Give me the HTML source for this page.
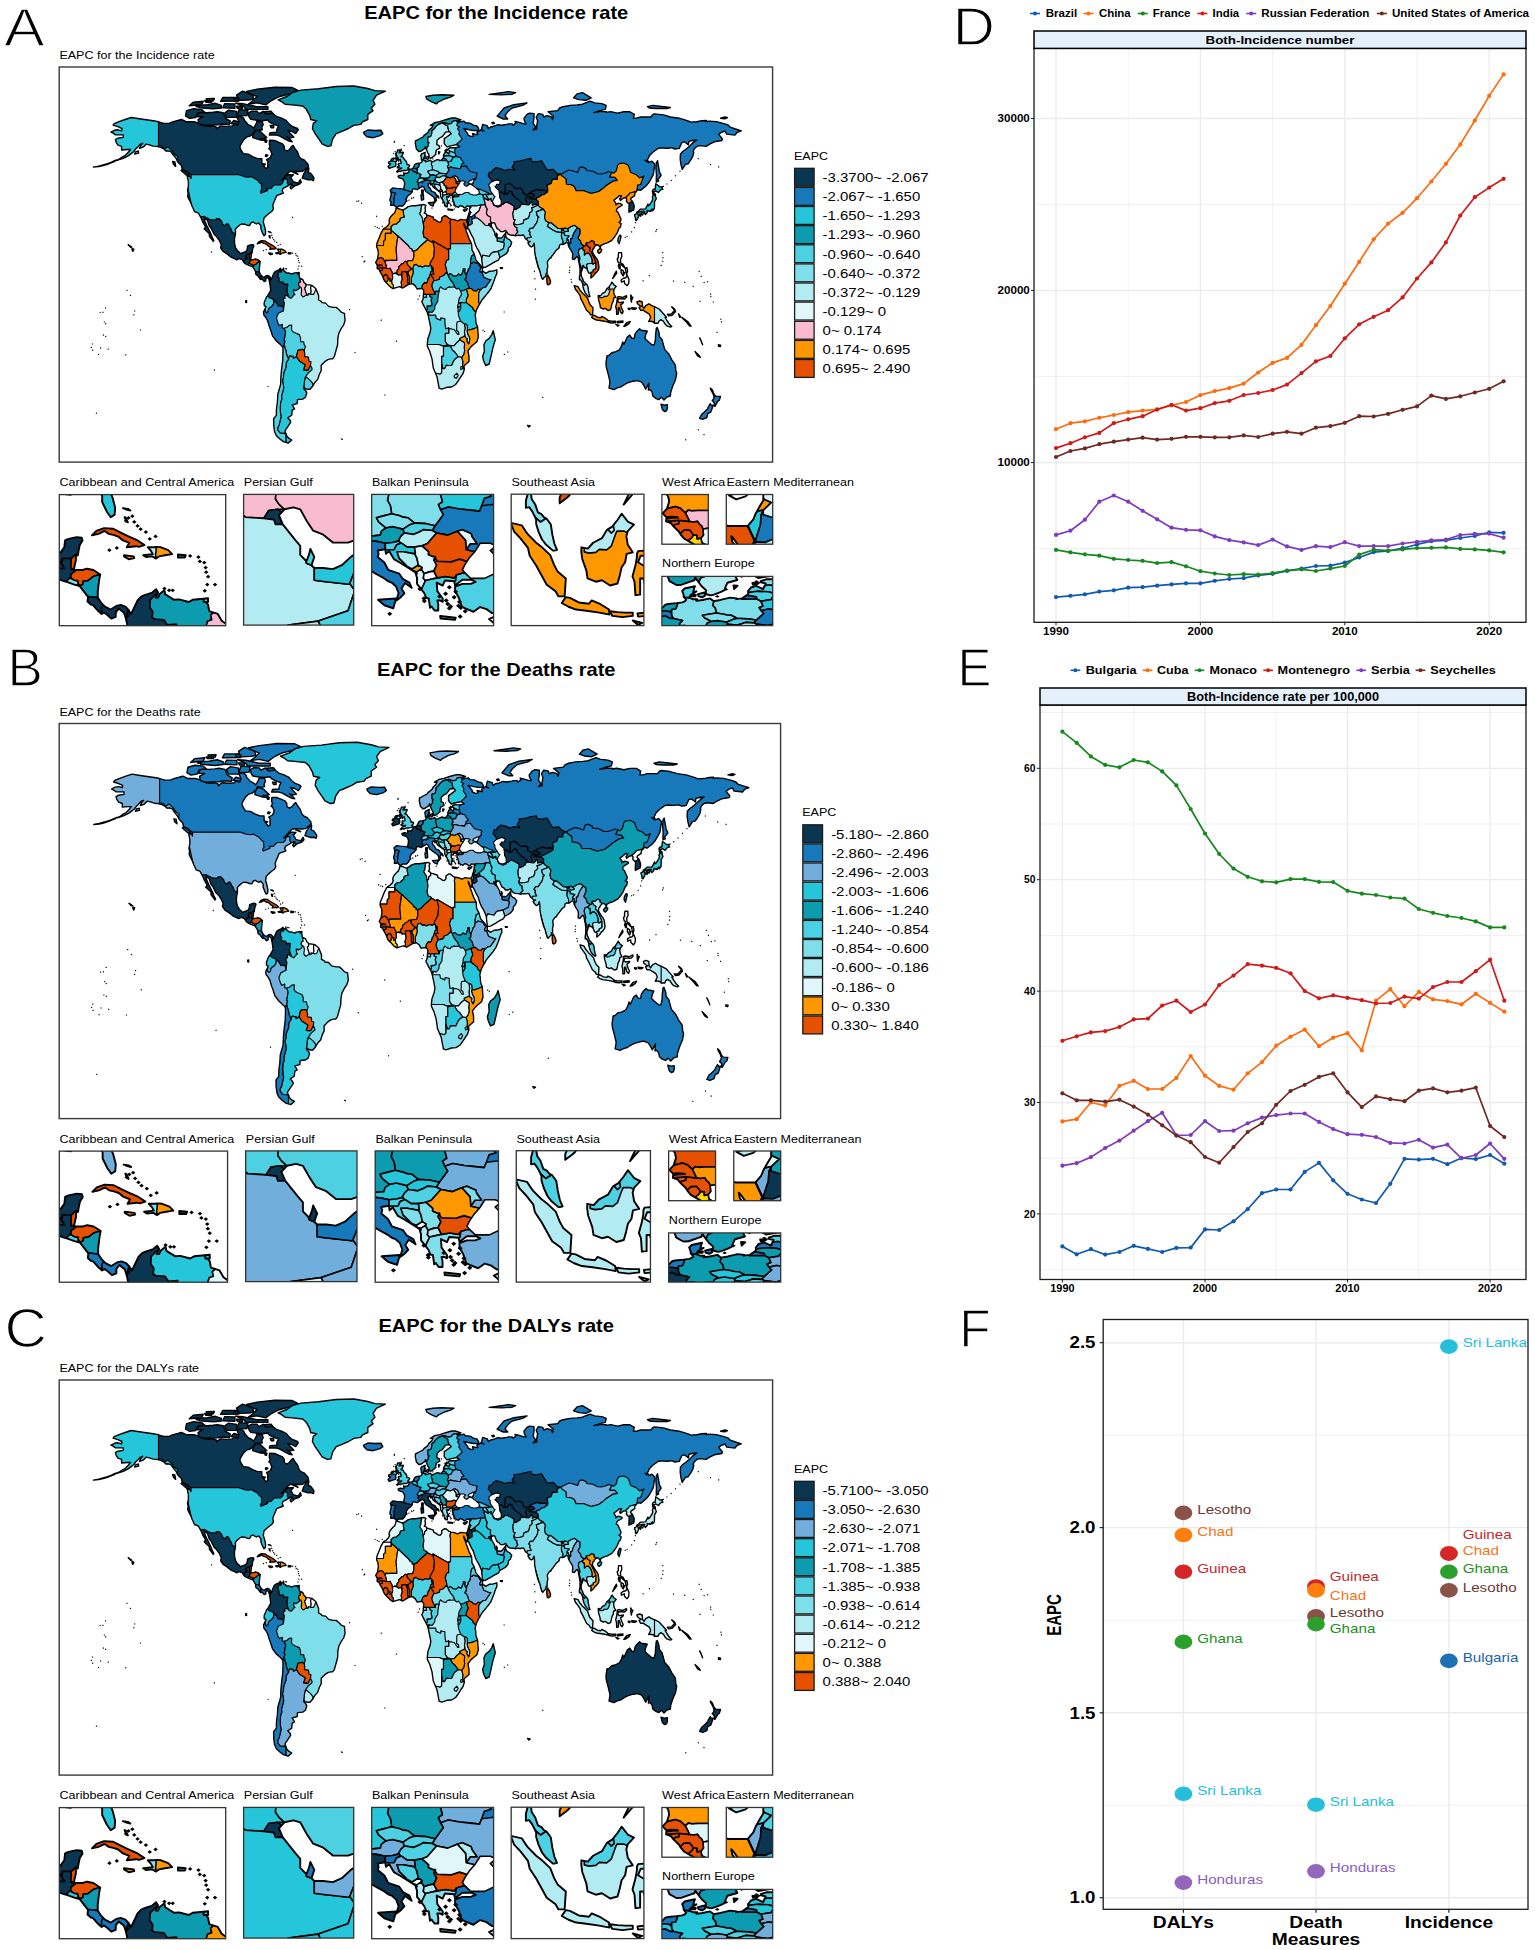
<!DOCTYPE html>
<html><head><meta charset="utf-8"><title>EAPC figure</title>
<style>html,body{margin:0;padding:0;background:#fff}svg{display:block}text{font-family:'Liberation Sans', Arial, Helvetica, sans-serif}#geo path{vector-effect:non-scaling-stroke}</style>
</head><body>
<svg width="1535" height="1950" viewBox="0 0 1535 1950">
<rect width="1535" height="1950" fill="#fff"/>
<text transform="translate(4,45.8) scale(1.13,1)" font-size="54" fill="#000" stroke="#fff" stroke-width="1.3">A</text>
<text transform="translate(7.6,685.6) scale(1.0,1)" font-size="53" fill="#000" stroke="#fff" stroke-width="1.3">B</text>
<text transform="translate(4.4,1346.8) scale(1.07,1)" font-size="55" fill="#000" stroke="#fff" stroke-width="1.3">C</text>
<text transform="translate(952.8,45.4) scale(1.1,1)" font-size="53" fill="#000" stroke="#fff" stroke-width="1.3">D</text>
<text transform="translate(957.6,685.6) scale(0.96,1)" font-size="53" fill="#000" stroke="#fff" stroke-width="1.3">E</text>
<text transform="translate(959.2,1347.4) scale(0.97,1)" font-size="53" fill="#000" stroke="#fff" stroke-width="1.3">F</text>
<rect x="1034" y="48.4" width="492" height="573.9" fill="#fff"/>
<line x1="1034" x2="1526" y1="548.5" y2="548.5" stroke="#ebebeb" stroke-width="0.7"/>
<line x1="1034" x2="1526" y1="376.5" y2="376.5" stroke="#ebebeb" stroke-width="0.7"/>
<line x1="1034" x2="1526" y1="204.4" y2="204.4" stroke="#ebebeb" stroke-width="0.7"/>
<line x1="1128.2" x2="1128.2" y1="48.4" y2="622.3" stroke="#ebebeb" stroke-width="0.7"/>
<line x1="1272.6" x2="1272.6" y1="48.4" y2="622.3" stroke="#ebebeb" stroke-width="0.7"/>
<line x1="1417.0" x2="1417.0" y1="48.4" y2="622.3" stroke="#ebebeb" stroke-width="0.7"/>
<line x1="1034" x2="1526" y1="462.6" y2="462.6" stroke="#ebebeb" stroke-width="1.3"/>
<line x1="1034" x2="1526" y1="290.4" y2="290.4" stroke="#ebebeb" stroke-width="1.3"/>
<line x1="1034" x2="1526" y1="118.5" y2="118.5" stroke="#ebebeb" stroke-width="1.3"/>
<line x1="1056.0" x2="1056.0" y1="48.4" y2="622.3" stroke="#ebebeb" stroke-width="1.3"/>
<line x1="1200.4" x2="1200.4" y1="48.4" y2="622.3" stroke="#ebebeb" stroke-width="1.3"/>
<line x1="1344.8" x2="1344.8" y1="48.4" y2="622.3" stroke="#ebebeb" stroke-width="1.3"/>
<line x1="1489.2" x2="1489.2" y1="48.4" y2="622.3" stroke="#ebebeb" stroke-width="1.3"/>
<polyline points="1056.0,597.1 1070.4,595.8 1084.9,594.3 1099.3,591.6 1113.8,590.3 1128.2,587.7 1142.6,587.2 1157.1,585.7 1171.5,584.4 1186.0,583.3 1200.4,583.3 1214.8,580.8 1229.3,579.0 1243.7,578.2 1258.2,575.4 1272.6,573.8 1287.0,570.9 1301.5,568.6 1315.9,566.0 1330.4,565.7 1344.8,562.6 1359.2,557.5 1373.7,552.1 1388.1,551.0 1402.6,548.2 1417.0,544.5 1431.4,541.2 1445.9,540.3 1460.3,538.0 1474.8,536.0 1489.2,532.3 1503.6,532.8" fill="none" stroke="#1259b0" stroke-width="1.7" stroke-linejoin="round"/>
<circle cx="1056.0" cy="597.1" r="2.1" fill="#1259b0"/>
<circle cx="1070.4" cy="595.8" r="2.1" fill="#1259b0"/>
<circle cx="1084.9" cy="594.3" r="2.1" fill="#1259b0"/>
<circle cx="1099.3" cy="591.6" r="2.1" fill="#1259b0"/>
<circle cx="1113.8" cy="590.3" r="2.1" fill="#1259b0"/>
<circle cx="1128.2" cy="587.7" r="2.1" fill="#1259b0"/>
<circle cx="1142.6" cy="587.2" r="2.1" fill="#1259b0"/>
<circle cx="1157.1" cy="585.7" r="2.1" fill="#1259b0"/>
<circle cx="1171.5" cy="584.4" r="2.1" fill="#1259b0"/>
<circle cx="1186.0" cy="583.3" r="2.1" fill="#1259b0"/>
<circle cx="1200.4" cy="583.3" r="2.1" fill="#1259b0"/>
<circle cx="1214.8" cy="580.8" r="2.1" fill="#1259b0"/>
<circle cx="1229.3" cy="579.0" r="2.1" fill="#1259b0"/>
<circle cx="1243.7" cy="578.2" r="2.1" fill="#1259b0"/>
<circle cx="1258.2" cy="575.4" r="2.1" fill="#1259b0"/>
<circle cx="1272.6" cy="573.8" r="2.1" fill="#1259b0"/>
<circle cx="1287.0" cy="570.9" r="2.1" fill="#1259b0"/>
<circle cx="1301.5" cy="568.6" r="2.1" fill="#1259b0"/>
<circle cx="1315.9" cy="566.0" r="2.1" fill="#1259b0"/>
<circle cx="1330.4" cy="565.7" r="2.1" fill="#1259b0"/>
<circle cx="1344.8" cy="562.6" r="2.1" fill="#1259b0"/>
<circle cx="1359.2" cy="557.5" r="2.1" fill="#1259b0"/>
<circle cx="1373.7" cy="552.1" r="2.1" fill="#1259b0"/>
<circle cx="1388.1" cy="551.0" r="2.1" fill="#1259b0"/>
<circle cx="1402.6" cy="548.2" r="2.1" fill="#1259b0"/>
<circle cx="1417.0" cy="544.5" r="2.1" fill="#1259b0"/>
<circle cx="1431.4" cy="541.2" r="2.1" fill="#1259b0"/>
<circle cx="1445.9" cy="540.3" r="2.1" fill="#1259b0"/>
<circle cx="1460.3" cy="538.0" r="2.1" fill="#1259b0"/>
<circle cx="1474.8" cy="536.0" r="2.1" fill="#1259b0"/>
<circle cx="1489.2" cy="532.3" r="2.1" fill="#1259b0"/>
<circle cx="1503.6" cy="532.8" r="2.1" fill="#1259b0"/>
<polyline points="1056.0,429.2 1070.4,423.2 1084.9,421.4 1099.3,417.8 1113.8,415.0 1128.2,412.2 1142.6,410.6 1157.1,409.3 1171.5,405.4 1186.0,402.0 1200.4,395.1 1214.8,391.1 1229.3,388.1 1243.7,383.6 1258.2,372.5 1272.6,362.9 1287.0,357.9 1301.5,344.8 1315.9,325.2 1330.4,306.0 1344.8,283.7 1359.2,261.8 1373.7,239.3 1388.1,223.6 1402.6,212.8 1417.0,198.2 1431.4,181.5 1445.9,163.8 1460.3,144.4 1474.8,120.5 1489.2,95.9 1503.6,74.4" fill="none" stroke="#ff6a0d" stroke-width="1.7" stroke-linejoin="round"/>
<circle cx="1056.0" cy="429.2" r="2.1" fill="#ff6a0d"/>
<circle cx="1070.4" cy="423.2" r="2.1" fill="#ff6a0d"/>
<circle cx="1084.9" cy="421.4" r="2.1" fill="#ff6a0d"/>
<circle cx="1099.3" cy="417.8" r="2.1" fill="#ff6a0d"/>
<circle cx="1113.8" cy="415.0" r="2.1" fill="#ff6a0d"/>
<circle cx="1128.2" cy="412.2" r="2.1" fill="#ff6a0d"/>
<circle cx="1142.6" cy="410.6" r="2.1" fill="#ff6a0d"/>
<circle cx="1157.1" cy="409.3" r="2.1" fill="#ff6a0d"/>
<circle cx="1171.5" cy="405.4" r="2.1" fill="#ff6a0d"/>
<circle cx="1186.0" cy="402.0" r="2.1" fill="#ff6a0d"/>
<circle cx="1200.4" cy="395.1" r="2.1" fill="#ff6a0d"/>
<circle cx="1214.8" cy="391.1" r="2.1" fill="#ff6a0d"/>
<circle cx="1229.3" cy="388.1" r="2.1" fill="#ff6a0d"/>
<circle cx="1243.7" cy="383.6" r="2.1" fill="#ff6a0d"/>
<circle cx="1258.2" cy="372.5" r="2.1" fill="#ff6a0d"/>
<circle cx="1272.6" cy="362.9" r="2.1" fill="#ff6a0d"/>
<circle cx="1287.0" cy="357.9" r="2.1" fill="#ff6a0d"/>
<circle cx="1301.5" cy="344.8" r="2.1" fill="#ff6a0d"/>
<circle cx="1315.9" cy="325.2" r="2.1" fill="#ff6a0d"/>
<circle cx="1330.4" cy="306.0" r="2.1" fill="#ff6a0d"/>
<circle cx="1344.8" cy="283.7" r="2.1" fill="#ff6a0d"/>
<circle cx="1359.2" cy="261.8" r="2.1" fill="#ff6a0d"/>
<circle cx="1373.7" cy="239.3" r="2.1" fill="#ff6a0d"/>
<circle cx="1388.1" cy="223.6" r="2.1" fill="#ff6a0d"/>
<circle cx="1402.6" cy="212.8" r="2.1" fill="#ff6a0d"/>
<circle cx="1417.0" cy="198.2" r="2.1" fill="#ff6a0d"/>
<circle cx="1431.4" cy="181.5" r="2.1" fill="#ff6a0d"/>
<circle cx="1445.9" cy="163.8" r="2.1" fill="#ff6a0d"/>
<circle cx="1460.3" cy="144.4" r="2.1" fill="#ff6a0d"/>
<circle cx="1474.8" cy="120.5" r="2.1" fill="#ff6a0d"/>
<circle cx="1489.2" cy="95.9" r="2.1" fill="#ff6a0d"/>
<circle cx="1503.6" cy="74.4" r="2.1" fill="#ff6a0d"/>
<polyline points="1056.0,549.9 1070.4,552.3 1084.9,554.3 1099.3,555.7 1113.8,558.8 1128.2,560.0 1142.6,560.8 1157.1,563.1 1171.5,562.1 1186.0,566.3 1200.4,571.2 1214.8,573.5 1229.3,575.0 1243.7,574.1 1258.2,574.6 1272.6,573.2 1287.0,570.6 1301.5,569.3 1315.9,571.0 1330.4,568.6 1344.8,566.0 1359.2,554.6 1373.7,549.7 1388.1,550.7 1402.6,549.4 1417.0,548.1 1431.4,547.8 1445.9,547.4 1460.3,548.9 1474.8,549.4 1489.2,550.4 1503.6,552.3" fill="none" stroke="#16881f" stroke-width="1.7" stroke-linejoin="round"/>
<circle cx="1056.0" cy="549.9" r="2.1" fill="#16881f"/>
<circle cx="1070.4" cy="552.3" r="2.1" fill="#16881f"/>
<circle cx="1084.9" cy="554.3" r="2.1" fill="#16881f"/>
<circle cx="1099.3" cy="555.7" r="2.1" fill="#16881f"/>
<circle cx="1113.8" cy="558.8" r="2.1" fill="#16881f"/>
<circle cx="1128.2" cy="560.0" r="2.1" fill="#16881f"/>
<circle cx="1142.6" cy="560.8" r="2.1" fill="#16881f"/>
<circle cx="1157.1" cy="563.1" r="2.1" fill="#16881f"/>
<circle cx="1171.5" cy="562.1" r="2.1" fill="#16881f"/>
<circle cx="1186.0" cy="566.3" r="2.1" fill="#16881f"/>
<circle cx="1200.4" cy="571.2" r="2.1" fill="#16881f"/>
<circle cx="1214.8" cy="573.5" r="2.1" fill="#16881f"/>
<circle cx="1229.3" cy="575.0" r="2.1" fill="#16881f"/>
<circle cx="1243.7" cy="574.1" r="2.1" fill="#16881f"/>
<circle cx="1258.2" cy="574.6" r="2.1" fill="#16881f"/>
<circle cx="1272.6" cy="573.2" r="2.1" fill="#16881f"/>
<circle cx="1287.0" cy="570.6" r="2.1" fill="#16881f"/>
<circle cx="1301.5" cy="569.3" r="2.1" fill="#16881f"/>
<circle cx="1315.9" cy="571.0" r="2.1" fill="#16881f"/>
<circle cx="1330.4" cy="568.6" r="2.1" fill="#16881f"/>
<circle cx="1344.8" cy="566.0" r="2.1" fill="#16881f"/>
<circle cx="1359.2" cy="554.6" r="2.1" fill="#16881f"/>
<circle cx="1373.7" cy="549.7" r="2.1" fill="#16881f"/>
<circle cx="1388.1" cy="550.7" r="2.1" fill="#16881f"/>
<circle cx="1402.6" cy="549.4" r="2.1" fill="#16881f"/>
<circle cx="1417.0" cy="548.1" r="2.1" fill="#16881f"/>
<circle cx="1431.4" cy="547.8" r="2.1" fill="#16881f"/>
<circle cx="1445.9" cy="547.4" r="2.1" fill="#16881f"/>
<circle cx="1460.3" cy="548.9" r="2.1" fill="#16881f"/>
<circle cx="1474.8" cy="549.4" r="2.1" fill="#16881f"/>
<circle cx="1489.2" cy="550.4" r="2.1" fill="#16881f"/>
<circle cx="1503.6" cy="552.3" r="2.1" fill="#16881f"/>
<polyline points="1056.0,448.1 1070.4,443.2 1084.9,437.3 1099.3,432.9 1113.8,423.2 1128.2,419.3 1142.6,416.2 1157.1,409.6 1171.5,404.8 1186.0,410.6 1200.4,408.2 1214.8,403.1 1229.3,400.8 1243.7,395.0 1258.2,393.0 1272.6,390.0 1287.0,384.6 1301.5,373.1 1315.9,361.4 1330.4,356.0 1344.8,338.3 1359.2,324.3 1373.7,316.8 1388.1,310.2 1402.6,297.4 1417.0,278.5 1431.4,262.4 1445.9,242.4 1460.3,215.5 1474.8,197.2 1489.2,187.6 1503.6,178.8" fill="none" stroke="#cf1a1a" stroke-width="1.7" stroke-linejoin="round"/>
<circle cx="1056.0" cy="448.1" r="2.1" fill="#cf1a1a"/>
<circle cx="1070.4" cy="443.2" r="2.1" fill="#cf1a1a"/>
<circle cx="1084.9" cy="437.3" r="2.1" fill="#cf1a1a"/>
<circle cx="1099.3" cy="432.9" r="2.1" fill="#cf1a1a"/>
<circle cx="1113.8" cy="423.2" r="2.1" fill="#cf1a1a"/>
<circle cx="1128.2" cy="419.3" r="2.1" fill="#cf1a1a"/>
<circle cx="1142.6" cy="416.2" r="2.1" fill="#cf1a1a"/>
<circle cx="1157.1" cy="409.6" r="2.1" fill="#cf1a1a"/>
<circle cx="1171.5" cy="404.8" r="2.1" fill="#cf1a1a"/>
<circle cx="1186.0" cy="410.6" r="2.1" fill="#cf1a1a"/>
<circle cx="1200.4" cy="408.2" r="2.1" fill="#cf1a1a"/>
<circle cx="1214.8" cy="403.1" r="2.1" fill="#cf1a1a"/>
<circle cx="1229.3" cy="400.8" r="2.1" fill="#cf1a1a"/>
<circle cx="1243.7" cy="395.0" r="2.1" fill="#cf1a1a"/>
<circle cx="1258.2" cy="393.0" r="2.1" fill="#cf1a1a"/>
<circle cx="1272.6" cy="390.0" r="2.1" fill="#cf1a1a"/>
<circle cx="1287.0" cy="384.6" r="2.1" fill="#cf1a1a"/>
<circle cx="1301.5" cy="373.1" r="2.1" fill="#cf1a1a"/>
<circle cx="1315.9" cy="361.4" r="2.1" fill="#cf1a1a"/>
<circle cx="1330.4" cy="356.0" r="2.1" fill="#cf1a1a"/>
<circle cx="1344.8" cy="338.3" r="2.1" fill="#cf1a1a"/>
<circle cx="1359.2" cy="324.3" r="2.1" fill="#cf1a1a"/>
<circle cx="1373.7" cy="316.8" r="2.1" fill="#cf1a1a"/>
<circle cx="1388.1" cy="310.2" r="2.1" fill="#cf1a1a"/>
<circle cx="1402.6" cy="297.4" r="2.1" fill="#cf1a1a"/>
<circle cx="1417.0" cy="278.5" r="2.1" fill="#cf1a1a"/>
<circle cx="1431.4" cy="262.4" r="2.1" fill="#cf1a1a"/>
<circle cx="1445.9" cy="242.4" r="2.1" fill="#cf1a1a"/>
<circle cx="1460.3" cy="215.5" r="2.1" fill="#cf1a1a"/>
<circle cx="1474.8" cy="197.2" r="2.1" fill="#cf1a1a"/>
<circle cx="1489.2" cy="187.6" r="2.1" fill="#cf1a1a"/>
<circle cx="1503.6" cy="178.8" r="2.1" fill="#cf1a1a"/>
<polyline points="1056.0,534.9 1070.4,530.7 1084.9,519.7 1099.3,501.7 1113.8,495.5 1128.2,501.7 1142.6,510.8 1157.1,519.3 1171.5,527.7 1186.0,529.8 1200.4,530.3 1214.8,536.4 1229.3,540.1 1243.7,542.4 1258.2,545.1 1272.6,539.6 1287.0,546.4 1301.5,549.9 1315.9,546.1 1330.4,547.1 1344.8,542.2 1359.2,546.1 1373.7,546.1 1388.1,546.1 1402.6,543.5 1417.0,541.9 1431.4,540.3 1445.9,539.6 1460.3,535.0 1474.8,533.9 1489.2,533.6 1503.6,537.7" fill="none" stroke="#7d3cbd" stroke-width="1.7" stroke-linejoin="round"/>
<circle cx="1056.0" cy="534.9" r="2.1" fill="#7d3cbd"/>
<circle cx="1070.4" cy="530.7" r="2.1" fill="#7d3cbd"/>
<circle cx="1084.9" cy="519.7" r="2.1" fill="#7d3cbd"/>
<circle cx="1099.3" cy="501.7" r="2.1" fill="#7d3cbd"/>
<circle cx="1113.8" cy="495.5" r="2.1" fill="#7d3cbd"/>
<circle cx="1128.2" cy="501.7" r="2.1" fill="#7d3cbd"/>
<circle cx="1142.6" cy="510.8" r="2.1" fill="#7d3cbd"/>
<circle cx="1157.1" cy="519.3" r="2.1" fill="#7d3cbd"/>
<circle cx="1171.5" cy="527.7" r="2.1" fill="#7d3cbd"/>
<circle cx="1186.0" cy="529.8" r="2.1" fill="#7d3cbd"/>
<circle cx="1200.4" cy="530.3" r="2.1" fill="#7d3cbd"/>
<circle cx="1214.8" cy="536.4" r="2.1" fill="#7d3cbd"/>
<circle cx="1229.3" cy="540.1" r="2.1" fill="#7d3cbd"/>
<circle cx="1243.7" cy="542.4" r="2.1" fill="#7d3cbd"/>
<circle cx="1258.2" cy="545.1" r="2.1" fill="#7d3cbd"/>
<circle cx="1272.6" cy="539.6" r="2.1" fill="#7d3cbd"/>
<circle cx="1287.0" cy="546.4" r="2.1" fill="#7d3cbd"/>
<circle cx="1301.5" cy="549.9" r="2.1" fill="#7d3cbd"/>
<circle cx="1315.9" cy="546.1" r="2.1" fill="#7d3cbd"/>
<circle cx="1330.4" cy="547.1" r="2.1" fill="#7d3cbd"/>
<circle cx="1344.8" cy="542.2" r="2.1" fill="#7d3cbd"/>
<circle cx="1359.2" cy="546.1" r="2.1" fill="#7d3cbd"/>
<circle cx="1373.7" cy="546.1" r="2.1" fill="#7d3cbd"/>
<circle cx="1388.1" cy="546.1" r="2.1" fill="#7d3cbd"/>
<circle cx="1402.6" cy="543.5" r="2.1" fill="#7d3cbd"/>
<circle cx="1417.0" cy="541.9" r="2.1" fill="#7d3cbd"/>
<circle cx="1431.4" cy="540.3" r="2.1" fill="#7d3cbd"/>
<circle cx="1445.9" cy="539.6" r="2.1" fill="#7d3cbd"/>
<circle cx="1460.3" cy="535.0" r="2.1" fill="#7d3cbd"/>
<circle cx="1474.8" cy="533.9" r="2.1" fill="#7d3cbd"/>
<circle cx="1489.2" cy="533.6" r="2.1" fill="#7d3cbd"/>
<circle cx="1503.6" cy="537.7" r="2.1" fill="#7d3cbd"/>
<polyline points="1056.0,457.0 1070.4,451.0 1084.9,448.4 1099.3,444.2 1113.8,441.7 1128.2,439.6 1142.6,437.7 1157.1,439.6 1171.5,438.8 1186.0,436.8 1200.4,436.8 1214.8,437.3 1229.3,437.3 1243.7,435.4 1258.2,437.0 1272.6,433.7 1287.0,431.8 1301.5,433.7 1315.9,427.7 1330.4,426.1 1344.8,422.8 1359.2,416.2 1373.7,416.5 1388.1,413.9 1402.6,409.8 1417.0,406.4 1431.4,395.6 1445.9,398.9 1460.3,396.3 1474.8,392.5 1489.2,388.8 1503.6,381.3" fill="none" stroke="#6e2a22" stroke-width="1.7" stroke-linejoin="round"/>
<circle cx="1056.0" cy="457.0" r="2.1" fill="#6e2a22"/>
<circle cx="1070.4" cy="451.0" r="2.1" fill="#6e2a22"/>
<circle cx="1084.9" cy="448.4" r="2.1" fill="#6e2a22"/>
<circle cx="1099.3" cy="444.2" r="2.1" fill="#6e2a22"/>
<circle cx="1113.8" cy="441.7" r="2.1" fill="#6e2a22"/>
<circle cx="1128.2" cy="439.6" r="2.1" fill="#6e2a22"/>
<circle cx="1142.6" cy="437.7" r="2.1" fill="#6e2a22"/>
<circle cx="1157.1" cy="439.6" r="2.1" fill="#6e2a22"/>
<circle cx="1171.5" cy="438.8" r="2.1" fill="#6e2a22"/>
<circle cx="1186.0" cy="436.8" r="2.1" fill="#6e2a22"/>
<circle cx="1200.4" cy="436.8" r="2.1" fill="#6e2a22"/>
<circle cx="1214.8" cy="437.3" r="2.1" fill="#6e2a22"/>
<circle cx="1229.3" cy="437.3" r="2.1" fill="#6e2a22"/>
<circle cx="1243.7" cy="435.4" r="2.1" fill="#6e2a22"/>
<circle cx="1258.2" cy="437.0" r="2.1" fill="#6e2a22"/>
<circle cx="1272.6" cy="433.7" r="2.1" fill="#6e2a22"/>
<circle cx="1287.0" cy="431.8" r="2.1" fill="#6e2a22"/>
<circle cx="1301.5" cy="433.7" r="2.1" fill="#6e2a22"/>
<circle cx="1315.9" cy="427.7" r="2.1" fill="#6e2a22"/>
<circle cx="1330.4" cy="426.1" r="2.1" fill="#6e2a22"/>
<circle cx="1344.8" cy="422.8" r="2.1" fill="#6e2a22"/>
<circle cx="1359.2" cy="416.2" r="2.1" fill="#6e2a22"/>
<circle cx="1373.7" cy="416.5" r="2.1" fill="#6e2a22"/>
<circle cx="1388.1" cy="413.9" r="2.1" fill="#6e2a22"/>
<circle cx="1402.6" cy="409.8" r="2.1" fill="#6e2a22"/>
<circle cx="1417.0" cy="406.4" r="2.1" fill="#6e2a22"/>
<circle cx="1431.4" cy="395.6" r="2.1" fill="#6e2a22"/>
<circle cx="1445.9" cy="398.9" r="2.1" fill="#6e2a22"/>
<circle cx="1460.3" cy="396.3" r="2.1" fill="#6e2a22"/>
<circle cx="1474.8" cy="392.5" r="2.1" fill="#6e2a22"/>
<circle cx="1489.2" cy="388.8" r="2.1" fill="#6e2a22"/>
<circle cx="1503.6" cy="381.3" r="2.1" fill="#6e2a22"/>
<rect x="1034" y="48.4" width="492" height="573.9" fill="none" stroke="#1a1a1a" stroke-width="1.3"/>
<rect x="1034" y="31" width="492" height="17.4" fill="#e4f0fb" stroke="#000" stroke-width="1.5"/>
<text transform="translate(1280.0,43.9) scale(1.160,1)" font-size="11.5" font-weight="bold" text-anchor="middle" fill="#000" >Both-Incidence number</text>
<line x1="1031" x2="1034" y1="462.6" y2="462.6" stroke="#222" stroke-width="1"/>
<text transform="translate(1029.8,466.3) scale(1.140,1)" font-size="10.2" font-weight="bold" text-anchor="end" fill="#000" >10000</text>
<line x1="1031" x2="1034" y1="290.4" y2="290.4" stroke="#222" stroke-width="1"/>
<text transform="translate(1029.8,294.1) scale(1.140,1)" font-size="10.2" font-weight="bold" text-anchor="end" fill="#000" >20000</text>
<line x1="1031" x2="1034" y1="118.5" y2="118.5" stroke="#222" stroke-width="1"/>
<text transform="translate(1029.8,122.2) scale(1.140,1)" font-size="10.2" font-weight="bold" text-anchor="end" fill="#000" >30000</text>
<line x1="1056.0" x2="1056.0" y1="622.3" y2="625.3" stroke="#222" stroke-width="1"/>
<text transform="translate(1056.0,634.8) scale(1.140,1)" font-size="10.2" font-weight="bold" text-anchor="middle" fill="#000" >1990</text>
<line x1="1200.4" x2="1200.4" y1="622.3" y2="625.3" stroke="#222" stroke-width="1"/>
<text transform="translate(1200.4,634.8) scale(1.140,1)" font-size="10.2" font-weight="bold" text-anchor="middle" fill="#000" >2000</text>
<line x1="1344.8" x2="1344.8" y1="622.3" y2="625.3" stroke="#222" stroke-width="1"/>
<text transform="translate(1344.8,634.8) scale(1.140,1)" font-size="10.2" font-weight="bold" text-anchor="middle" fill="#000" >2010</text>
<line x1="1489.2" x2="1489.2" y1="622.3" y2="625.3" stroke="#222" stroke-width="1"/>
<text transform="translate(1489.2,634.8) scale(1.140,1)" font-size="10.2" font-weight="bold" text-anchor="middle" fill="#000" >2020</text>
<line x1="1030.0" x2="1040.0" y1="13.5" y2="13.5" stroke="#1259b0" stroke-width="1.6"/>
<circle cx="1035.0" cy="13.5" r="2" fill="#1259b0"/>
<text x="1045.8" y="17.2" font-size="11" font-weight="bold" textLength="31.4" lengthAdjust="spacingAndGlyphs">Brazil</text>
<line x1="1083.4" x2="1093.5" y1="13.5" y2="13.5" stroke="#ff6a0d" stroke-width="1.6"/>
<circle cx="1088.5" cy="13.5" r="2" fill="#ff6a0d"/>
<text x="1098.9" y="17.2" font-size="11" font-weight="bold" textLength="31.8" lengthAdjust="spacingAndGlyphs">China</text>
<line x1="1137.7" x2="1147.8" y1="13.5" y2="13.5" stroke="#16881f" stroke-width="1.6"/>
<circle cx="1142.8" cy="13.5" r="2" fill="#16881f"/>
<text x="1152.8" y="17.2" font-size="11" font-weight="bold" textLength="37.6" lengthAdjust="spacingAndGlyphs">France</text>
<line x1="1197.4" x2="1207.4" y1="13.5" y2="13.5" stroke="#cf1a1a" stroke-width="1.6"/>
<circle cx="1202.4" cy="13.5" r="2" fill="#cf1a1a"/>
<text x="1212.5" y="17.2" font-size="11" font-weight="bold" textLength="26.7" lengthAdjust="spacingAndGlyphs">India</text>
<line x1="1246.2" x2="1256.3" y1="13.5" y2="13.5" stroke="#7d3cbd" stroke-width="1.6"/>
<circle cx="1251.2" cy="13.5" r="2" fill="#7d3cbd"/>
<text x="1261.3" y="17.2" font-size="11" font-weight="bold" textLength="108.2" lengthAdjust="spacingAndGlyphs">Russian Federation</text>
<line x1="1376.8" x2="1386.9" y1="13.5" y2="13.5" stroke="#6e2a22" stroke-width="1.6"/>
<circle cx="1381.8" cy="13.5" r="2" fill="#6e2a22"/>
<text x="1391.9" y="17.2" font-size="11" font-weight="bold" textLength="137.2" lengthAdjust="spacingAndGlyphs">United States of America</text>
<rect x="1040" y="705" width="486" height="574.5" fill="#fff"/>
<line x1="1040" x2="1526" y1="712.6" y2="712.6" stroke="#ebebeb" stroke-width="0.7"/>
<line x1="1040" x2="1526" y1="824.0" y2="824.0" stroke="#ebebeb" stroke-width="0.7"/>
<line x1="1040" x2="1526" y1="935.4" y2="935.4" stroke="#ebebeb" stroke-width="0.7"/>
<line x1="1040" x2="1526" y1="1046.8" y2="1046.8" stroke="#ebebeb" stroke-width="0.7"/>
<line x1="1040" x2="1526" y1="1158.2" y2="1158.2" stroke="#ebebeb" stroke-width="0.7"/>
<line x1="1040" x2="1526" y1="1269.7" y2="1269.7" stroke="#ebebeb" stroke-width="0.7"/>
<line x1="1133.7" x2="1133.7" y1="705" y2="1279.5" stroke="#ebebeb" stroke-width="0.7"/>
<line x1="1276.2" x2="1276.2" y1="705" y2="1279.5" stroke="#ebebeb" stroke-width="0.7"/>
<line x1="1418.8" x2="1418.8" y1="705" y2="1279.5" stroke="#ebebeb" stroke-width="0.7"/>
<line x1="1040" x2="1526" y1="768.3" y2="768.3" stroke="#ebebeb" stroke-width="1.3"/>
<line x1="1040" x2="1526" y1="879.7" y2="879.7" stroke="#ebebeb" stroke-width="1.3"/>
<line x1="1040" x2="1526" y1="991.1" y2="991.1" stroke="#ebebeb" stroke-width="1.3"/>
<line x1="1040" x2="1526" y1="1102.5" y2="1102.5" stroke="#ebebeb" stroke-width="1.3"/>
<line x1="1040" x2="1526" y1="1213.9" y2="1213.9" stroke="#ebebeb" stroke-width="1.3"/>
<line x1="1062.4" x2="1062.4" y1="705" y2="1279.5" stroke="#ebebeb" stroke-width="1.3"/>
<line x1="1205.0" x2="1205.0" y1="705" y2="1279.5" stroke="#ebebeb" stroke-width="1.3"/>
<line x1="1347.5" x2="1347.5" y1="705" y2="1279.5" stroke="#ebebeb" stroke-width="1.3"/>
<line x1="1490.1" x2="1490.1" y1="705" y2="1279.5" stroke="#ebebeb" stroke-width="1.3"/>
<polyline points="1062.4,1246.4 1076.7,1254.3 1090.9,1249.2 1105.2,1254.6 1119.4,1252.0 1133.7,1245.8 1147.9,1248.9 1162.2,1252.0 1176.4,1247.9 1190.7,1247.6 1205.0,1229.4 1219.2,1230.0 1233.5,1221.3 1247.7,1209.2 1262.0,1193.1 1276.2,1189.5 1290.5,1189.5 1304.7,1171.9 1319.0,1162.9 1333.2,1180.3 1347.5,1193.8 1361.8,1199.5 1376.0,1203.0 1390.3,1183.8 1404.5,1158.8 1418.8,1159.6 1433.0,1158.8 1447.3,1164.2 1461.5,1158.0 1475.8,1159.1 1490.1,1155.0 1504.3,1163.7" fill="none" stroke="#1259b0" stroke-width="1.7" stroke-linejoin="round"/>
<circle cx="1062.4" cy="1246.4" r="2.1" fill="#1259b0"/>
<circle cx="1076.7" cy="1254.3" r="2.1" fill="#1259b0"/>
<circle cx="1090.9" cy="1249.2" r="2.1" fill="#1259b0"/>
<circle cx="1105.2" cy="1254.6" r="2.1" fill="#1259b0"/>
<circle cx="1119.4" cy="1252.0" r="2.1" fill="#1259b0"/>
<circle cx="1133.7" cy="1245.8" r="2.1" fill="#1259b0"/>
<circle cx="1147.9" cy="1248.9" r="2.1" fill="#1259b0"/>
<circle cx="1162.2" cy="1252.0" r="2.1" fill="#1259b0"/>
<circle cx="1176.4" cy="1247.9" r="2.1" fill="#1259b0"/>
<circle cx="1190.7" cy="1247.6" r="2.1" fill="#1259b0"/>
<circle cx="1205.0" cy="1229.4" r="2.1" fill="#1259b0"/>
<circle cx="1219.2" cy="1230.0" r="2.1" fill="#1259b0"/>
<circle cx="1233.5" cy="1221.3" r="2.1" fill="#1259b0"/>
<circle cx="1247.7" cy="1209.2" r="2.1" fill="#1259b0"/>
<circle cx="1262.0" cy="1193.1" r="2.1" fill="#1259b0"/>
<circle cx="1276.2" cy="1189.5" r="2.1" fill="#1259b0"/>
<circle cx="1290.5" cy="1189.5" r="2.1" fill="#1259b0"/>
<circle cx="1304.7" cy="1171.9" r="2.1" fill="#1259b0"/>
<circle cx="1319.0" cy="1162.9" r="2.1" fill="#1259b0"/>
<circle cx="1333.2" cy="1180.3" r="2.1" fill="#1259b0"/>
<circle cx="1347.5" cy="1193.8" r="2.1" fill="#1259b0"/>
<circle cx="1361.8" cy="1199.5" r="2.1" fill="#1259b0"/>
<circle cx="1376.0" cy="1203.0" r="2.1" fill="#1259b0"/>
<circle cx="1390.3" cy="1183.8" r="2.1" fill="#1259b0"/>
<circle cx="1404.5" cy="1158.8" r="2.1" fill="#1259b0"/>
<circle cx="1418.8" cy="1159.6" r="2.1" fill="#1259b0"/>
<circle cx="1433.0" cy="1158.8" r="2.1" fill="#1259b0"/>
<circle cx="1447.3" cy="1164.2" r="2.1" fill="#1259b0"/>
<circle cx="1461.5" cy="1158.0" r="2.1" fill="#1259b0"/>
<circle cx="1475.8" cy="1159.1" r="2.1" fill="#1259b0"/>
<circle cx="1490.1" cy="1155.0" r="2.1" fill="#1259b0"/>
<circle cx="1504.3" cy="1163.7" r="2.1" fill="#1259b0"/>
<polyline points="1062.4,1121.4 1076.7,1119.2 1090.9,1102.5 1105.2,1105.6 1119.4,1085.9 1133.7,1080.8 1147.9,1089.0 1162.2,1089.0 1176.4,1077.9 1190.7,1056.0 1205.0,1075.7 1219.2,1085.9 1233.5,1089.7 1247.7,1073.3 1262.0,1062.1 1276.2,1045.7 1290.5,1036.8 1304.7,1029.6 1319.0,1046.2 1333.2,1037.7 1347.5,1033.1 1361.8,1050.3 1376.0,1000.7 1390.3,989.2 1404.5,1006.2 1418.8,991.9 1433.0,999.4 1447.3,1001.1 1461.5,1004.3 1475.8,993.8 1490.1,1002.9 1504.3,1011.7" fill="none" stroke="#ff6a0d" stroke-width="1.7" stroke-linejoin="round"/>
<circle cx="1062.4" cy="1121.4" r="2.1" fill="#ff6a0d"/>
<circle cx="1076.7" cy="1119.2" r="2.1" fill="#ff6a0d"/>
<circle cx="1090.9" cy="1102.5" r="2.1" fill="#ff6a0d"/>
<circle cx="1105.2" cy="1105.6" r="2.1" fill="#ff6a0d"/>
<circle cx="1119.4" cy="1085.9" r="2.1" fill="#ff6a0d"/>
<circle cx="1133.7" cy="1080.8" r="2.1" fill="#ff6a0d"/>
<circle cx="1147.9" cy="1089.0" r="2.1" fill="#ff6a0d"/>
<circle cx="1162.2" cy="1089.0" r="2.1" fill="#ff6a0d"/>
<circle cx="1176.4" cy="1077.9" r="2.1" fill="#ff6a0d"/>
<circle cx="1190.7" cy="1056.0" r="2.1" fill="#ff6a0d"/>
<circle cx="1205.0" cy="1075.7" r="2.1" fill="#ff6a0d"/>
<circle cx="1219.2" cy="1085.9" r="2.1" fill="#ff6a0d"/>
<circle cx="1233.5" cy="1089.7" r="2.1" fill="#ff6a0d"/>
<circle cx="1247.7" cy="1073.3" r="2.1" fill="#ff6a0d"/>
<circle cx="1262.0" cy="1062.1" r="2.1" fill="#ff6a0d"/>
<circle cx="1276.2" cy="1045.7" r="2.1" fill="#ff6a0d"/>
<circle cx="1290.5" cy="1036.8" r="2.1" fill="#ff6a0d"/>
<circle cx="1304.7" cy="1029.6" r="2.1" fill="#ff6a0d"/>
<circle cx="1319.0" cy="1046.2" r="2.1" fill="#ff6a0d"/>
<circle cx="1333.2" cy="1037.7" r="2.1" fill="#ff6a0d"/>
<circle cx="1347.5" cy="1033.1" r="2.1" fill="#ff6a0d"/>
<circle cx="1361.8" cy="1050.3" r="2.1" fill="#ff6a0d"/>
<circle cx="1376.0" cy="1000.7" r="2.1" fill="#ff6a0d"/>
<circle cx="1390.3" cy="989.2" r="2.1" fill="#ff6a0d"/>
<circle cx="1404.5" cy="1006.2" r="2.1" fill="#ff6a0d"/>
<circle cx="1418.8" cy="991.9" r="2.1" fill="#ff6a0d"/>
<circle cx="1433.0" cy="999.4" r="2.1" fill="#ff6a0d"/>
<circle cx="1447.3" cy="1001.1" r="2.1" fill="#ff6a0d"/>
<circle cx="1461.5" cy="1004.3" r="2.1" fill="#ff6a0d"/>
<circle cx="1475.8" cy="993.8" r="2.1" fill="#ff6a0d"/>
<circle cx="1490.1" cy="1002.9" r="2.1" fill="#ff6a0d"/>
<circle cx="1504.3" cy="1011.7" r="2.1" fill="#ff6a0d"/>
<polyline points="1062.4,731.7 1076.7,742.9 1090.9,756.4 1105.2,764.9 1119.4,767.3 1133.7,760.0 1147.9,762.3 1162.2,771.4 1176.4,785.4 1190.7,809.0 1205.0,833.5 1219.2,854.0 1233.5,868.6 1247.7,876.8 1262.0,881.3 1276.2,882.3 1290.5,879.1 1304.7,879.1 1319.0,881.8 1333.2,882.1 1347.5,890.8 1361.8,893.7 1376.0,895.0 1390.3,897.5 1404.5,898.6 1418.8,909.0 1433.0,912.8 1447.3,916.0 1461.5,918.0 1475.8,921.4 1490.1,927.4 1504.3,927.4" fill="none" stroke="#16881f" stroke-width="1.7" stroke-linejoin="round"/>
<circle cx="1062.4" cy="731.7" r="2.1" fill="#16881f"/>
<circle cx="1076.7" cy="742.9" r="2.1" fill="#16881f"/>
<circle cx="1090.9" cy="756.4" r="2.1" fill="#16881f"/>
<circle cx="1105.2" cy="764.9" r="2.1" fill="#16881f"/>
<circle cx="1119.4" cy="767.3" r="2.1" fill="#16881f"/>
<circle cx="1133.7" cy="760.0" r="2.1" fill="#16881f"/>
<circle cx="1147.9" cy="762.3" r="2.1" fill="#16881f"/>
<circle cx="1162.2" cy="771.4" r="2.1" fill="#16881f"/>
<circle cx="1176.4" cy="785.4" r="2.1" fill="#16881f"/>
<circle cx="1190.7" cy="809.0" r="2.1" fill="#16881f"/>
<circle cx="1205.0" cy="833.5" r="2.1" fill="#16881f"/>
<circle cx="1219.2" cy="854.0" r="2.1" fill="#16881f"/>
<circle cx="1233.5" cy="868.6" r="2.1" fill="#16881f"/>
<circle cx="1247.7" cy="876.8" r="2.1" fill="#16881f"/>
<circle cx="1262.0" cy="881.3" r="2.1" fill="#16881f"/>
<circle cx="1276.2" cy="882.3" r="2.1" fill="#16881f"/>
<circle cx="1290.5" cy="879.1" r="2.1" fill="#16881f"/>
<circle cx="1304.7" cy="879.1" r="2.1" fill="#16881f"/>
<circle cx="1319.0" cy="881.8" r="2.1" fill="#16881f"/>
<circle cx="1333.2" cy="882.1" r="2.1" fill="#16881f"/>
<circle cx="1347.5" cy="890.8" r="2.1" fill="#16881f"/>
<circle cx="1361.8" cy="893.7" r="2.1" fill="#16881f"/>
<circle cx="1376.0" cy="895.0" r="2.1" fill="#16881f"/>
<circle cx="1390.3" cy="897.5" r="2.1" fill="#16881f"/>
<circle cx="1404.5" cy="898.6" r="2.1" fill="#16881f"/>
<circle cx="1418.8" cy="909.0" r="2.1" fill="#16881f"/>
<circle cx="1433.0" cy="912.8" r="2.1" fill="#16881f"/>
<circle cx="1447.3" cy="916.0" r="2.1" fill="#16881f"/>
<circle cx="1461.5" cy="918.0" r="2.1" fill="#16881f"/>
<circle cx="1475.8" cy="921.4" r="2.1" fill="#16881f"/>
<circle cx="1490.1" cy="927.4" r="2.1" fill="#16881f"/>
<circle cx="1504.3" cy="927.4" r="2.1" fill="#16881f"/>
<polyline points="1062.4,1040.8 1076.7,1036.3 1090.9,1032.4 1105.2,1031.1 1119.4,1027.0 1133.7,1019.4 1147.9,1018.6 1162.2,1005.5 1176.4,1000.7 1190.7,1012.0 1205.0,1004.6 1219.2,985.1 1233.5,975.6 1247.7,964.1 1262.0,965.7 1276.2,967.9 1290.5,973.3 1304.7,991.1 1319.0,998.3 1333.2,995.3 1347.5,997.9 1361.8,1000.2 1376.0,1003.5 1390.3,1003.0 1404.5,996.6 1418.8,998.6 1433.0,987.1 1447.3,982.0 1461.5,982.0 1475.8,971.2 1490.1,959.7 1504.3,1000.7" fill="none" stroke="#cf1a1a" stroke-width="1.7" stroke-linejoin="round"/>
<circle cx="1062.4" cy="1040.8" r="2.1" fill="#cf1a1a"/>
<circle cx="1076.7" cy="1036.3" r="2.1" fill="#cf1a1a"/>
<circle cx="1090.9" cy="1032.4" r="2.1" fill="#cf1a1a"/>
<circle cx="1105.2" cy="1031.1" r="2.1" fill="#cf1a1a"/>
<circle cx="1119.4" cy="1027.0" r="2.1" fill="#cf1a1a"/>
<circle cx="1133.7" cy="1019.4" r="2.1" fill="#cf1a1a"/>
<circle cx="1147.9" cy="1018.6" r="2.1" fill="#cf1a1a"/>
<circle cx="1162.2" cy="1005.5" r="2.1" fill="#cf1a1a"/>
<circle cx="1176.4" cy="1000.7" r="2.1" fill="#cf1a1a"/>
<circle cx="1190.7" cy="1012.0" r="2.1" fill="#cf1a1a"/>
<circle cx="1205.0" cy="1004.6" r="2.1" fill="#cf1a1a"/>
<circle cx="1219.2" cy="985.1" r="2.1" fill="#cf1a1a"/>
<circle cx="1233.5" cy="975.6" r="2.1" fill="#cf1a1a"/>
<circle cx="1247.7" cy="964.1" r="2.1" fill="#cf1a1a"/>
<circle cx="1262.0" cy="965.7" r="2.1" fill="#cf1a1a"/>
<circle cx="1276.2" cy="967.9" r="2.1" fill="#cf1a1a"/>
<circle cx="1290.5" cy="973.3" r="2.1" fill="#cf1a1a"/>
<circle cx="1304.7" cy="991.1" r="2.1" fill="#cf1a1a"/>
<circle cx="1319.0" cy="998.3" r="2.1" fill="#cf1a1a"/>
<circle cx="1333.2" cy="995.3" r="2.1" fill="#cf1a1a"/>
<circle cx="1347.5" cy="997.9" r="2.1" fill="#cf1a1a"/>
<circle cx="1361.8" cy="1000.2" r="2.1" fill="#cf1a1a"/>
<circle cx="1376.0" cy="1003.5" r="2.1" fill="#cf1a1a"/>
<circle cx="1390.3" cy="1003.0" r="2.1" fill="#cf1a1a"/>
<circle cx="1404.5" cy="996.6" r="2.1" fill="#cf1a1a"/>
<circle cx="1418.8" cy="998.6" r="2.1" fill="#cf1a1a"/>
<circle cx="1433.0" cy="987.1" r="2.1" fill="#cf1a1a"/>
<circle cx="1447.3" cy="982.0" r="2.1" fill="#cf1a1a"/>
<circle cx="1461.5" cy="982.0" r="2.1" fill="#cf1a1a"/>
<circle cx="1475.8" cy="971.2" r="2.1" fill="#cf1a1a"/>
<circle cx="1490.1" cy="959.7" r="2.1" fill="#cf1a1a"/>
<circle cx="1504.3" cy="1000.7" r="2.1" fill="#cf1a1a"/>
<polyline points="1062.4,1165.7 1076.7,1163.2 1090.9,1157.1 1105.2,1148.0 1119.4,1140.6 1133.7,1130.7 1147.9,1121.2 1162.2,1112.8 1176.4,1135.3 1190.7,1135.0 1205.0,1121.2 1219.2,1131.0 1233.5,1130.7 1247.7,1123.3 1262.0,1117.6 1276.2,1115.1 1290.5,1113.5 1304.7,1113.5 1319.0,1121.9 1333.2,1129.1 1347.5,1134.2 1361.8,1134.8 1376.0,1137.0 1390.3,1142.9 1404.5,1143.5 1418.8,1139.8 1433.0,1147.6 1447.3,1144.7 1461.5,1158.3 1475.8,1155.0 1490.1,1143.5 1504.3,1158.8" fill="none" stroke="#7d3cbd" stroke-width="1.7" stroke-linejoin="round"/>
<circle cx="1062.4" cy="1165.7" r="2.1" fill="#7d3cbd"/>
<circle cx="1076.7" cy="1163.2" r="2.1" fill="#7d3cbd"/>
<circle cx="1090.9" cy="1157.1" r="2.1" fill="#7d3cbd"/>
<circle cx="1105.2" cy="1148.0" r="2.1" fill="#7d3cbd"/>
<circle cx="1119.4" cy="1140.6" r="2.1" fill="#7d3cbd"/>
<circle cx="1133.7" cy="1130.7" r="2.1" fill="#7d3cbd"/>
<circle cx="1147.9" cy="1121.2" r="2.1" fill="#7d3cbd"/>
<circle cx="1162.2" cy="1112.8" r="2.1" fill="#7d3cbd"/>
<circle cx="1176.4" cy="1135.3" r="2.1" fill="#7d3cbd"/>
<circle cx="1190.7" cy="1135.0" r="2.1" fill="#7d3cbd"/>
<circle cx="1205.0" cy="1121.2" r="2.1" fill="#7d3cbd"/>
<circle cx="1219.2" cy="1131.0" r="2.1" fill="#7d3cbd"/>
<circle cx="1233.5" cy="1130.7" r="2.1" fill="#7d3cbd"/>
<circle cx="1247.7" cy="1123.3" r="2.1" fill="#7d3cbd"/>
<circle cx="1262.0" cy="1117.6" r="2.1" fill="#7d3cbd"/>
<circle cx="1276.2" cy="1115.1" r="2.1" fill="#7d3cbd"/>
<circle cx="1290.5" cy="1113.5" r="2.1" fill="#7d3cbd"/>
<circle cx="1304.7" cy="1113.5" r="2.1" fill="#7d3cbd"/>
<circle cx="1319.0" cy="1121.9" r="2.1" fill="#7d3cbd"/>
<circle cx="1333.2" cy="1129.1" r="2.1" fill="#7d3cbd"/>
<circle cx="1347.5" cy="1134.2" r="2.1" fill="#7d3cbd"/>
<circle cx="1361.8" cy="1134.8" r="2.1" fill="#7d3cbd"/>
<circle cx="1376.0" cy="1137.0" r="2.1" fill="#7d3cbd"/>
<circle cx="1390.3" cy="1142.9" r="2.1" fill="#7d3cbd"/>
<circle cx="1404.5" cy="1143.5" r="2.1" fill="#7d3cbd"/>
<circle cx="1418.8" cy="1139.8" r="2.1" fill="#7d3cbd"/>
<circle cx="1433.0" cy="1147.6" r="2.1" fill="#7d3cbd"/>
<circle cx="1447.3" cy="1144.7" r="2.1" fill="#7d3cbd"/>
<circle cx="1461.5" cy="1158.3" r="2.1" fill="#7d3cbd"/>
<circle cx="1475.8" cy="1155.0" r="2.1" fill="#7d3cbd"/>
<circle cx="1490.1" cy="1143.5" r="2.1" fill="#7d3cbd"/>
<circle cx="1504.3" cy="1158.8" r="2.1" fill="#7d3cbd"/>
<polyline points="1062.4,1093.3 1076.7,1100.3 1090.9,1100.3 1105.2,1101.7 1119.4,1099.7 1133.7,1106.6 1147.9,1114.6 1162.2,1125.3 1176.4,1135.6 1190.7,1142.2 1205.0,1157.0 1219.2,1162.7 1233.5,1147.1 1247.7,1132.0 1262.0,1123.3 1276.2,1104.8 1290.5,1091.0 1304.7,1084.8 1319.0,1076.9 1333.2,1073.3 1347.5,1092.3 1361.8,1107.1 1376.0,1096.4 1390.3,1099.2 1404.5,1101.2 1418.8,1090.7 1433.0,1088.4 1447.3,1092.3 1461.5,1090.7 1475.8,1087.7 1490.1,1126.0 1504.3,1137.1" fill="none" stroke="#6e2a22" stroke-width="1.7" stroke-linejoin="round"/>
<circle cx="1062.4" cy="1093.3" r="2.1" fill="#6e2a22"/>
<circle cx="1076.7" cy="1100.3" r="2.1" fill="#6e2a22"/>
<circle cx="1090.9" cy="1100.3" r="2.1" fill="#6e2a22"/>
<circle cx="1105.2" cy="1101.7" r="2.1" fill="#6e2a22"/>
<circle cx="1119.4" cy="1099.7" r="2.1" fill="#6e2a22"/>
<circle cx="1133.7" cy="1106.6" r="2.1" fill="#6e2a22"/>
<circle cx="1147.9" cy="1114.6" r="2.1" fill="#6e2a22"/>
<circle cx="1162.2" cy="1125.3" r="2.1" fill="#6e2a22"/>
<circle cx="1176.4" cy="1135.6" r="2.1" fill="#6e2a22"/>
<circle cx="1190.7" cy="1142.2" r="2.1" fill="#6e2a22"/>
<circle cx="1205.0" cy="1157.0" r="2.1" fill="#6e2a22"/>
<circle cx="1219.2" cy="1162.7" r="2.1" fill="#6e2a22"/>
<circle cx="1233.5" cy="1147.1" r="2.1" fill="#6e2a22"/>
<circle cx="1247.7" cy="1132.0" r="2.1" fill="#6e2a22"/>
<circle cx="1262.0" cy="1123.3" r="2.1" fill="#6e2a22"/>
<circle cx="1276.2" cy="1104.8" r="2.1" fill="#6e2a22"/>
<circle cx="1290.5" cy="1091.0" r="2.1" fill="#6e2a22"/>
<circle cx="1304.7" cy="1084.8" r="2.1" fill="#6e2a22"/>
<circle cx="1319.0" cy="1076.9" r="2.1" fill="#6e2a22"/>
<circle cx="1333.2" cy="1073.3" r="2.1" fill="#6e2a22"/>
<circle cx="1347.5" cy="1092.3" r="2.1" fill="#6e2a22"/>
<circle cx="1361.8" cy="1107.1" r="2.1" fill="#6e2a22"/>
<circle cx="1376.0" cy="1096.4" r="2.1" fill="#6e2a22"/>
<circle cx="1390.3" cy="1099.2" r="2.1" fill="#6e2a22"/>
<circle cx="1404.5" cy="1101.2" r="2.1" fill="#6e2a22"/>
<circle cx="1418.8" cy="1090.7" r="2.1" fill="#6e2a22"/>
<circle cx="1433.0" cy="1088.4" r="2.1" fill="#6e2a22"/>
<circle cx="1447.3" cy="1092.3" r="2.1" fill="#6e2a22"/>
<circle cx="1461.5" cy="1090.7" r="2.1" fill="#6e2a22"/>
<circle cx="1475.8" cy="1087.7" r="2.1" fill="#6e2a22"/>
<circle cx="1490.1" cy="1126.0" r="2.1" fill="#6e2a22"/>
<circle cx="1504.3" cy="1137.1" r="2.1" fill="#6e2a22"/>
<rect x="1040" y="705" width="486" height="574.5" fill="none" stroke="#1a1a1a" stroke-width="1.3"/>
<rect x="1040" y="688" width="486" height="17" fill="#e4f0fb" stroke="#000" stroke-width="1.5"/>
<text transform="translate(1283.0,700.7) scale(1.064,1)" font-size="12" font-weight="bold" text-anchor="middle" fill="#000" >Both-Incidence rate per 100,000</text>
<line x1="1037" x2="1040" y1="768.3" y2="768.3" stroke="#222" stroke-width="1"/>
<text x="1035.4" y="772.0" font-size="10.3" font-weight="bold" text-anchor="end" fill="#000" >60</text>
<line x1="1037" x2="1040" y1="879.7" y2="879.7" stroke="#222" stroke-width="1"/>
<text x="1035.4" y="883.4" font-size="10.3" font-weight="bold" text-anchor="end" fill="#000" >50</text>
<line x1="1037" x2="1040" y1="991.1" y2="991.1" stroke="#222" stroke-width="1"/>
<text x="1035.4" y="994.8" font-size="10.3" font-weight="bold" text-anchor="end" fill="#000" >40</text>
<line x1="1037" x2="1040" y1="1102.5" y2="1102.5" stroke="#222" stroke-width="1"/>
<text x="1035.4" y="1106.2" font-size="10.3" font-weight="bold" text-anchor="end" fill="#000" >30</text>
<line x1="1037" x2="1040" y1="1213.9" y2="1213.9" stroke="#222" stroke-width="1"/>
<text x="1035.4" y="1217.6" font-size="10.3" font-weight="bold" text-anchor="end" fill="#000" >20</text>
<line x1="1062.4" x2="1062.4" y1="1279.5" y2="1282.5" stroke="#222" stroke-width="1"/>
<text transform="translate(1062.4,1292.3) scale(1.060,1)" font-size="10.3" font-weight="bold" text-anchor="middle" fill="#000" >1990</text>
<line x1="1205.0" x2="1205.0" y1="1279.5" y2="1282.5" stroke="#222" stroke-width="1"/>
<text transform="translate(1205.0,1292.3) scale(1.060,1)" font-size="10.3" font-weight="bold" text-anchor="middle" fill="#000" >2000</text>
<line x1="1347.5" x2="1347.5" y1="1279.5" y2="1282.5" stroke="#222" stroke-width="1"/>
<text transform="translate(1347.5,1292.3) scale(1.060,1)" font-size="10.3" font-weight="bold" text-anchor="middle" fill="#000" >2010</text>
<line x1="1490.1" x2="1490.1" y1="1279.5" y2="1282.5" stroke="#222" stroke-width="1"/>
<text transform="translate(1490.1,1292.3) scale(1.060,1)" font-size="10.3" font-weight="bold" text-anchor="middle" fill="#000" >2020</text>
<line x1="1070.6" x2="1080.3" y1="670.3" y2="670.3" stroke="#1259b0" stroke-width="1.6"/>
<circle cx="1075.4" cy="670.3" r="2" fill="#1259b0"/>
<text x="1085.7" y="674.3" font-size="11.8" font-weight="bold" textLength="50.8" lengthAdjust="spacingAndGlyphs">Bulgaria</text>
<line x1="1142.7" x2="1152.4" y1="670.3" y2="670.3" stroke="#ff6a0d" stroke-width="1.6"/>
<circle cx="1147.6" cy="670.3" r="2" fill="#ff6a0d"/>
<text x="1157.0" y="674.3" font-size="11.8" font-weight="bold" textLength="31.4" lengthAdjust="spacingAndGlyphs">Cuba</text>
<line x1="1194.7" x2="1204.3" y1="670.3" y2="670.3" stroke="#16881f" stroke-width="1.6"/>
<circle cx="1199.5" cy="670.3" r="2" fill="#16881f"/>
<text x="1209.4" y="674.3" font-size="11.8" font-weight="bold" textLength="47.6" lengthAdjust="spacingAndGlyphs">Monaco</text>
<line x1="1263.3" x2="1272.9" y1="670.3" y2="670.3" stroke="#cf1a1a" stroke-width="1.6"/>
<circle cx="1268.1" cy="670.3" r="2" fill="#cf1a1a"/>
<text x="1277.6" y="674.3" font-size="11.8" font-weight="bold" textLength="72.4" lengthAdjust="spacingAndGlyphs">Montenegro</text>
<line x1="1356.3" x2="1366.0" y1="670.3" y2="670.3" stroke="#7d3cbd" stroke-width="1.6"/>
<circle cx="1361.2" cy="670.3" r="2" fill="#7d3cbd"/>
<text x="1371.0" y="674.3" font-size="11.8" font-weight="bold" textLength="38.8" lengthAdjust="spacingAndGlyphs">Serbia</text>
<line x1="1415.6" x2="1425.3" y1="670.3" y2="670.3" stroke="#6e2a22" stroke-width="1.6"/>
<circle cx="1420.4" cy="670.3" r="2" fill="#6e2a22"/>
<text x="1430.3" y="674.3" font-size="11.8" font-weight="bold" textLength="65.5" lengthAdjust="spacingAndGlyphs">Seychelles</text>
<rect x="1103.2" y="1319.5" width="424.79999999999995" height="589.8" fill="#fff"/>
<line x1="1103.2" x2="1528" y1="1435.2" y2="1435.2" stroke="#ebebeb" stroke-width="0.8"/>
<line x1="1103.2" x2="1528" y1="1620.2" y2="1620.2" stroke="#ebebeb" stroke-width="0.8"/>
<line x1="1103.2" x2="1528" y1="1805.2" y2="1805.2" stroke="#ebebeb" stroke-width="0.8"/>
<line x1="1103.2" x2="1528" y1="1342.7" y2="1342.7" stroke="#ebebeb" stroke-width="1.4"/>
<line x1="1103.2" x2="1528" y1="1527.6" y2="1527.6" stroke="#ebebeb" stroke-width="1.4"/>
<line x1="1103.2" x2="1528" y1="1712.8" y2="1712.8" stroke="#ebebeb" stroke-width="1.4"/>
<line x1="1103.2" x2="1528" y1="1897.7" y2="1897.7" stroke="#ebebeb" stroke-width="1.4"/>
<line x1="1183.4" x2="1183.4" y1="1319.5" y2="1909.3" stroke="#ebebeb" stroke-width="1.4"/>
<line x1="1316" x2="1316" y1="1319.5" y2="1909.3" stroke="#ebebeb" stroke-width="1.4"/>
<line x1="1448.9" x2="1448.9" y1="1319.5" y2="1909.3" stroke="#ebebeb" stroke-width="1.4"/>
<ellipse cx="1183.4" cy="1512.9" rx="8.9" ry="7.3" fill="#8a5248"/>
<ellipse cx="1183.4" cy="1535" rx="8.9" ry="7.3" fill="#ff7f0e"/>
<ellipse cx="1183.4" cy="1571.8" rx="8.9" ry="7.3" fill="#d62728"/>
<ellipse cx="1183.4" cy="1641.9" rx="8.9" ry="7.3" fill="#2ca02c"/>
<ellipse cx="1183.4" cy="1793.8" rx="8.9" ry="7.3" fill="#25bfdc"/>
<ellipse cx="1183.4" cy="1882.6" rx="8.9" ry="7.3" fill="#9467bd"/>
<ellipse cx="1316" cy="1586.5" rx="8.9" ry="7.3" fill="#d62728"/>
<ellipse cx="1316" cy="1590.4" rx="8.9" ry="7.3" fill="#ff7f0e"/>
<ellipse cx="1316" cy="1616.4" rx="8.9" ry="7.3" fill="#8a5248"/>
<ellipse cx="1316" cy="1624.1" rx="8.9" ry="7.3" fill="#2ca02c"/>
<ellipse cx="1316" cy="1804.7" rx="8.9" ry="7.3" fill="#25bfdc"/>
<ellipse cx="1316" cy="1871.3" rx="8.9" ry="7.3" fill="#9467bd"/>
<ellipse cx="1448.9" cy="1346.6" rx="8.9" ry="7.3" fill="#25bfdc"/>
<ellipse cx="1448.9" cy="1553.2" rx="8.9" ry="7.3" fill="#ff7f0e"/>
<ellipse cx="1448.9" cy="1553.6" rx="8.9" ry="7.3" fill="#d62728"/>
<ellipse cx="1448.9" cy="1571.8" rx="8.9" ry="7.3" fill="#2ca02c"/>
<ellipse cx="1448.9" cy="1590.4" rx="8.9" ry="7.3" fill="#8a5248"/>
<ellipse cx="1448.9" cy="1660.9" rx="8.9" ry="7.3" fill="#1f6fb4"/>
<text transform="translate(1197.2,1514.3) scale(1.170,1)" font-size="13" font-weight="normal" text-anchor="start" fill="#6e3a32" >Lesotho</text>
<text transform="translate(1197.2,1536.4) scale(1.170,1)" font-size="13" font-weight="normal" text-anchor="start" fill="#f5741a" >Chad</text>
<text transform="translate(1197.2,1573.3) scale(1.170,1)" font-size="13" font-weight="normal" text-anchor="start" fill="#c4262e" >Guinea</text>
<text transform="translate(1197.2,1642.9) scale(1.170,1)" font-size="13" font-weight="normal" text-anchor="start" fill="#239023" >Ghana</text>
<text transform="translate(1197.2,1794.9) scale(1.170,1)" font-size="13" font-weight="normal" text-anchor="start" fill="#25bfdc" >Sri Lanka</text>
<text transform="translate(1197.2,1883.6) scale(1.170,1)" font-size="13" font-weight="normal" text-anchor="start" fill="#8a5cc0" >Honduras</text>
<text transform="translate(1329.8,1581.0) scale(1.170,1)" font-size="13" font-weight="normal" text-anchor="start" fill="#c4262e" >Guinea</text>
<text transform="translate(1329.8,1599.6) scale(1.170,1)" font-size="13" font-weight="normal" text-anchor="start" fill="#f5741a" >Chad</text>
<text transform="translate(1329.8,1617.0) scale(1.170,1)" font-size="13" font-weight="normal" text-anchor="start" fill="#6e3a32" >Lesotho</text>
<text transform="translate(1329.8,1633.3) scale(1.170,1)" font-size="13" font-weight="normal" text-anchor="start" fill="#239023" >Ghana</text>
<text transform="translate(1329.8,1805.7) scale(1.170,1)" font-size="13" font-weight="normal" text-anchor="start" fill="#25bfdc" >Sri Lanka</text>
<text transform="translate(1329.8,1872.4) scale(1.170,1)" font-size="13" font-weight="normal" text-anchor="start" fill="#8a5cc0" >Honduras</text>
<text transform="translate(1462.7,1347.3) scale(1.170,1)" font-size="13" font-weight="normal" text-anchor="start" fill="#25bfdc" >Sri Lanka</text>
<text transform="translate(1462.7,1554.6) scale(1.170,1)" font-size="13" font-weight="normal" text-anchor="start" fill="#f5741a" >Chad</text>
<text transform="translate(1462.7,1539.1) scale(1.170,1)" font-size="13" font-weight="normal" text-anchor="start" fill="#c4262e" >Guinea</text>
<text transform="translate(1462.7,1572.9) scale(1.170,1)" font-size="13" font-weight="normal" text-anchor="start" fill="#239023" >Ghana</text>
<text transform="translate(1462.7,1591.9) scale(1.170,1)" font-size="13" font-weight="normal" text-anchor="start" fill="#6e3a32" >Lesotho</text>
<text transform="translate(1462.7,1661.5) scale(1.170,1)" font-size="13" font-weight="normal" text-anchor="start" fill="#1c62a8" >Bulgaria</text>
<rect x="1103.2" y="1319.5" width="424.79999999999995" height="589.8" fill="none" stroke="#1a1a1a" stroke-width="1.3"/>
<line x1="1099.7" x2="1103.2" y1="1342.7" y2="1342.7" stroke="#222" stroke-width="1.2"/>
<text transform="translate(1095.5,1348.4) scale(1.170,1)" font-size="16" font-weight="bold" text-anchor="end" fill="#000" >2.5</text>
<line x1="1099.7" x2="1103.2" y1="1527.6" y2="1527.6" stroke="#222" stroke-width="1.2"/>
<text transform="translate(1095.5,1533.3) scale(1.170,1)" font-size="16" font-weight="bold" text-anchor="end" fill="#000" >2.0</text>
<line x1="1099.7" x2="1103.2" y1="1712.8" y2="1712.8" stroke="#222" stroke-width="1.2"/>
<text transform="translate(1095.5,1718.5) scale(1.170,1)" font-size="16" font-weight="bold" text-anchor="end" fill="#000" >1.5</text>
<line x1="1099.7" x2="1103.2" y1="1897.7" y2="1897.7" stroke="#222" stroke-width="1.2"/>
<text transform="translate(1095.5,1903.4) scale(1.170,1)" font-size="16" font-weight="bold" text-anchor="end" fill="#000" >1.0</text>
<line x1="1183.4" x2="1183.4" y1="1909.3" y2="1912.8" stroke="#222" stroke-width="1.2"/>
<text transform="translate(1183.4,1927.6) scale(1.200,1)" font-size="16" font-weight="bold" text-anchor="middle" fill="#000" >DALYs</text>
<line x1="1316" x2="1316" y1="1909.3" y2="1912.8" stroke="#222" stroke-width="1.2"/>
<text transform="translate(1316.0,1927.6) scale(1.200,1)" font-size="16" font-weight="bold" text-anchor="middle" fill="#000" >Death</text>
<line x1="1448.9" x2="1448.9" y1="1909.3" y2="1912.8" stroke="#222" stroke-width="1.2"/>
<text transform="translate(1448.9,1927.6) scale(1.200,1)" font-size="16" font-weight="bold" text-anchor="middle" fill="#000" >Incidence</text>
<text transform="translate(1316.0,1945.3) scale(1.200,1)" font-size="16" font-weight="bold" text-anchor="middle" fill="#000" >Measures</text>
<text transform="translate(1061,1614.9) rotate(-90) scale(0.94,1.318)" font-size="16" font-weight="bold" text-anchor="middle">EAPC</text>
<defs id="geo">
<path id="L-namerica" d="M113.1 125.2L114.2 123.6L119.8 121.3L125.1 119.5L131.2 117.5L139.2 118.8L146.2 119.8L153.2 120.8L158.5 121.8L163.8 123.4L169.1 123.4L172.6 121.8L177.8 120.5L181.4 119.5L186.6 121.8L193.7 121.6L200.7 123.6L204.2 125.9L209.5 126.4L213.0 125.9L216.5 127.2L216.5 129.0L220.1 125.9L227.1 126.4L232.4 125.9L234.1 124.1L237.7 125.4L238.5 120.8L237.1 117.5L240.3 115.7L243.8 118.2L244.7 120.8L246.5 122.6L248.2 124.6L251.7 126.4L253.5 128.0L256.1 123.9L257.0 121.3L262.3 121.6L263.2 124.6L261.8 127.2L262.3 129.8L258.8 130.5L255.2 129.8L254.4 132.3L252.6 134.1L250.0 136.2L246.5 137.2L243.8 139.7L241.2 143.8L239.8 146.9L240.8 149.5L243.3 153.6L248.2 154.1L252.6 156.6L257.0 158.4L261.8 158.7L261.9 163.0L263.7 165.6L265.8 168.7L267.9 167.4L267.6 164.3L267.9 161.8L266.5 159.7L270.2 157.7L271.8 154.1L270.5 150.2L268.8 149.0L270.2 146.4L269.3 144.4L269.5 140.3L274.6 140.5L279.0 142.3L282.5 143.8L284.3 146.4L284.3 149.5L286.9 151.0L289.5 149.5L291.3 146.9L293.1 145.4L295.2 149.0L297.5 152.0L299.2 156.6L301.0 158.7L304.5 160.2L305.7 161.8L308.0 164.3L308.5 166.9L306.3 168.4L302.7 171.2L299.2 171.5L293.9 171.2L289.7 171.5L286.9 174.3L284.3 177.1L282.5 179.2L281.3 180.2L283.4 179.4L286.0 176.4L288.7 174.6L293.4 174.8L291.3 177.1L290.4 177.1L292.2 179.7L293.1 181.7L295.7 182.5L298.3 183.0L300.3 179.7L301.3 182.2L299.2 184.3L294.8 185.8L291.1 188.9L290.1 187.4L292.5 184.0L290.4 184.3L288.7 185.3L285.1 187.4L283.0 188.4L282.2 190.9L283.4 193.0L280.8 194.0L277.2 195.3L276.4 196.3L274.8 200.2L273.7 202.7L272.8 205.3L273.4 208.9L272.0 211.2L269.3 213.2L266.0 216.0L264.0 218.1L263.3 222.2L264.7 227.0L265.6 231.4L265.4 234.5L264.0 235.7L262.6 233.2L260.9 228.8L260.9 225.8L258.6 222.9L256.5 224.0L253.1 222.2L251.4 222.4L249.6 225.5L247.3 225.2L244.7 224.2L241.5 224.0L239.8 225.0L237.1 227.3L235.4 229.3L235.5 233.7L234.5 238.6L234.5 243.2L235.5 247.5L237.5 250.8L239.4 252.4L240.5 253.7L243.6 252.4L245.9 251.6L247.2 249.3L247.5 246.2L248.7 245.5L251.7 244.7L253.5 245.0L253.8 246.2L252.8 248.3L252.4 250.6L252.1 252.9L251.4 253.2L251.4 255.2L250.7 259.0L250.1 259.3L251.7 259.6L253.8 259.6L255.4 259.0L257.7 259.6L260.2 261.6L259.8 264.2L259.5 267.2L259.3 269.3L259.3 272.1L260.5 274.4L261.9 276.2L264.0 277.5L266.0 275.9L267.6 275.4L269.3 276.2L270.4 277.7L269.5 281.6L268.8 279.0L266.9 277.0L265.8 278.8L265.8 280.8L264.2 281.6L262.8 280.0L261.6 278.8L260.7 279.5L259.5 278.2L257.5 275.4L256.8 275.2L255.6 273.9L255.8 271.8L254.4 269.5L253.0 267.2L252.4 266.7L250.8 266.2L248.6 265.2L246.5 264.4L244.3 262.9L242.1 259.6L239.1 258.5L236.8 259.8L234.1 258.5L230.8 257.0L227.1 253.9L223.1 251.4L220.6 247.8L221.3 245.0L219.4 240.6L216.5 236.5L214.1 234.2L211.4 228.6L209.2 225.8L207.4 220.1L204.6 218.6L204.6 220.6L206.9 225.8L208.6 229.1L210.7 233.4L212.2 237.3L213.9 240.6L213.2 241.4L211.6 239.1L209.5 236.5L209.2 233.4L206.9 231.4L204.2 228.8L205.6 226.8L202.8 222.2L201.4 218.6L200.5 216.8L198.3 213.0L194.6 211.7L192.1 206.3L191.0 203.2L188.8 198.9L187.7 196.6L188.1 193.0L187.5 190.4L188.4 186.1L188.4 181.7L187.2 176.1L190.2 176.6L191.0 178.4L190.9 175.1L189.8 174.0L186.6 171.2L182.2 169.4L181.4 165.6L178.7 163.0L177.3 161.0L176.1 158.4L173.5 155.4L170.8 151.5L168.2 150.8L165.9 151.0L163.8 149.0L160.8 147.4L156.7 146.4L153.2 146.1L150.2 145.1L146.2 144.1L143.5 146.9L139.5 148.4L140.9 145.1L142.7 143.3L140.0 144.4L138.3 146.4L135.6 149.0L133.9 151.5L131.2 153.6L127.7 156.1L123.3 158.4L119.1 159.7L116.6 160.5L119.8 158.7L122.4 156.9L125.1 155.6L128.6 152.0L130.4 149.5L127.7 149.5L124.2 149.7L121.6 150.0L121.6 146.4L118.0 145.1L116.3 142.6L115.4 139.5L118.0 138.2L123.3 137.4L123.3 134.9L119.8 134.9L115.6 134.9L113.1 133.1L111.0 132.1L114.5 130.3L118.0 129.8L121.6 130.8L121.9 128.5L118.0 126.7L113.1 125.2Z"/>
<clipPath id="K-namerica"><use href="#L-namerica"/></clipPath>
<path id="L-aleutians" d="M116.5 160.0L114.5 161.5L111.0 162.8L107.5 164.3L103.1 165.6L98.7 166.6L93.4 167.1L98.7 166.1L103.1 164.8L107.5 163.6L111.0 162.3L114.5 160.7Z"/>
<clipPath id="K-aleutians"><use href="#L-aleutians"/></clipPath>
<path id="L-kodiak" d="M134.6 154.1L138.6 153.1L138.4 151.0L135.6 151.8Z"/>
<clipPath id="K-kodiak"><use href="#L-kodiak"/></clipPath>
<path id="L-vancouver" d="M189.5 176.1L186.3 175.1L181.0 170.5L183.1 169.7L186.6 172.0L188.8 174.3Z"/>
<clipPath id="K-vancouver"><use href="#L-vancouver"/></clipPath>
<path id="L-haida" d="M172.6 161.5L174.9 162.0L175.7 166.4L173.5 164.3Z"/>
<clipPath id="K-haida"><use href="#L-haida"/></clipPath>
<path id="L-newfoundland" d="M302.2 178.1L308.0 179.9L311.2 179.7L313.3 180.7L314.0 178.1L312.2 175.1L310.7 173.3L308.4 172.3L308.9 167.9L306.3 169.4L303.6 174.0Z"/>
<clipPath id="K-newfoundland"><use href="#L-newfoundland"/></clipPath>
<path id="L-anticosti" d="M293.1 172.3L298.0 174.3L296.6 173.0Z"/>
<clipPath id="K-anticosti"><use href="#L-anticosti"/></clipPath>
<path id="L-baffin" d="M292.2 141.8L289.5 141.3L285.1 139.2L279.9 136.2L275.5 134.9L269.3 135.1L270.2 132.6L276.4 132.1L277.2 128.5L278.5 125.9L274.6 124.6L269.3 122.1L267.6 120.0L262.3 120.8L257.0 120.3L250.8 119.3L249.1 117.0L248.2 113.1L251.7 111.1L257.0 111.3L258.8 113.6L263.2 111.3L265.8 114.1L269.3 111.6L272.8 113.6L276.4 116.4L281.6 118.2L286.0 120.3L288.7 123.4L292.2 126.4L297.5 128.5L298.3 129.8L295.7 133.6L292.2 131.6L287.8 130.5L290.4 133.6L293.9 137.2L289.5 138.2L286.9 136.7L290.4 139.7Z"/>
<clipPath id="K-baffin"><use href="#L-baffin"/></clipPath>
<path id="L-victoria" d="M223.2 124.0L217.2 124.9L211.1 125.2L205.0 125.5L199.0 124.0L198.0 119.6L203.0 116.7L196.9 116.7L199.0 112.3L207.1 112.8L213.1 112.3L217.2 111.7L223.2 112.8L225.3 118.1L230.3 121.1L229.3 124.6Z"/>
<clipPath id="K-victoria"><use href="#L-victoria"/></clipPath>
<path id="L-banks" d="M185.5 116.0L189.5 118.4L195.6 117.5L197.6 113.1L204.7 112.2L201.7 109.6L193.6 108.7L186.5 110.7Z"/>
<clipPath id="K-banks"><use href="#L-banks"/></clipPath>
<path id="L-ellesmere" d="M248.2 104.2L257.0 102.9L265.8 104.9L271.1 100.8L274.6 99.0L279.9 96.5L290.4 93.9L297.5 90.1L292.2 87.5L274.6 87.3L257.0 89.3L246.5 91.4L250.0 93.9L257.0 96.5L253.5 100.3Z"/>
<clipPath id="K-ellesmere"><use href="#L-ellesmere"/></clipPath>
<path id="L-devon" d="M235.6 103.2L243.7 103.8L255.8 106.5L267.9 106.7L267.9 109.4L245.7 109.4L243.7 106.7Z"/>
<clipPath id="K-devon"><use href="#L-devon"/></clipPath>
<path id="L-axel" d="M238.5 100.3L248.6 100.0L253.7 99.1L252.7 95.0L242.6 91.1L236.5 95.0Z"/>
<clipPath id="K-axel"><use href="#L-axel"/></clipPath>
<path id="L-melville" d="M199.2 107.7L213.3 108.9L221.4 108.0L221.4 105.3L215.4 103.3L207.3 104.7L199.2 105.3Z"/>
<clipPath id="K-melville"><use href="#L-melville"/></clipPath>
<path id="L-pow" d="M226.6 117.4L236.7 117.4L236.7 111.5L228.6 110.1L224.6 113.0Z"/>
<clipPath id="K-pow"><use href="#L-pow"/></clipPath>
<path id="L-somerset" d="M236.9 116.1L247.0 115.5L248.0 110.2L238.9 109.6Z"/>
<clipPath id="K-somerset"><use href="#L-somerset"/></clipPath>
<path id="L-southampton" d="M252.8 137.7L259.9 139.8L266.9 137.7L260.9 131.9L255.8 130.4L252.8 134.8Z"/>
<clipPath id="K-southampton"><use href="#L-southampton"/></clipPath>
<path id="L-ppatrick" d="M189.2 105.7L201.3 104.8L203.3 101.3L193.2 102.2Z"/>
<clipPath id="K-ppatrick"><use href="#L-ppatrick"/></clipPath>
<path id="L-bathurst" d="M222.7 107.7L234.9 108.3L234.9 103.9L224.7 103.6Z"/>
<clipPath id="K-bathurst"><use href="#L-bathurst"/></clipPath>
<path id="L-ringnes" d="M220.6 101.3L238.8 101.1L236.8 97.5L222.7 97.5Z"/>
<clipPath id="K-ringnes"><use href="#L-ringnes"/></clipPath>
<path id="L-kingwilliam" d="M230.9 123.5L238.0 124.6L239.0 122.0L233.9 120.5Z"/>
<clipPath id="K-kingwilliam"><use href="#L-kingwilliam"/></clipPath>
<path id="L-coats" d="M260.1 139.8L266.2 140.7L265.2 138.6L261.1 138.3Z"/>
<clipPath id="K-coats"><use href="#L-coats"/></clipPath>
<path id="L-greenland" d="M278.1 99.8L286.9 96.5L292.2 92.6L301.0 90.1L318.6 88.8L336.2 86.5L353.8 86.0L367.8 88.5L374.9 90.6L385.4 91.1L376.6 95.2L373.1 100.3L374.9 104.2L371.3 108.0L373.1 110.6L367.8 114.4L367.8 119.5L362.5 121.8L360.8 124.4L353.8 125.4L348.5 128.5L341.4 131.6L336.2 133.6L332.6 139.2L330.9 145.9L327.4 146.4L322.1 143.8L318.6 138.7L315.1 133.6L312.4 128.5L313.3 123.4L316.8 120.8L310.7 119.5L309.8 115.7L306.3 109.3L302.7 106.0L292.2 104.9L285.1 104.2L281.6 101.6Z"/>
<clipPath id="K-greenland"><use href="#L-greenland"/></clipPath>
<path id="L-iceland" d="M363.4 132.3L367.8 130.0L374.9 130.5L381.0 130.3L382.8 133.6L380.1 135.6L373.1 137.7L366.9 136.7L364.3 134.1Z"/>
<clipPath id="K-iceland"><use href="#L-iceland"/></clipPath>
<path id="L-samerica" d="M270.4 277.7L271.4 279.5L273.7 273.4L274.9 271.8L276.0 271.1L279.0 269.8L280.4 268.3L281.1 269.8L280.2 272.1L281.1 272.1L281.6 270.6L283.4 268.8L283.7 270.6L286.9 273.1L288.7 272.9L292.2 274.1L293.6 273.1L297.5 272.6L299.2 275.4L299.6 278.2L302.7 279.5L304.1 282.6L306.3 284.6L309.4 284.9L311.9 285.4L314.5 287.5L315.9 288.7L318.6 295.4L318.6 300.0L321.2 301.3L322.1 302.6L325.6 303.1L328.6 306.4L333.0 307.4L336.2 307.4L338.8 309.5L341.4 312.3L344.4 313.3L345.1 320.5L343.7 324.8L341.4 328.2L338.8 333.3L337.9 337.9L337.6 344.8L335.6 352.0L334.4 356.3L332.6 358.9L330.5 358.9L327.9 359.6L325.1 361.4L321.2 365.3L321.2 370.7L319.4 374.2L317.7 379.4L314.9 382.4L312.6 386.3L310.0 389.3L307.7 389.3L304.8 388.3L303.8 387.0L303.8 388.8L305.9 390.9L306.8 392.9L305.4 397.3L302.7 399.1L297.5 399.6L297.1 403.7L292.2 405.0L294.6 408.8L292.2 410.1L291.7 415.2L287.8 417.8L290.4 420.8L290.6 422.4L287.8 426.7L285.1 430.6L285.1 432.1L286.2 433.9L286.6 435.7L288.7 438.2L291.8 440.0L288.1 443.1L283.4 441.6L279.9 439.0L276.4 435.7L274.6 431.8L273.7 425.4L273.7 420.3L273.5 419.0L276.4 415.2L276.4 410.1L276.7 407.0L277.4 401.9L277.8 394.2L280.6 384.5L280.9 376.8L281.6 369.1L282.7 360.4L283.0 351.7L282.9 347.4L280.9 345.1L276.4 341.0L272.5 335.8L270.9 330.7L269.0 325.6L268.3 323.0L267.6 320.7L266.0 317.7L263.9 315.1L263.5 312.0L264.9 309.0L266.0 306.7L264.2 305.6L264.2 302.6L265.8 298.7L266.3 297.4L267.9 295.4L270.7 290.3L270.2 285.9L269.5 281.6Z"/>
<clipPath id="K-samerica"><use href="#L-samerica"/></clipPath>
<path id="L-trinidad" d="M297.6 272.6L299.2 272.4L299.2 274.1L297.6 274.1Z"/>
<clipPath id="K-trinidad"><use href="#L-trinidad"/></clipPath>
<path id="L-africa" d="M396.1 208.4L397.2 208.1L401.2 209.6L402.7 210.1L405.5 208.6L408.3 206.6L411.8 205.8L415.3 205.8L418.8 205.3L423.8 204.5L425.9 205.3L425.0 207.8L425.5 211.2L424.3 213.2L425.9 213.7L426.7 215.0L429.7 215.8L433.3 217.1L433.8 219.4L435.7 220.1L438.2 221.9L439.9 222.4L441.7 220.6L441.7 217.8L444.3 215.8L446.3 216.0L448.7 218.1L450.8 219.1L454.4 219.6L457.5 220.9L459.1 220.1L461.0 219.4L463.3 219.9L466.7 219.9L467.9 224.5L466.9 228.8L465.6 227.6L464.0 223.7L463.7 223.2L463.9 225.0L465.4 228.3L466.0 230.4L468.1 236.0L469.0 238.6L471.6 243.7L472.0 249.8L474.2 253.9L476.0 260.1L478.6 262.9L481.6 266.7L482.7 268.0L482.3 270.3L483.0 271.3L485.7 273.4L489.2 271.3L492.7 271.1L496.8 269.8L496.9 273.4L495.3 277.0L493.6 282.1L491.0 288.5L488.3 292.3L486.2 294.9L483.0 298.7L481.3 301.0L479.5 304.4L478.5 305.9L476.4 310.2L475.1 315.4L475.6 317.4L476.0 323.0L477.6 326.9L477.9 332.0L478.3 337.1L476.9 341.7L474.2 344.0L471.6 346.1L467.9 350.7L469.0 356.3L469.0 361.4L464.6 365.3L463.9 366.6L464.4 369.1L463.0 373.7L461.0 376.5L458.4 380.6L455.6 384.5L451.6 387.0L447.0 387.3L441.7 389.1L439.1 388.1L438.9 386.8L438.2 383.2L437.0 376.8L435.5 373.2L433.3 368.1L432.0 358.9L429.7 351.2L427.3 346.1L427.3 344.3L427.8 338.9L430.1 332.3L430.8 328.2L429.7 322.5L428.2 315.4L427.3 312.3L424.1 306.4L421.8 301.8L423.1 299.0L423.4 294.9L423.8 291.0L423.2 289.8L422.2 288.5L421.1 288.5L418.8 288.7L417.1 289.0L415.3 285.9L412.5 283.6L410.7 283.9L408.6 284.4L406.2 285.9L402.8 288.0L399.5 286.7L396.0 287.7L393.0 288.7L390.7 287.2L387.5 283.9L384.5 280.8L383.3 278.2L382.4 275.7L380.1 271.8L379.1 269.5L377.1 268.3L377.3 265.4L375.7 262.4L377.5 259.0L378.4 253.7L378.0 250.1L376.6 246.8L376.8 243.7L377.8 241.1L378.6 239.3L381.0 233.2L383.3 229.1L383.8 228.6L386.3 227.0L388.6 224.7L389.6 222.2L389.1 221.7L389.3 219.4L390.3 217.3L393.2 214.0L394.6 213.0L395.6 210.4Z"/>
<clipPath id="K-africa"><use href="#L-africa"/></clipPath>
<path id="L-madagascar" d="M493.2 330.7L495.3 339.7L494.1 343.5L492.7 348.6L491.0 356.3L489.2 364.0L485.7 365.5L483.4 360.2L482.7 356.3L484.4 351.2L483.9 344.8L485.7 341.0L489.2 338.4L491.8 334.6Z"/>
<clipPath id="K-madagascar"><use href="#L-madagascar"/></clipPath>
<path id="L-eurasia" d="M457.5 195.0L454.9 195.0L452.6 197.1L452.3 195.6L449.4 195.3L448.7 197.3L446.8 196.1L447.0 199.4L448.7 202.2L448.7 203.5L448.0 203.0L447.0 203.0L447.3 204.5L447.3 206.8L446.1 206.8L445.2 205.3L444.7 205.8L444.3 202.2L443.5 202.0L442.9 200.2L442.1 198.9L440.6 196.6L440.6 194.3L440.1 192.2L438.4 190.9L435.4 188.6L433.3 187.1L431.8 184.0L430.8 185.1L430.6 183.3L428.2 183.8L428.5 185.1L428.2 186.3L430.3 188.4L431.5 191.2L435.0 192.7L436.2 194.8L438.2 196.1L438.9 198.1L436.8 196.3L435.7 198.4L436.6 200.2L435.5 201.7L434.1 203.0L434.3 202.0L434.8 200.2L434.0 197.6L432.6 196.1L431.5 195.6L430.3 194.5L428.0 193.0L425.9 191.5L425.0 190.2L424.6 188.6L423.8 187.1L422.2 186.3L420.9 187.4L419.4 188.1L417.1 189.7L416.0 189.2L414.4 188.9L413.0 188.9L411.8 191.2L412.3 191.7L410.4 194.0L407.9 195.8L406.0 198.9L406.9 200.9L405.6 202.0L404.8 203.7L402.7 206.0L398.8 206.0L397.0 207.6L396.7 207.8L395.4 206.6L394.2 204.8L392.6 205.3L390.7 205.3L391.0 201.7L390.0 200.9L390.0 199.1L391.2 194.8L390.9 192.0L390.2 190.2L391.7 188.9L393.0 187.9L396.5 188.4L399.8 188.6L401.2 188.9L403.4 188.9L403.7 188.6L404.4 185.6L404.6 183.3L404.4 181.7L402.7 178.9L401.1 178.4L398.8 177.6L398.1 176.1L400.4 175.1L403.0 175.6L403.9 175.6L403.7 172.8L404.4 173.5L406.7 173.3L408.5 172.3L409.3 170.2L409.9 169.4L411.6 168.9L412.9 168.4L413.7 166.9L415.0 164.3L416.0 163.8L418.8 163.3L420.9 162.8L421.8 162.0L422.2 161.0L421.3 159.2L421.3 157.9L420.8 155.4L421.6 153.8L425.2 152.3L425.0 153.1L424.6 156.1L425.7 155.6L423.8 157.9L423.2 159.7L424.5 160.7L426.0 160.7L425.7 161.8L427.8 161.2L430.4 160.2L431.7 162.0L434.0 161.2L437.3 159.7L439.6 160.2L439.4 160.7L441.5 160.2L443.6 157.4L443.5 155.4L444.5 153.1L446.3 152.0L448.7 154.1L449.6 150.5L447.9 149.7L447.9 149.0L450.0 147.7L455.8 147.7L459.6 146.7L457.0 144.6L454.0 145.1L450.5 145.9L447.0 146.9L445.6 145.4L444.2 143.6L444.3 138.5L447.0 136.7L451.2 133.6L449.6 131.6L445.6 132.1L444.0 134.4L442.2 136.7L439.6 138.0L437.1 140.3L436.8 144.6L439.1 145.6L439.8 148.2L436.4 150.0L435.9 152.0L435.4 154.8L434.0 156.1L431.7 157.7L430.8 158.2L429.4 157.7L428.9 156.6L429.0 154.8L427.5 152.3L426.2 149.0L425.3 146.7L425.0 148.4L424.1 149.0L420.6 151.3L418.8 151.5L416.4 149.0L415.7 145.4L415.3 143.8L415.5 140.8L417.4 140.0L420.1 138.5L423.2 136.9L424.1 135.4L426.2 133.9L428.0 132.3L428.9 130.3L431.8 127.7L432.9 125.2L430.3 125.4L432.9 123.9L434.7 122.6L439.8 121.6L443.5 120.3L448.2 119.0L451.9 118.0L455.2 118.0L461.0 119.8L457.5 120.8L459.3 121.6L461.9 121.6L463.7 121.1L465.4 122.8L469.8 123.1L473.4 125.2L476.9 125.9L478.6 128.5L478.6 130.3L473.4 130.5L468.1 129.5L463.7 128.5L467.7 133.6L467.7 134.9L470.7 136.4L473.4 136.2L472.5 133.6L476.9 134.6L477.8 134.6L476.9 132.3L480.4 130.0L483.9 131.0L481.3 129.8L482.7 124.4L487.4 125.9L488.3 128.5L491.0 126.7L492.7 126.7L498.0 124.6L501.5 125.2L506.8 124.4L508.5 123.9L512.1 123.9L512.9 125.2L515.6 123.4L515.1 121.3L520.0 122.6L524.0 123.9L526.1 123.9L524.4 120.8L524.0 118.2L527.0 114.4L529.6 113.1L534.0 113.6L534.0 118.2L533.2 123.4L535.8 127.2L533.2 129.8L536.7 129.0L536.7 125.9L537.6 120.8L536.2 117.0L538.4 113.6L542.8 114.4L543.7 117.0L547.2 115.7L551.6 117.0L552.5 119.5L553.4 116.2L548.1 111.8L557.8 110.6L559.6 108.0L563.1 106.7L570.1 105.4L577.1 104.9L582.4 104.2L590.0 101.1L594.7 102.9L601.8 103.6L606.2 105.4L605.3 109.3L600.0 110.6L593.9 112.6L600.0 111.6L606.2 111.6L606.2 112.4L610.6 111.6L617.6 113.1L623.8 111.8L629.9 111.8L634.3 114.4L633.4 118.2L636.9 118.2L640.5 117.0L645.7 117.0L651.0 117.0L652.8 114.4L654.5 113.9L663.3 114.9L670.4 117.0L679.2 118.2L688.0 120.8L690.6 122.1L696.8 121.8L702.0 120.8L706.4 120.5L706.1 121.6L709.1 121.1L716.1 121.6L723.1 123.4L728.4 125.2L730.2 127.2L735.5 129.0L741.3 130.8L737.2 132.3L734.9 135.1L726.7 134.1L724.9 131.0L721.4 132.3L718.7 134.4L722.3 138.7L721.9 140.5L714.3 141.8L709.1 144.4L706.1 146.4L700.3 145.6L696.8 146.4L694.1 149.0L693.2 151.5L693.8 152.0L692.9 156.1L690.6 160.2L688.0 163.8L685.5 164.3L682.2 169.4L680.9 164.3L680.2 159.2L680.4 154.1L682.7 151.5L686.2 149.0L689.7 145.9L693.2 142.6L696.8 140.0L692.4 140.5L688.8 141.3L688.5 144.9L684.4 141.8L681.8 142.6L679.2 148.4L674.8 149.0L671.8 147.7L666.9 148.2L661.6 147.9L658.4 148.2L652.8 152.3L649.6 155.4L647.5 159.7L648.4 161.8L644.9 160.2L648.4 162.5L651.9 161.2L654.5 163.8L654.9 165.6L654.2 168.2L653.3 174.6L651.0 178.9L648.7 182.8L645.7 186.3L640.5 190.4L638.5 189.7L636.6 190.9L636.4 191.7L634.8 193.0L634.7 195.6L631.0 198.1L630.6 199.6L632.4 201.2L634.1 205.3L634.1 207.8L633.6 210.1L631.7 210.9L629.0 212.2L628.9 210.9L629.0 207.8L629.2 204.0L627.6 202.7L626.4 201.2L626.7 198.9L625.3 197.6L622.9 198.4L620.4 200.4L619.7 198.9L621.5 195.8L619.4 195.6L616.9 197.9L613.7 200.2L615.8 203.2L615.8 204.8L618.5 203.2L620.1 203.7L622.0 204.3L622.0 205.5L618.1 207.6L616.7 209.4L616.4 211.2L618.1 212.4L619.4 215.5L620.9 218.8L620.8 220.6L619.0 222.4L621.1 223.5L620.4 227.0L619.0 228.3L616.9 233.4L614.3 237.3L611.8 240.4L607.4 242.9L606.3 243.2L603.5 244.2L600.7 245.7L600.4 248.0L599.5 246.5L598.4 245.0L596.5 245.0L594.4 246.8L593.9 248.3L592.8 249.3L592.4 252.1L593.9 254.7L595.8 257.8L596.8 258.8L598.1 261.3L598.6 264.7L599.0 267.2L598.6 269.5L596.7 272.1L594.9 273.6L594.2 274.9L593.3 275.9L590.9 278.0L590.9 275.7L591.4 274.4L590.3 273.4L588.6 272.9L587.7 270.6L586.8 268.8L585.9 268.0L584.7 267.5L584.0 267.7L583.5 265.4L582.4 266.0L582.4 268.0L582.1 269.8L581.0 273.1L581.4 276.4L582.6 278.5L583.5 281.6L584.7 282.3L585.6 283.6L586.5 284.1L587.9 286.4L588.4 290.3L589.1 293.9L590.0 296.4L589.1 296.7L588.6 296.7L586.3 294.4L584.9 292.3L583.7 289.2L582.9 286.2L582.9 284.4L582.4 283.1L581.5 281.1L580.5 279.5L579.4 279.8L579.4 277.0L580.0 274.4L580.0 269.8L580.0 268.3L579.3 263.9L578.6 260.8L578.2 257.8L577.1 256.5L575.9 257.5L574.2 259.6L572.4 259.0L572.7 254.9L572.4 252.6L571.0 250.3L569.9 248.5L568.9 246.8L568.3 245.2L568.0 242.9L566.2 242.4L564.0 244.2L562.2 244.7L561.3 244.2L559.6 245.0L559.0 248.0L557.4 249.3L556.0 250.6L553.0 254.7L551.3 256.7L551.1 257.8L549.4 258.5L548.8 259.6L547.4 261.6L547.4 263.1L547.8 266.5L547.1 269.3L547.1 273.6L546.0 273.6L545.8 276.2L544.1 277.5L542.8 279.3L541.8 278.2L540.6 274.4L539.9 271.1L538.1 267.0L536.3 260.3L535.5 256.5L534.6 251.4L534.6 247.8L534.4 245.7L534.0 243.2L533.5 244.2L533.2 245.7L531.4 247.0L530.4 246.5L528.9 244.7L527.9 242.9L530.2 241.4L528.4 241.6L527.5 240.4L526.5 239.3L525.3 238.6L524.4 236.5L523.5 235.0L520.2 235.5L518.2 235.2L516.1 235.7L515.1 235.7L513.1 235.2L510.3 235.0L508.2 234.2L506.8 232.2L505.6 230.4L503.3 231.6L500.6 231.6L498.9 229.6L497.1 228.6L495.9 226.0L494.8 223.2L493.6 222.7L492.0 223.2L491.0 224.7L491.7 227.0L493.9 230.9L494.8 232.4L494.8 234.7L495.9 236.3L496.4 234.5L496.6 233.2L497.3 235.2L496.8 237.3L497.3 238.0L498.9 238.0L500.6 238.3L502.2 237.3L503.8 235.2L505.0 234.0L505.7 232.7L505.7 235.7L506.3 237.5L507.7 238.8L509.6 239.6L511.7 242.4L510.3 246.2L508.5 247.8L508.0 251.4L505.6 254.2L501.7 256.5L499.9 257.5L498.3 260.1L495.3 261.6L492.9 262.9L491.0 264.2L488.3 265.7L485.7 267.2L483.0 267.5L482.5 266.0L482.0 262.1L481.6 258.0L481.3 256.7L479.5 252.6L478.8 251.1L476.9 248.0L475.5 245.0L474.2 241.1L473.4 238.3L471.6 235.2L470.5 232.9L469.0 229.6L467.6 228.3L468.1 224.5L467.9 224.5L466.7 219.9L467.7 217.8L468.1 216.0L469.0 213.2L469.5 211.7L469.5 209.1L470.2 206.3L469.0 206.3L467.4 205.8L465.8 207.3L464.2 207.8L462.5 206.3L460.5 205.5L458.4 207.3L455.8 206.0L454.7 205.3L453.7 201.7L452.6 199.4L452.6 197.6L454.9 196.6L457.5 196.6L459.1 195.8L457.7 195.0Z"/>
<clipPath id="K-eurasia"><use href="#L-eurasia"/></clipPath>
<path id="L-gb" d="M396.5 171.7L397.4 172.0L399.3 171.2L400.2 171.5L402.3 170.7L404.2 170.5L407.0 170.2L408.3 169.7L409.0 169.2L409.0 168.4L407.8 168.2L408.3 167.4L408.8 167.1L409.7 165.6L408.8 164.6L407.0 164.6L407.0 164.1L406.7 162.8L406.3 161.5L405.5 160.5L404.1 159.2L403.0 157.2L400.9 156.6L401.9 155.9L402.8 153.8L403.4 152.8L403.0 152.3L399.1 152.8L399.5 151.8L401.1 150.5L401.2 150.0L397.7 150.0L397.2 151.5L396.3 153.3L396.3 154.1L395.6 154.8L396.8 155.6L396.3 158.4L397.7 157.4L398.3 158.2L397.5 159.5L397.9 160.2L400.4 159.5L400.2 160.5L400.9 161.5L401.2 162.3L401.1 163.3L398.4 163.6L398.3 164.8L399.3 165.9L397.2 167.1L397.5 167.9L399.5 167.9L400.9 168.4L401.8 167.9L401.2 168.7L398.6 169.4L397.7 170.7Z"/>
<clipPath id="K-gb"><use href="#L-gb"/></clipPath>
<path id="L-ireland" d="M393.5 158.2L395.8 158.7L396.5 160.0L396.8 160.7L395.6 161.8L395.8 163.6L396.0 164.6L395.3 166.4L391.9 167.4L389.3 168.4L388.1 166.6L389.5 165.3L390.7 163.8L388.6 163.3L388.8 161.8L391.4 161.0L391.0 160.0L391.9 158.7Z"/>
<clipPath id="K-ireland"><use href="#L-ireland"/></clipPath>
<path id="L-hokkaido" d="M652.4 190.9L653.3 189.2L655.1 189.4L655.8 183.8L657.2 184.8L660.3 187.1L662.5 186.6L661.9 189.2L663.0 189.2L660.5 189.9L658.4 192.5L655.6 190.9L654.5 191.7L653.3 191.7L654.0 193.0L652.8 193.8Z"/>
<clipPath id="K-hokkaido"><use href="#L-hokkaido"/></clipPath>
<path id="L-honshu" d="M654.5 193.8L655.4 194.0L655.4 196.3L656.3 198.6L654.5 202.0L654.5 205.3L654.4 208.6L652.6 210.7L652.4 208.9L651.4 209.9L650.8 211.4L650.0 210.4L649.6 211.4L647.3 210.4L647.3 212.2L645.4 214.5L644.2 212.4L644.7 211.4L642.2 211.4L639.4 212.2L636.8 213.0L636.9 211.9L637.7 211.9L640.5 209.1L642.6 209.1L645.2 208.9L645.7 208.6L646.8 206.3L648.0 204.0L647.9 205.8L649.6 204.8L651.0 202.7L652.4 200.4L652.8 198.4L652.3 197.6L652.8 196.1L653.3 194.5L654.2 195.3Z"/>
<clipPath id="K-honshu"><use href="#L-honshu"/></clipPath>
<path id="L-kyushu" d="M636.8 213.2L638.2 214.0L638.2 215.0L638.7 216.0L637.8 218.3L636.4 220.6L635.5 219.9L635.5 217.6L634.8 216.3L634.5 214.8L635.9 214.0Z"/>
<clipPath id="K-kyushu"><use href="#L-kyushu"/></clipPath>
<path id="L-shikoku" d="M639.6 214.0L642.2 212.2L643.5 213.0L642.6 215.0L641.3 214.2L640.5 216.3L639.4 215.0Z"/>
<clipPath id="K-shikoku"><use href="#L-shikoku"/></clipPath>
<path id="L-sakhalin" d="M657.5 160.7L658.6 166.9L659.5 172.0L661.0 174.6L661.0 175.6L657.7 179.7L658.8 181.0L656.3 182.2L656.3 178.4L656.5 174.6L655.9 168.2L656.3 163.0Z"/>
<clipPath id="K-sakhalin"><use href="#L-sakhalin"/></clipPath>
<path id="L-taiwan" d="M620.2 235.2L621.1 236.0L620.2 239.8L619.2 243.7L617.8 241.1L618.1 238.6L619.4 235.7Z"/>
<clipPath id="K-taiwan"><use href="#L-taiwan"/></clipPath>
<path id="L-hainan" d="M597.7 250.6L600.0 248.5L601.8 249.6L600.9 251.9L599.1 253.4L597.7 252.1Z"/>
<clipPath id="K-hainan"><use href="#L-hainan"/></clipPath>
<path id="L-srilanka" d="M547.1 275.2L547.6 274.9L549.4 278.2L550.6 281.3L550.1 283.6L548.1 284.9L547.2 284.1L546.7 279.5Z"/>
<clipPath id="K-srilanka"><use href="#L-srilanka"/></clipPath>
<path id="L-luzon" d="M618.7 252.6L621.5 252.6L621.8 256.5L620.4 259.6L620.8 263.4L622.9 264.2L624.8 267.7L623.4 266.7L622.0 265.2L620.6 264.7L618.7 264.7L619.2 262.6L618.0 262.1L617.2 259.0L618.3 257.5L618.3 255.2Z"/>
<clipPath id="K-luzon"><use href="#L-luzon"/></clipPath>
<path id="L-mindanao" d="M627.1 274.9L629.0 279.5L628.7 283.4L627.1 285.7L624.6 283.4L624.3 280.8L621.5 282.1L621.1 280.0L623.4 278.2L625.9 277.7Z"/>
<clipPath id="K-mindanao"><use href="#L-mindanao"/></clipPath>
<path id="L-samar" d="M625.2 268.0L626.9 267.7L627.6 271.3L626.4 274.4L625.9 271.8Z"/>
<clipPath id="K-samar"><use href="#L-samar"/></clipPath>
<path id="L-panay" d="M621.1 269.5L623.2 270.6L623.8 274.4L624.6 272.4L623.4 275.9L622.2 274.7L621.8 272.9L621.1 273.1Z"/>
<clipPath id="K-panay"><use href="#L-panay"/></clipPath>
<path id="L-palawan" d="M612.7 278.5L616.7 273.1L616.4 271.1L614.1 275.2Z"/>
<clipPath id="K-palawan"><use href="#L-palawan"/></clipPath>
<path id="L-mindoro" d="M618.3 265.7L620.1 265.7L620.2 268.5L619.4 268.8Z"/>
<clipPath id="K-mindoro"><use href="#L-mindoro"/></clipPath>
<path id="L-sumatra" d="M574.2 285.7L578.0 286.7L579.4 289.2L580.1 290.3L582.9 293.6L585.1 295.6L587.7 298.5L589.1 302.6L590.3 305.1L593.0 307.7L592.6 314.8L590.5 314.8L589.5 312.8L586.5 310.2L582.9 302.6L580.7 298.7L580.1 295.6L577.5 291.8L575.4 289.2Z"/>
<clipPath id="K-sumatra"><use href="#L-sumatra"/></clipPath>
<path id="L-java" d="M591.6 317.4L593.0 315.1L594.4 315.4L597.4 317.2L600.9 317.7L601.8 316.4L604.8 317.9L607.7 320.0L607.9 322.0L604.4 321.2L600.0 320.5L596.5 320.0L593.9 318.9Z"/>
<clipPath id="K-java"><use href="#L-java"/></clipPath>
<path id="L-borneo" d="M598.3 295.4L600.5 295.9L602.3 293.6L605.3 291.8L607.0 288.5L608.8 287.2L610.6 284.6L612.0 282.1L614.1 285.2L616.2 286.4L614.1 289.0L613.6 291.0L614.1 294.4L615.8 297.4L613.7 298.0L613.2 301.3L612.0 303.3L611.4 306.4L610.6 309.7L608.1 310.5L605.3 308.4L603.2 309.0L600.4 307.7L600.0 304.6L598.6 300.0L598.3 297.4Z"/>
<clipPath id="K-borneo"><use href="#L-borneo"/></clipPath>
<path id="L-sulawesi" d="M617.2 298.0L617.6 296.9L619.4 296.7L622.9 297.4L626.4 295.6L626.7 296.9L624.6 299.0L621.1 298.7L618.5 298.7L617.6 301.3L619.4 302.6L623.4 302.0L622.9 303.1L620.6 304.9L622.0 309.0L623.2 311.5L622.2 313.8L620.4 312.0L619.4 307.7L618.3 307.7L618.3 314.1L616.7 314.3L616.4 309.0L615.7 306.9L616.7 302.6L617.2 299.5Z"/>
<clipPath id="K-sulawesi"><use href="#L-sulawesi"/></clipPath>
<path id="L-newguinea" d="M636.9 302.0L639.6 301.0L642.2 302.0L642.6 306.4L644.0 308.4L645.7 305.6L648.9 303.8L651.0 305.1L654.0 306.7L654.5 306.7L659.1 309.0L663.0 313.3L666.5 317.2L665.1 317.4L666.9 320.5L669.5 324.3L671.8 326.4L670.4 327.1L666.9 325.9L665.3 324.3L663.3 321.2L660.7 319.7L658.9 321.2L658.1 323.3L654.5 323.3L653.3 321.8L650.1 321.2L648.7 321.5L650.7 317.4L649.3 314.1L645.7 311.8L643.1 310.2L640.5 310.2L639.1 307.4L641.3 306.1L639.6 305.6L637.5 303.8Z"/>
<clipPath id="K-newguinea"><use href="#L-newguinea"/></clipPath>
<path id="L-nusa1" d="M608.1 320.7L610.6 321.0L613.2 321.2L615.8 321.2L615.8 322.5L612.3 323.0L608.8 322.5Z"/>
<clipPath id="K-nusa1"><use href="#L-nusa1"/></clipPath>
<path id="L-flores" d="M617.4 321.5L622.9 321.0L622.9 322.3L617.6 322.8Z"/>
<clipPath id="K-flores"><use href="#L-flores"/></clipPath>
<path id="L-sumba" d="M615.8 324.3L619.0 325.3L617.6 326.1Z"/>
<clipPath id="K-sumba"><use href="#L-sumba"/></clipPath>
<path id="L-timor" d="M623.8 326.4L626.4 323.0L630.3 321.5L629.0 323.6L625.5 326.1Z"/>
<clipPath id="K-timor"><use href="#L-timor"/></clipPath>
<path id="L-halmahera" d="M630.8 294.9L631.7 296.9L632.9 297.4L631.7 300.0L631.3 302.0L630.8 298.7Z"/>
<clipPath id="K-halmahera"><use href="#L-halmahera"/></clipPath>
<path id="L-seram" d="M631.7 307.7L636.6 308.2L635.2 309.2L632.0 309.0Z"/>
<clipPath id="K-seram"><use href="#L-seram"/></clipPath>
<path id="L-buru" d="M628.2 308.2L630.3 308.4L629.6 309.7L628.3 309.2Z"/>
<clipPath id="K-buru"><use href="#L-buru"/></clipPath>
<path id="L-newbritain" d="M667.4 314.3L671.2 314.1L674.2 310.8L674.4 312.8L672.1 315.4L668.6 315.9Z"/>
<clipPath id="K-newbritain"><use href="#L-newbritain"/></clipPath>
<path id="L-newireland" d="M671.8 306.7L674.8 309.2L675.6 312.0L674.4 310.0L672.0 307.4Z"/>
<clipPath id="K-newireland"><use href="#L-newireland"/></clipPath>
<path id="L-bougainville" d="M678.5 313.8L680.7 316.9L679.7 317.4Z"/>
<clipPath id="K-bougainville"><use href="#L-bougainville"/></clipPath>
<path id="L-solomons" d="M681.8 317.4L688.0 321.8L691.1 326.1L689.7 326.1L686.2 321.8Z"/>
<clipPath id="K-solomons"><use href="#L-solomons"/></clipPath>
<path id="L-newcaledonia" d="M695.0 351.5L699.4 355.8L700.3 357.3L697.6 355.8Z"/>
<clipPath id="K-newcaledonia"><use href="#L-newcaledonia"/></clipPath>
<path id="L-vanuatu" d="M699.6 337.9L700.8 339.9L702.6 344.8L701.7 342.2Z"/>
<clipPath id="K-vanuatu"><use href="#L-vanuatu"/></clipPath>
<path id="L-fiji" d="M718.4 344.8L720.7 345.1L720.3 346.6L718.6 346.3Z"/>
<clipPath id="K-fiji"><use href="#L-fiji"/></clipPath>
<path id="L-australia" d="M657.2 327.4L658.9 332.0L659.5 336.6L662.1 339.7L663.0 343.3L664.7 349.4L669.0 354.3L671.8 359.9L675.3 364.8L675.8 370.4L676.7 373.2L675.6 379.4L673.5 384.2L672.5 386.8L670.7 392.2L670.4 396.0L666.9 397.0L664.0 400.1L661.4 397.3L658.9 399.6L655.6 398.3L652.8 396.0L652.1 392.2L650.1 389.6L648.4 390.1L648.9 383.2L645.7 389.1L644.0 385.8L641.7 382.2L637.3 380.6L633.3 381.2L628.2 382.7L624.6 384.5L620.9 386.8L616.7 388.1L613.9 389.6L609.0 388.1L610.0 381.9L608.1 373.7L606.2 366.6L606.0 362.7L607.0 355.8L609.0 355.3L611.8 352.7L615.1 352.0L619.4 349.9L621.5 346.1L622.7 342.0L623.9 344.3L625.5 341.0L627.3 337.1L629.7 335.1L632.0 338.4L634.3 338.4L634.8 334.6L636.6 331.7L639.6 328.7L641.3 330.2L644.9 330.7L647.3 331.2L645.7 334.6L644.9 338.4L647.2 340.7L649.3 342.5L651.9 344.8L654.2 344.8L655.4 339.7L655.6 334.6L655.9 332.3L656.3 328.2Z"/>
<clipPath id="K-australia"><use href="#L-australia"/></clipPath>
<path id="L-tasmania" d="M661.0 404.2L664.2 405.2L667.4 404.7L667.4 408.0L666.7 410.6L664.7 411.6L662.5 409.8L661.9 407.5Z"/>
<clipPath id="K-tasmania"><use href="#L-tasmania"/></clipPath>
<path id="L-nz_n" d="M710.3 388.1L712.4 390.1L714.0 394.2L715.9 396.3L720.5 396.5L719.4 400.1L717.9 401.1L714.9 406.5L714.0 405.7L714.5 402.9L712.2 400.6L713.6 398.8L714.0 396.8L712.9 393.4L710.8 389.6Z"/>
<clipPath id="K-nz_n"><use href="#L-nz_n"/></clipPath>
<path id="L-nz_s" d="M710.3 403.7L711.4 405.5L713.1 405.2L712.1 408.5L710.8 412.1L707.8 413.7L706.8 417.5L702.7 419.3L699.6 418.3L701.7 414.2L703.8 412.4L707.7 408.8L708.4 406.8Z"/>
<clipPath id="K-nz_s"><use href="#L-nz_s"/></clipPath>
<path id="L-svalbard" d="M425.9 96.5L432.9 95.2L441.7 94.7L454.0 95.2L450.5 97.2L444.3 99.0L438.2 102.1L436.4 103.9L431.1 101.6L426.7 99.0Z"/>
<clipPath id="K-svalbard"><use href="#L-svalbard"/></clipPath>
<path id="L-novaya" d="M497.1 116.2L499.7 113.1L504.1 108.0L513.8 104.7L527.0 102.9L522.6 105.4L512.1 108.0L507.7 111.8L505.0 115.7L507.7 119.0L503.3 119.0Z"/>
<clipPath id="K-novaya"><use href="#L-novaya"/></clipPath>
<path id="L-sevzem" d="M573.6 97.8L577.1 93.9L582.4 92.6L591.2 97.8L585.9 100.3L578.9 99.6Z"/>
<clipPath id="K-sevzem"><use href="#L-sevzem"/></clipPath>
<path id="L-fjl" d="M489.2 94.4L498.0 93.2L508.5 91.6L515.6 92.6L512.1 94.2L501.5 94.9Z"/>
<clipPath id="K-fjl"><use href="#L-fjl"/></clipPath>
<path id="L-newsib" d="M647.5 106.7L652.8 105.4L661.6 106.5L670.4 107.5L666.9 108.5L656.3 108.5L649.3 108.0Z"/>
<clipPath id="K-newsib"><use href="#L-newsib"/></clipPath>
<path id="L-wrangel" d="M720.5 118.2L724.9 117.0L727.5 117.7L724.9 118.8Z"/>
<clipPath id="K-wrangel"><use href="#L-wrangel"/></clipPath>
<path id="L-kolguyev" d="M491.8 122.6L493.6 122.1L494.5 123.4L492.7 123.9Z"/>
<clipPath id="K-kolguyev"><use href="#L-kolguyev"/></clipPath>
<path id="L-cuba" d="M257.2 243.9L258.8 241.9L261.6 240.6L264.9 240.9L267.6 242.7L270.2 244.2L273.7 246.2L276.2 248.3L274.2 249.1L273.2 248.8L269.8 249.3L270.7 247.3L268.4 246.2L266.7 244.4L264.9 243.7L263.2 243.2L261.8 241.9L259.6 243.2Z"/>
<clipPath id="K-cuba"><use href="#L-cuba"/></clipPath>
<path id="L-hispaniola" d="M275.7 252.9L279.2 252.4L278.5 250.8L277.4 249.3L279.5 249.3L280.6 249.1L282.2 249.3L284.8 250.6L286.2 252.4L283.6 252.9L281.5 253.4L280.4 254.4L279.0 253.4L276.7 253.7Z"/>
<clipPath id="K-hispaniola"><use href="#L-hispaniola"/></clipPath>
<path id="L-jamaica" d="M268.8 252.9L272.3 253.4L272.5 254.2L270.5 254.7L268.8 253.4Z"/>
<clipPath id="K-jamaica"><use href="#L-jamaica"/></clipPath>
<path id="L-puertorico" d="M288.3 252.6L291.1 252.9L290.8 253.9L288.3 253.9Z"/>
<clipPath id="K-puertorico"><use href="#L-puertorico"/></clipPath>
<path id="L-bahamas1" d="M268.4 231.6L270.2 231.9L271.1 232.7L269.7 232.2Z"/>
<clipPath id="K-bahamas1"><use href="#L-bahamas1"/></clipPath>
<path id="L-bahamas2" d="M269.0 235.7L269.8 237.8L270.2 238.0L269.3 235.7Z"/>
<clipPath id="K-bahamas2"><use href="#L-bahamas2"/></clipPath>
<path id="L-sicily" d="M428.3 202.7L434.0 202.2L433.1 206.0L430.3 204.8Z"/>
<clipPath id="K-sicily"><use href="#L-sicily"/></clipPath>
<path id="L-sardinia" d="M420.9 195.0L423.4 194.8L423.6 199.6L421.5 200.2Z"/>
<clipPath id="K-sardinia"><use href="#L-sardinia"/></clipPath>
<path id="L-corsica" d="M421.6 190.2L423.2 189.9L423.1 193.8L421.8 193.5Z"/>
<clipPath id="K-corsica"><use href="#L-corsica"/></clipPath>
<path id="L-crete" d="M447.9 208.9L452.8 209.6L452.6 210.4L448.0 209.9Z"/>
<clipPath id="K-crete"><use href="#L-crete"/></clipPath>
<path id="L-cyprus" d="M463.3 210.1L464.6 209.4L467.4 208.6L466.3 210.4L464.6 211.4Z"/>
<clipPath id="K-cyprus"><use href="#L-cyprus"/></clipPath>
<path id="L-zealand" d="M426.2 157.4L428.5 156.4L428.7 158.4L427.6 159.5L426.4 158.7Z"/>
<clipPath id="K-zealand"><use href="#L-zealand"/></clipPath>
<path id="L-funen" d="M423.8 157.9L425.5 157.9L425.3 158.9L424.1 158.9Z"/>
<clipPath id="K-funen"><use href="#L-funen"/></clipPath>
<path id="L-gotland" d="M438.5 151.8L439.9 152.0L438.7 154.1Z"/>
<clipPath id="K-gotland"><use href="#L-gotland"/></clipPath>
<path id="L-saaremaa" d="M445.0 150.2L447.3 150.0L446.6 151.0L445.2 151.3Z"/>
<clipPath id="K-saaremaa"><use href="#L-saaremaa"/></clipPath>
<path id="L-socotra" d="M500.3 267.7L502.4 267.7L502.2 268.5L500.5 268.3Z"/>
<clipPath id="K-socotra"><use href="#L-socotra"/></clipPath>
<path id="L-hawaii" d="M132.1 248.3L133.9 249.3L132.8 251.4L132.1 249.8Z"/>
<clipPath id="K-hawaii"><use href="#L-hawaii"/></clipPath>
<path id="L-hawaii2" d="M128.2 244.7L129.1 245.2L130.9 246.5L131.8 247.0L130.7 247.3Z"/>
<clipPath id="K-hawaii2"><use href="#L-hawaii2"/></clipPath>
<path id="L-galapagos" d="M245.6 300.8L246.5 300.5L246.6 302.6L245.7 302.3Z"/>
<clipPath id="K-galapagos"><use href="#L-galapagos"/></clipPath>
<path id="L-kerguelen" d="M527.5 425.4L530.2 426.0L528.8 427.0Z"/>
<clipPath id="K-kerguelen"><use href="#L-kerguelen"/></clipPath>
<path id="L-cornwallis" d="M236.3 106.3L242.4 106.3L242.4 108.4L237.4 108.4Z"/>
<clipPath id="K-cornwallis"><use href="#L-cornwallis"/></clipPath>
<path id="L-borden" d="M206.3 98.6L214.4 98.4L213.4 100.7L207.4 101.0Z"/>
<clipPath id="K-borden"><use href="#L-borden"/></clipPath>
<path id="L-amund" d="M233.8 98.1L238.9 98.4L237.9 100.7L233.8 100.5Z"/>
<clipPath id="K-amund"><use href="#L-amund"/></clipPath>
<path id="L-bylot" d="M264.0 111.6L271.1 111.1L272.8 113.4L266.7 114.1Z"/>
<clipPath id="K-bylot"><use href="#L-bylot"/></clipPath>
<path id="L-princecharles" d="M270.2 125.4L273.7 125.4L273.7 127.7L271.1 127.7Z"/>
<clipPath id="K-princecharles"><use href="#L-princecharles"/></clipPath>
<path id="L-mansel" d="M264.9 140.3L266.9 140.3L266.5 142.3L265.1 142.0Z"/>
<clipPath id="K-mansel"><use href="#L-mansel"/></clipPath>
<path id="L-akimiski" d="M262.3 163.8L265.4 164.3L264.4 165.1Z"/>
<clipPath id="K-akimiski"><use href="#L-akimiski"/></clipPath>
<path id="L-eglinton" d="M196.1 105.0L199.7 105.6L199.1 107.1L196.1 106.5Z"/>
<clipPath id="K-eglinton"><use href="#L-eglinton"/></clipPath>
<path id="L-mackenzieking" d="M204.6 100.5L212.1 100.5L211.7 102.2L205.6 102.2Z"/>
<clipPath id="K-mackenzieking"><use href="#L-mackenzieking"/></clipPath>
<path id="L-belcher" d="M265.8 154.6L267.9 155.1L266.7 156.6L265.4 156.1Z"/>
<clipPath id="K-belcher"><use href="#L-belcher"/></clipPath>
<path id="W-caspian" d="M491.0 182.2L494.5 180.7L497.1 179.9L500.1 181.0L499.7 184.3L496.6 184.3L496.2 185.8L495.0 186.6L496.6 188.4L498.9 190.4L499.4 193.8L499.7 197.6L501.2 200.2L501.3 204.5L498.0 206.0L494.8 205.3L493.6 204.0L492.5 201.7L493.2 199.4L495.0 196.6L493.6 195.8L492.7 193.8L491.5 192.5L490.1 189.9L490.1 187.4L488.7 186.1L489.2 184.0Z"/>
<path id="W-blacksea" d="M457.5 194.5L461.9 194.5L465.4 192.5L468.4 192.5L470.4 194.3L473.4 195.0L476.4 195.0L479.7 193.5L478.6 189.9L476.4 188.4L473.0 185.6L470.9 184.3L472.3 183.8L473.4 182.2L473.9 180.4L475.6 179.2L472.5 179.4L468.6 181.5L468.1 183.0L470.7 183.8L468.8 184.8L466.7 186.3L465.3 185.8L463.7 183.8L465.6 182.0L463.7 181.0L460.5 181.0L458.8 184.3L457.0 186.8L455.6 189.4L454.9 191.2L455.8 192.5Z"/>
<path id="C-USA" d="M184.9 174.6L189.6 174.6L239.1 174.6L240.1 175.3L245.6 176.9L249.1 177.1L251.0 176.4L257.2 179.9L258.1 181.0L259.5 182.8L261.4 184.0L261.6 189.9L260.3 191.7L261.1 193.2L264.0 192.0L267.6 190.4L267.6 189.2L267.2 188.6L271.4 188.4L272.1 187.1L274.1 185.3L275.1 184.8L280.8 184.8L280.9 184.3L282.0 183.8L282.9 182.5L283.4 180.4L284.8 178.5L285.3 179.2L286.4 178.8L287.3 179.4L287.3 183.0L288.0 184.3L288.7 185.1L301.0 187.4L283.4 248.8L235.9 248.8L195.4 223.2Z"/>
<path id="C-ALASKA" d="M158.5 115.7L158.5 145.6L161.7 146.1L164.7 149.2L166.4 147.7L168.2 146.9L169.2 148.2L171.9 150.5L174.5 154.6L177.8 156.6L177.3 160.5L169.1 166.9L91.7 172.0L91.7 115.7Z"/>
<path id="C-MEX" d="M200.5 216.8L204.8 216.3L204.6 216.8L211.1 219.9L216.2 219.9L216.2 218.6L219.2 218.6L221.8 221.4L222.7 224.2L225.0 225.8L226.4 223.7L228.2 223.7L230.1 227.6L231.5 229.6L232.2 232.4L235.5 233.7L257.0 233.4L257.0 252.6L251.2 252.6L249.7 254.4L246.5 254.4L246.5 255.8L245.7 255.8L247.4 258.9L245.1 258.9L244.3 260.8L244.3 262.8L239.4 266.7L193.7 266.7L193.7 216.8Z"/>
<path id="C-GTM" d="M244.3 262.8L244.3 260.8L245.1 258.9L247.4 258.9L245.7 255.8L246.5 255.8L246.5 254.4L249.7 254.4L249.6 259.3L250.1 259.3L251.4 259.8L249.6 261.6L249.6 263.1L249.3 263.1L248.0 264.8L246.5 266.7Z"/>
<path id="C-BLZ" d="M249.7 254.4L251.2 252.6L253.5 252.6L253.5 259.3L250.1 259.3L249.6 259.3Z"/>
<path id="C-SLV" d="M248.0 264.8L249.3 263.1L250.8 264.2L252.1 264.4L252.3 266.0L250.8 268.0L247.3 266.7Z"/>
<path id="C-HND" d="M251.4 259.8L253.5 256.5L260.5 257.8L260.2 261.6L257.9 262.4L255.8 264.4L254.0 264.7L254.0 266.0L253.0 266.7L252.3 266.0L252.1 264.4L250.8 264.2L249.3 263.1L249.6 263.1L249.6 261.6Z"/>
<path id="C-NIC" d="M260.2 261.6L257.9 262.4L255.8 264.4L254.0 264.7L254.0 266.0L253.0 266.7L251.7 269.3L255.2 273.1L255.8 271.6L257.5 271.8L259.3 272.1L262.3 271.8L262.3 260.3Z"/>
<path id="C-CRI" d="M255.8 271.6L257.5 271.8L259.3 272.1L261.4 273.1L261.2 275.4L260.7 276.7L260.7 279.5L260.5 282.1L253.5 277.0L254.4 271.8Z"/>
<path id="C-PAN" d="M261.2 275.4L260.7 276.7L260.7 279.5L262.3 283.4L271.1 283.4L271.1 274.4L262.3 274.4Z"/>
<path id="C-COLtip" d="M270.4 277.7L270.7 279.8L269.5 281.6L272.0 282.1L272.0 277.0Z"/>
<path id="C-COL" d="M266.7 277.0L270.4 277.7L270.7 279.8L269.5 281.6L265.8 284.6L265.8 296.2L267.9 296.4L269.8 298.0L272.3 299.0L274.1 300.3L276.4 302.6L278.3 306.1L280.2 305.6L283.2 306.9L283.4 310.8L284.4 302.8L283.7 301.5L283.4 298.5L285.0 298.5L284.8 295.6L286.9 295.6L288.7 296.9L288.0 294.4L287.1 291.6L287.3 288.5L287.8 284.1L284.4 284.4L283.2 282.1L279.9 281.8L279.0 281.1L279.2 278.5L278.1 276.4L278.3 273.1L279.5 271.6L281.1 269.8L281.6 266.7L269.3 266.7Z"/>
<path id="C-VEN" d="M281.1 269.8L279.5 271.6L278.3 273.1L278.1 276.4L279.2 278.5L279.0 281.1L279.9 281.8L283.2 282.1L284.4 284.4L287.8 284.1L287.3 288.5L287.1 291.6L288.0 294.4L288.7 296.9L289.9 298.0L291.3 298.2L293.9 295.1L295.0 294.4L293.9 293.6L293.6 289.5L295.9 290.8L299.2 288.5L299.7 286.7L298.5 284.9L299.0 282.8L300.5 282.1L300.1 280.0L301.3 278.8L301.0 278.0L302.7 274.4L301.0 269.3L283.4 265.4Z"/>
<path id="C-GUY" d="M301.3 278.8L300.1 280.0L300.5 282.1L299.0 282.8L298.5 284.9L299.7 286.7L301.0 287.2L301.7 290.0L301.2 293.9L301.5 295.4L303.1 296.9L304.5 296.2L305.7 295.1L307.1 295.1L305.7 291.6L304.7 288.2L305.9 286.7L306.1 284.9L306.3 280.8L302.7 277.0Z"/>
<path id="C-SUR" d="M306.1 284.9L305.9 286.7L304.7 288.2L305.7 291.6L307.1 295.1L308.2 295.1L308.2 293.6L310.5 294.1L311.2 291.6L310.7 287.5L311.5 285.4L311.5 282.1L306.3 280.8Z"/>
<path id="C-GUF" d="M311.5 285.4L310.7 287.5L311.2 291.6L310.5 294.1L311.9 294.4L313.5 294.4L314.0 293.6L315.6 289.8L317.7 287.2L313.3 282.1Z"/>
<path id="C-ECU" d="M267.9 296.4L269.8 298.0L272.3 299.0L274.1 300.3L273.5 304.1L271.6 306.7L269.7 307.7L268.6 309.0L268.1 311.8L266.7 312.8L265.1 311.3L265.3 308.7L262.3 308.7L262.3 296.2Z"/>
<path id="C-PER" d="M265.3 308.7L265.1 311.3L266.7 312.8L268.1 311.8L268.6 309.0L269.7 307.7L271.6 306.7L273.5 304.1L274.1 300.3L276.4 302.6L278.3 306.1L280.2 305.6L283.2 306.9L283.4 310.8L278.3 313.3L276.5 317.9L278.1 323.6L279.5 325.6L282.3 324.3L282.3 328.2L284.1 328.2L285.7 332.0L285.1 335.1L284.6 338.4L284.1 339.9L285.1 341.5L284.1 344.3L284.3 344.8L282.9 346.8L279.9 348.6L260.5 317.9L260.5 308.7Z"/>
<path id="C-BOL" d="M284.1 328.2L286.9 327.4L289.4 325.3L291.7 325.1L291.5 330.0L293.2 332.0L296.1 333.3L299.2 334.6L300.5 337.4L300.6 341.7L303.8 341.7L304.0 344.3L305.4 346.6L304.8 348.6L304.1 350.7L302.6 349.4L298.0 350.2L296.4 356.8L293.4 358.4L293.4 356.3L291.8 356.6L289.9 355.8L288.3 358.4L286.6 354.5L286.0 351.2L285.7 349.7L285.1 348.4L284.3 344.8L284.1 344.3L285.1 341.5L284.1 339.9L284.6 338.4L285.1 335.1L285.7 332.0Z"/>
<path id="C-PRY" d="M304.1 350.7L304.8 353.5L304.7 356.6L308.4 357.1L309.1 361.2L311.0 361.7L310.5 365.5L308.2 370.1L307.1 370.4L303.4 369.9L305.2 364.8L303.1 363.5L299.2 360.9L296.4 356.8L298.0 350.2L302.6 349.4Z"/>
<path id="C-URY" d="M312.6 386.3L312.9 383.7L310.5 380.6L308.7 379.1L306.6 377.3L305.2 377.3L304.5 380.6L304.1 384.5L303.8 387.0L306.3 392.2L313.3 390.9Z"/>
<path id="C-ARG" d="M296.4 356.8L299.2 360.9L303.1 363.5L305.2 364.8L303.4 369.9L307.1 370.4L308.2 370.1L310.5 365.5L311.9 368.1L312.1 369.6L308.4 372.7L305.2 377.3L304.5 380.6L304.1 384.5L303.8 387.0L308.0 392.2L308.0 444.6L285.9 444.6L285.9 434.9L286.2 434.1L284.3 433.4L280.0 433.1L279.3 431.8L277.6 429.8L277.8 427.5L279.2 424.7L280.2 420.3L281.1 416.5L280.4 412.6L280.2 407.5L280.6 402.4L281.8 399.1L281.5 396.0L282.5 392.7L283.7 387.8L283.4 385.2L282.5 380.6L283.4 377.6L283.7 373.0L286.0 367.3L286.2 362.7L288.7 358.9L288.3 358.4L289.9 355.8L291.8 356.6L293.4 356.3L293.4 358.4Z"/>
<path id="C-CHL" d="M284.3 344.8L285.1 348.4L285.7 349.7L286.0 351.2L286.6 354.5L288.3 358.4L288.7 358.9L286.2 362.7L286.0 367.3L283.7 373.0L283.4 377.6L282.5 380.6L283.4 385.2L283.7 387.8L282.5 392.7L281.5 396.0L281.8 399.1L280.6 402.4L280.2 407.5L280.4 412.6L281.1 416.5L280.2 420.3L279.2 424.7L277.8 427.5L277.6 429.8L279.3 431.8L280.0 433.1L284.3 433.4L286.2 434.1L285.9 434.9L285.9 444.6L269.3 444.6L269.3 344.8L282.9 346.8Z"/>
<path id="C-MAR" d="M402.7 210.1L403.4 211.2L403.5 213.7L404.4 217.1L401.4 217.8L400.2 218.8L400.0 220.9L397.7 222.7L396.5 224.2L394.0 224.2L391.2 226.5L391.2 229.2L383.3 229.2L378.4 228.3L385.4 206.6L399.5 205.3Z"/>
<path id="C-ESH" d="M391.2 229.2L391.2 233.4L385.4 233.4L385.4 239.8L383.7 241.1L383.5 245.5L376.6 245.5L373.1 246.2L373.1 229.2Z"/>
<path id="C-MRT" d="M391.2 230.1L397.9 236.0L396.1 248.8L396.8 257.8L397.0 260.3L390.2 260.3L387.7 260.6L386.3 260.1L385.1 262.1L383.1 258.8L381.0 257.5L377.5 259.0L373.1 259.0L373.1 245.5L383.5 245.5L383.7 241.1L385.4 239.8L385.4 233.4L391.2 233.4Z"/>
<path id="C-DZA" d="M402.7 210.1L403.4 211.2L403.5 213.7L404.4 217.1L401.4 217.8L400.2 218.8L400.0 220.9L397.7 222.7L396.5 224.2L394.0 224.2L391.2 226.5L391.2 230.1L397.9 236.0L408.6 246.0L409.7 248.0L412.1 249.3L412.1 251.1L413.9 251.1L416.7 250.1L419.7 246.8L427.6 239.8L426.9 238.6L424.1 237.3L423.1 232.9L423.9 227.6L423.2 222.4L422.4 217.8L419.7 213.5L420.9 211.4L421.1 209.1L421.6 205.5L421.6 201.4L403.0 202.7Z"/>
<path id="C-TUN" d="M421.6 205.5L421.1 209.1L420.9 211.4L419.7 213.5L422.4 217.8L423.2 222.4L424.6 220.9L424.6 218.8L426.7 217.1L426.7 215.0L429.4 213.0L427.6 201.4L421.6 201.4Z"/>
<path id="C-LBY" d="M426.7 215.0L426.7 217.1L424.6 218.8L424.6 220.9L423.2 222.4L423.9 227.6L423.1 232.9L424.1 237.3L426.9 238.6L427.6 239.8L431.5 242.1L432.9 241.1L448.7 250.1L448.7 248.8L450.5 248.8L450.5 243.7L450.5 225.2L450.0 222.7L450.8 219.1L450.5 213.0L427.6 213.0Z"/>
<path id="C-EGY" d="M450.8 219.1L450.0 222.7L450.5 225.2L450.5 243.7L471.4 243.7L473.4 243.7L473.4 233.4L469.0 228.3L468.4 224.5L467.9 224.5L466.7 219.9L464.6 215.5L450.5 215.5Z"/>
<path id="C-MLI" d="M397.9 236.0L396.1 248.8L396.8 257.8L397.0 260.3L390.2 260.3L387.7 260.6L386.3 260.1L385.1 262.1L386.5 267.0L386.5 268.3L388.4 268.8L390.2 268.3L390.9 270.3L391.9 271.8L392.4 273.9L395.6 273.1L396.0 273.9L396.8 273.4L397.2 270.3L398.8 268.8L398.8 266.5L400.7 265.2L401.6 263.9L403.0 263.6L405.3 261.3L406.9 261.6L408.8 260.8L412.7 260.6L413.9 256.7L413.9 251.1L412.1 251.1L412.1 249.3L409.7 248.0L408.6 246.0Z"/>
<path id="C-NER" d="M406.9 261.6L408.8 260.8L412.7 260.6L413.9 256.7L413.9 251.1L416.7 250.1L419.7 246.8L427.6 239.8L431.5 242.1L432.9 241.1L433.8 246.2L434.5 247.8L433.8 256.7L430.3 262.9L430.4 264.9L428.5 266.5L425.3 265.7L422.4 267.2L420.2 266.0L418.7 266.7L416.2 264.4L413.7 265.4L412.9 270.0L411.4 268.3L410.7 269.5L410.2 267.5L408.3 265.7L407.2 264.2Z"/>
<path id="C-TCD" d="M432.9 241.1L448.7 250.1L448.7 259.8L446.8 260.1L445.2 264.7L446.1 267.7L446.8 270.8L446.8 272.1L443.5 275.7L439.9 277.0L439.2 279.5L436.4 280.3L433.8 280.8L433.3 278.5L431.0 275.2L431.5 274.4L433.8 274.4L433.1 272.4L432.9 269.0L432.7 267.5L431.3 266.5L430.4 264.9L430.3 262.9L433.8 256.7L434.5 247.8L433.8 246.2Z"/>
<path id="C-SDN" d="M450.5 243.7L450.5 248.8L448.7 248.8L448.7 250.1L448.7 259.8L446.8 260.1L445.2 264.7L446.1 267.7L446.8 270.8L446.8 272.1L447.9 274.9L450.5 273.6L453.1 275.7L455.8 276.2L457.5 275.2L458.4 274.1L460.7 275.2L461.6 274.9L463.5 270.0L463.3 268.8L464.9 268.8L464.7 272.6L466.2 275.2L466.5 275.7L466.9 272.9L468.1 271.3L468.3 269.3L470.0 267.5L470.7 263.4L470.5 261.3L471.6 256.2L474.4 253.9L476.9 251.4L473.4 242.4L471.4 243.7Z"/>
<path id="C-SSD" d="M447.9 274.9L450.5 273.6L453.1 275.7L455.8 276.2L457.5 275.2L458.4 274.1L460.7 275.2L461.6 274.9L463.5 270.0L463.3 268.8L464.9 268.8L464.7 272.6L466.2 275.2L466.5 275.7L466.2 278.5L464.6 279.5L466.3 280.8L467.6 282.8L468.6 286.2L469.7 288.2L466.3 289.2L466.2 289.2L464.0 290.3L462.6 290.8L460.7 291.0L458.4 288.2L456.5 289.0L454.7 286.9L453.0 283.1L450.7 280.3L449.1 277.7Z"/>
<path id="C-ETH" d="M470.7 263.4L470.0 267.5L468.3 269.3L468.1 271.3L466.9 272.9L466.5 275.7L466.2 278.5L464.6 279.5L466.3 280.8L467.6 282.8L468.6 286.2L469.7 288.2L471.4 288.7L473.5 290.8L476.0 291.3L478.3 289.2L480.2 290.0L483.0 287.7L485.7 287.2L491.0 279.5L489.2 279.5L483.9 277.2L482.0 272.1L482.0 271.8L480.0 271.8L480.0 270.0L481.1 268.0L478.3 263.6L476.7 262.9L475.1 262.6L473.2 262.1L472.1 263.4Z"/>
<path id="C-ERI" d="M470.7 263.4L470.5 261.3L471.6 256.2L474.4 253.9L476.9 251.4L483.9 266.7L482.3 267.5L481.1 268.0L478.3 263.6L476.7 262.9L475.1 262.6L473.2 262.1L472.1 263.4Z"/>
<path id="C-DJI" d="M482.0 271.8L480.0 271.8L480.0 270.0L481.1 268.0L482.3 267.5L483.9 269.3L483.0 271.8Z"/>
<path id="C-SOM" d="M482.0 272.1L483.9 277.2L489.2 279.5L491.0 279.5L485.7 287.2L483.0 287.7L480.2 290.0L478.6 292.8L478.6 302.3L479.7 304.4L482.2 307.7L499.7 279.5L498.0 266.7L483.0 269.3L483.0 271.8L482.0 271.8Z"/>
<path id="C-KEN" d="M466.3 289.2L469.7 288.2L471.4 288.7L473.5 290.8L476.0 291.3L478.3 289.2L480.2 290.0L478.6 292.8L478.6 302.3L479.7 304.4L480.4 310.2L475.5 312.0L472.8 309.0L472.7 307.7L466.2 302.6L466.3 299.5L467.2 297.2L468.1 295.6L467.2 292.3Z"/>
<path id="C-UGA" d="M460.7 291.0L462.6 290.8L464.0 290.3L466.2 289.2L466.3 289.2L467.2 292.3L468.1 295.6L467.2 297.2L466.3 299.5L466.2 302.6L460.7 302.6L460.2 302.8L458.6 303.6L458.6 301.3L459.1 298.5L460.2 296.9L461.6 294.4Z"/>
<path id="C-RWA" d="M458.6 303.6L460.2 302.8L460.7 306.1L460.2 306.1L459.1 307.2L457.5 306.9L458.1 304.1Z"/>
<path id="C-BDI" d="M457.5 306.9L459.1 307.2L460.2 306.1L460.7 308.4L459.3 311.3L458.2 311.3L457.9 307.7Z"/>
<path id="C-TZA" d="M460.7 302.6L466.2 302.6L472.7 307.7L472.8 309.0L475.5 312.0L478.6 312.8L479.5 326.9L477.6 326.9L473.4 328.9L469.8 330.0L467.4 329.7L467.2 325.6L466.3 324.3L464.4 324.1L460.7 321.2L458.6 315.9L458.2 311.3L459.3 311.3L460.7 308.4L460.7 306.1Z"/>
<path id="C-MOZ" d="M477.6 326.9L473.4 328.9L469.8 330.0L467.4 329.7L467.0 331.2L467.9 334.6L469.7 338.1L469.5 341.0L468.6 343.8L467.0 341.0L467.4 338.4L465.6 337.4L464.9 335.8L459.6 338.4L460.0 339.9L461.6 341.0L464.4 342.8L464.6 344.3L464.2 347.4L464.6 350.7L463.7 354.5L461.6 357.3L462.8 361.4L462.6 366.3L463.0 368.6L464.4 368.9L466.3 369.1L471.6 361.4L471.6 351.2L480.4 341.0L480.4 326.9Z"/>
<path id="C-MWI" d="M464.4 324.1L466.3 324.3L467.2 325.6L467.4 329.7L467.0 331.2L467.9 334.6L469.7 338.1L469.5 341.0L468.6 343.8L467.0 341.0L467.4 338.4L465.6 337.4L464.9 335.8L464.4 332.0L465.1 328.2Z"/>
<path id="C-ZMB" d="M460.7 321.2L464.4 324.1L465.1 328.2L464.4 332.0L464.9 335.8L459.6 338.4L460.0 339.9L457.2 342.2L454.0 345.8L450.8 345.6L447.7 345.1L445.2 341.5L445.2 333.3L448.7 333.3L448.7 327.9L449.3 328.9L451.0 328.7L454.4 329.7L457.5 334.3L458.9 334.3L458.4 331.7L456.5 330.2L456.8 327.4L456.7 323.8L457.4 321.8Z"/>
<path id="C-ZWE" d="M450.8 345.6L454.0 345.8L457.2 342.2L460.0 339.9L461.6 341.0L464.4 342.8L464.6 344.3L464.2 347.4L464.6 350.7L463.7 354.5L461.6 357.3L458.2 356.8L455.2 352.5L452.6 350.2L451.0 347.6Z"/>
<path id="C-AGO" d="M428.2 315.4L429.4 315.1L435.7 315.1L436.2 318.4L440.6 320.2L440.8 317.9L444.9 318.7L444.9 322.5L445.2 325.1L445.7 328.7L448.7 327.9L448.7 333.3L445.2 333.3L445.2 341.5L447.7 345.1L443.5 346.1L443.1 346.1L438.9 344.5L431.1 344.5L427.3 344.3L424.1 343.5L424.1 315.4Z"/>
<path id="C-CABINDA" d="M427.6 312.8L428.5 311.8L429.6 311.8L428.2 314.8L425.9 315.4Z"/>
<path id="C-NAM" d="M427.3 344.3L431.1 344.5L438.9 344.5L443.1 346.1L447.7 345.1L450.8 345.6L448.7 346.1L447.5 346.1L443.5 346.8L443.5 356.3L441.7 356.3L441.7 363.5L441.7 372.7L439.9 374.2L437.3 373.5L435.5 373.2L429.4 374.2L424.1 343.5Z"/>
<path id="C-BWA" d="M450.8 345.6L448.7 346.1L447.5 346.1L443.5 346.8L443.5 356.3L441.7 356.3L441.7 363.5L442.9 368.6L444.7 368.6L446.4 365.3L448.7 365.5L451.6 365.5L453.8 360.7L455.8 358.4L458.2 356.8L455.2 352.5L452.6 350.2L451.0 347.6Z"/>
<path id="C-ZAF" d="M435.5 373.2L437.3 373.5L439.9 374.2L441.7 372.7L441.7 363.5L442.9 368.6L444.7 368.6L446.4 365.3L448.7 365.5L451.6 365.5L453.8 360.7L455.8 358.4L458.2 356.8L461.6 357.3L462.8 361.4L462.6 366.3L463.0 368.6L464.4 368.9L466.3 371.7L459.3 392.2L438.2 392.2L432.9 376.8Z"/>
<path id="C-LSO" d="M454.0 375.8L456.8 373.2L458.2 375.3L456.5 378.3L454.5 377.6Z"/>
<path id="C-SWZ" d="M461.0 366.6L462.8 366.6L463.0 368.6L461.0 369.6L460.7 367.8Z"/>
<path id="C-COG" d="M426.0 310.0L427.3 309.2L426.9 306.1L428.5 305.9L429.4 306.1L431.8 305.1L431.8 303.3L431.0 300.0L432.0 297.7L429.9 296.7L429.7 294.4L435.0 294.4L435.7 291.0L439.2 291.0L438.4 294.4L437.8 299.2L437.7 301.5L435.0 305.6L434.7 309.0L433.3 311.0L431.8 312.5L429.6 311.8L428.5 311.8L427.6 312.8L425.0 312.8Z"/>
<path id="C-GAB" d="M423.8 297.4L426.4 297.4L426.4 294.4L429.7 294.4L429.9 296.7L432.0 297.7L431.0 300.0L431.8 303.3L431.8 305.1L429.4 306.1L428.5 305.9L426.9 306.1L427.3 309.2L426.0 310.0L422.4 310.2L420.6 300.0L422.4 296.2Z"/>
<path id="C-GNQ" d="M423.8 297.4L426.4 297.4L426.4 294.4L423.8 294.1L422.4 294.9Z"/>
<path id="C-CMR" d="M423.8 294.1L426.4 294.4L429.7 294.4L435.0 294.4L434.7 292.8L432.9 289.0L432.0 286.4L432.2 284.1L433.8 280.8L433.3 278.5L431.0 275.2L431.5 274.4L433.8 274.4L433.1 272.4L432.9 269.0L432.7 267.5L431.3 266.5L431.5 268.3L432.2 270.6L430.8 271.8L429.7 275.4L429.0 277.5L428.0 278.5L427.3 281.8L426.0 283.1L424.5 282.3L422.4 284.9L421.6 287.7L420.6 289.8L422.4 294.9Z"/>
<path id="C-CAF" d="M433.8 280.8L436.4 280.3L439.2 279.5L439.9 277.0L443.5 275.7L446.8 272.1L447.9 274.9L449.1 277.7L450.7 280.3L453.0 283.1L454.7 286.9L451.0 287.2L449.4 286.9L446.8 288.0L445.9 289.5L442.8 288.7L440.6 286.9L439.2 289.0L439.2 291.0L435.7 291.0L435.0 294.4L434.7 292.8L432.9 289.0L432.0 286.4L432.2 284.1Z"/>
<path id="C-NGA" d="M411.3 283.6L411.3 279.8L411.4 277.0L412.0 276.7L413.2 272.9L412.9 270.0L413.7 265.4L416.2 264.4L418.7 266.7L420.2 266.0L422.4 267.2L425.3 265.7L428.5 266.5L430.4 264.9L431.3 266.5L431.5 268.3L432.2 270.6L430.8 271.8L429.7 275.4L429.0 277.5L428.0 278.5L427.3 281.8L426.0 283.1L424.5 282.3L422.4 284.9L421.6 287.7L420.6 291.0L411.8 287.2Z"/>
<path id="C-BEN" d="M409.3 284.1L409.3 282.1L409.3 277.0L409.0 275.7L407.9 273.4L408.1 271.8L409.0 270.8L410.7 269.5L411.4 268.3L412.9 270.0L413.2 272.9L412.0 276.7L411.4 277.0L411.3 279.8L411.3 283.6L410.9 285.9L409.3 285.9Z"/>
<path id="C-TGO" d="M408.6 284.4L407.4 282.1L407.6 278.8L407.2 275.7L406.5 272.9L406.3 271.6L408.1 271.8L407.9 273.4L409.0 275.7L409.3 277.0L409.3 282.1L409.3 284.1L409.2 285.9Z"/>
<path id="C-GHA" d="M401.1 286.9L401.6 284.6L400.9 282.6L402.1 279.0L401.6 275.9L401.8 275.7L401.6 271.8L406.3 271.6L406.5 272.9L407.2 275.7L407.6 278.8L407.4 282.1L408.6 284.4L408.6 287.2L404.8 289.8L401.1 289.0Z"/>
<path id="C-BFA" d="M396.8 273.4L397.2 270.3L398.8 268.8L398.8 266.5L400.7 265.2L401.6 263.9L403.0 263.6L405.3 261.3L406.9 261.6L407.2 264.2L408.3 265.7L410.2 267.5L410.7 269.5L409.0 270.8L408.1 271.8L406.3 271.6L401.6 271.8L401.8 275.7L400.9 274.7L398.3 275.2Z"/>
<path id="C-CIV" d="M393.3 288.7L393.3 285.2L391.9 283.9L391.6 280.5L392.6 278.2L392.4 273.9L395.6 273.1L396.0 273.9L396.8 273.4L398.3 275.2L400.9 274.7L401.8 275.7L401.6 275.9L402.1 279.0L400.9 282.6L401.6 284.6L401.1 286.9L401.1 289.8L393.3 290.3Z"/>
<path id="C-LBR" d="M393.3 288.7L393.3 285.2L391.9 283.9L391.6 280.5L390.0 281.1L390.0 278.5L388.4 278.2L387.9 280.0L386.3 282.3L385.4 284.6L392.4 291.0Z"/>
<path id="C-SLE" d="M388.4 278.2L387.7 276.2L386.8 274.4L384.5 274.7L383.1 277.0L381.9 278.2L385.4 283.4L386.3 282.3L387.9 280.0Z"/>
<path id="C-GIN" d="M380.1 272.1L380.7 270.6L382.4 270.0L382.4 267.5L386.5 268.3L388.4 268.8L390.2 268.3L390.9 270.3L391.9 271.8L392.4 273.9L392.6 278.2L391.6 280.5L390.0 281.1L390.0 278.5L388.4 278.2L387.7 276.2L386.8 274.4L384.5 274.7L383.1 277.0L381.0 277.0L378.4 273.1Z"/>
<path id="C-GNB" d="M380.1 272.1L380.7 270.6L382.4 270.0L382.4 267.5L377.1 268.3L375.7 269.3L377.5 273.1Z"/>
<path id="C-SEN" d="M377.1 268.3L382.4 267.5L386.5 268.3L386.5 267.0L385.1 262.1L383.1 258.8L381.0 257.5L377.5 259.0L374.0 259.0L374.0 268.3Z"/>
<path id="C-GMB" d="M376.8 265.2L379.3 264.8L381.9 265.1L382.2 265.7L379.6 265.8L376.8 266.5Z"/>
<path id="C-NOR" d="M426.7 149.0L427.3 146.7L428.5 146.1L428.2 143.8L429.2 142.8L428.0 142.0L427.8 137.4L431.0 136.2L432.0 132.8L432.0 130.8L434.7 128.5L435.4 127.2L438.2 124.6L441.7 123.1L442.6 123.1L444.5 122.6L448.2 124.1L451.7 123.4L452.3 121.6L455.8 120.5L457.5 122.1L457.4 123.1L459.3 122.3L460.7 121.3L462.8 115.7L411.8 115.7L411.8 152.8L424.1 152.0L425.5 149.5Z"/>
<path id="C-SWE" d="M426.7 149.0L427.3 146.7L428.5 146.1L428.2 143.8L429.2 142.8L428.0 142.0L427.8 137.4L431.0 136.2L432.0 132.8L432.0 130.8L434.7 128.5L435.4 127.2L438.2 124.6L441.7 123.1L442.6 123.1L447.9 126.2L448.0 128.0L448.7 130.5L449.1 131.6L447.0 133.6L442.2 143.8L441.7 151.5L434.7 159.2L427.6 158.7L425.9 152.8L425.5 149.5Z"/>
<path id="C-FIN" d="M442.6 123.1L444.5 122.6L448.2 124.1L451.7 123.4L452.3 121.6L455.8 120.5L457.5 122.1L457.4 123.1L456.7 125.4L459.3 126.7L457.5 128.7L459.5 131.8L458.8 134.1L460.3 136.2L462.1 139.0L459.3 141.8L455.4 145.1L450.5 147.2L443.5 147.2L442.2 143.8L447.0 133.6L449.1 131.6L448.7 130.5L448.0 128.0L447.9 126.2Z"/>
<path id="C-EST" d="M455.8 147.7L454.7 149.5L454.9 150.8L454.7 152.8L452.3 152.0L451.0 151.5L449.3 151.8L447.0 152.0L446.1 147.7L452.3 146.4Z"/>
<path id="C-LVA" d="M454.7 152.8L455.4 154.3L456.1 156.4L453.3 157.4L450.5 155.9L446.8 155.6L443.6 156.4L441.7 155.4L444.3 151.0L449.3 151.8L451.0 151.5L452.3 152.0Z"/>
<path id="C-LTU" d="M453.3 157.4L451.9 159.5L451.4 161.0L447.9 162.0L446.6 160.7L446.4 159.2L444.0 158.4L441.7 157.9L441.7 155.4L443.6 156.4L446.8 155.6L450.5 155.9Z"/>
<path id="C-BLR" d="M456.1 156.4L460.9 157.7L461.0 159.2L464.0 163.0L461.8 163.8L461.0 166.6L460.3 168.7L456.7 168.2L454.0 167.9L450.5 167.1L448.0 168.2L447.3 166.1L448.6 165.1L447.9 162.0L451.4 161.0L451.9 159.5L453.3 157.4Z"/>
<path id="C-UKR" d="M448.0 168.2L450.5 167.1L454.0 167.9L456.7 168.2L460.3 168.7L461.0 166.6L466.0 165.9L468.1 168.9L469.8 171.2L473.4 172.3L477.1 173.0L476.5 174.8L476.5 177.6L473.7 179.4L471.6 187.4L462.8 187.4L458.8 184.3L456.1 183.5L457.4 181.2L459.5 181.2L457.9 178.4L457.7 177.4L454.9 175.8L453.3 176.4L450.3 177.9L446.8 177.1L445.4 176.1L446.3 174.3L448.9 170.0Z"/>
<path id="C-MDA" d="M453.3 176.4L454.9 175.8L457.7 177.4L457.9 178.4L459.5 181.2L457.4 181.2L456.1 183.5L455.9 179.9Z"/>
<path id="C-POL" d="M431.7 162.0L431.3 164.6L432.2 166.6L432.6 169.7L435.2 170.5L436.2 171.0L437.7 171.2L439.8 173.3L440.8 173.3L443.5 173.5L446.3 174.3L448.9 170.0L448.0 168.2L447.3 166.1L448.6 165.1L447.9 162.0L446.6 160.7L441.3 160.7L439.9 157.9L431.1 159.2Z"/>
<path id="C-DEU" d="M431.7 162.0L431.3 164.6L432.2 166.6L432.6 169.7L429.4 170.7L427.8 171.2L428.5 172.8L430.8 175.1L429.4 176.4L429.0 177.9L425.0 178.4L423.4 178.4L421.6 177.9L419.9 178.1L419.9 176.4L420.9 174.6L417.8 173.3L417.2 171.7L417.1 170.0L417.1 167.4L418.5 167.1L418.8 165.9L419.2 163.6L418.8 161.2L421.6 159.5L423.2 159.7L425.9 159.2L431.1 159.2Z"/>
<path id="C-DNK" d="M421.6 159.5L423.2 159.7L426.7 159.2L426.7 151.5L419.7 151.5L419.7 159.2Z"/>
<path id="C-NLD" d="M412.5 168.4L413.9 168.4L415.3 168.4L416.7 168.9L417.1 170.0L417.1 167.4L418.5 167.1L418.8 165.9L419.2 163.6L418.8 161.8L413.6 161.8L411.8 166.9Z"/>
<path id="C-BEL" d="M410.9 169.2L412.1 170.2L413.9 172.0L415.0 171.7L416.7 173.3L417.8 173.3L417.2 171.7L417.1 170.0L416.7 168.9L415.3 168.4L413.9 168.4L412.5 168.4L410.9 167.6Z"/>
<path id="C-FRA" d="M410.9 169.2L412.1 170.2L413.9 172.0L415.0 171.7L416.7 173.3L417.8 173.3L420.9 174.6L419.9 176.4L419.9 178.1L418.8 178.7L417.2 181.7L418.8 182.5L418.1 184.5L418.8 186.8L419.7 187.9L419.7 192.5L412.1 191.5L409.5 191.2L407.8 190.7L404.1 189.9L403.4 188.9L401.2 186.1L396.0 175.8L403.0 169.4L410.0 167.6Z"/>
<path id="C-CHE" d="M417.2 181.7L418.8 182.5L420.4 182.2L421.5 181.7L422.4 182.8L422.9 181.2L424.8 181.0L425.0 179.9L423.4 179.4L423.4 178.4L421.6 177.9L419.9 178.1L418.8 178.7Z"/>
<path id="C-AUT" d="M423.4 178.4L423.4 179.4L425.0 179.9L428.3 180.4L430.6 181.0L432.9 180.7L434.7 180.2L434.8 179.9L435.5 178.4L436.6 177.1L436.2 175.6L432.9 174.6L430.8 175.1L429.4 176.4L429.0 177.9L425.0 178.4Z"/>
<path id="C-CZE" d="M432.6 169.7L429.4 170.7L427.8 171.2L428.5 172.8L430.8 175.1L432.9 174.6L436.2 175.6L438.5 173.8L439.8 173.3L437.7 171.2L436.2 171.0L435.2 170.5Z"/>
<path id="C-SVK" d="M436.2 175.6L436.6 177.1L439.6 177.6L441.5 176.6L442.6 175.8L445.4 176.1L446.3 174.3L443.5 173.5L440.8 173.3L439.8 173.3L438.5 173.8Z"/>
<path id="C-HUN" d="M434.8 179.9L435.5 178.4L436.6 177.1L439.6 177.6L441.5 176.6L442.6 175.8L445.4 176.1L446.8 177.1L443.8 181.2L442.2 182.0L439.8 182.5L437.5 182.5L435.7 181.0L435.4 181.0Z"/>
<path id="C-ESP" d="M403.4 188.9L404.1 189.9L407.8 190.7L409.5 191.2L412.1 191.5L414.4 192.5L408.3 205.3L397.7 209.1L393.3 206.6L393.3 204.8L393.7 202.2L394.2 200.4L393.3 198.6L394.2 198.4L394.4 195.0L395.6 193.5L394.9 192.7L392.1 192.2L390.9 192.7L388.1 192.5L388.9 186.1L403.0 186.1Z"/>
<path id="C-PRT" d="M390.9 192.7L392.1 192.2L394.9 192.7L395.6 193.5L394.4 195.0L394.2 198.4L393.3 198.6L394.2 200.4L393.7 202.2L393.3 204.8L393.3 206.6L388.1 206.6L388.1 192.5Z"/>
<path id="C-ITA" d="M418.8 182.5L420.4 182.2L421.5 181.7L422.4 182.8L422.9 181.2L424.8 181.0L425.0 179.9L428.3 180.4L430.6 181.0L430.6 183.3L429.4 184.8L431.1 187.4L440.8 196.3L439.1 201.4L432.9 205.3L418.8 189.9L419.7 187.9L418.8 186.8L418.1 184.5Z"/>
<path id="C-SVN" d="M430.6 181.0L432.9 180.7L434.7 180.2L434.8 179.9L435.4 181.0L434.1 181.7L433.4 183.5L430.4 183.5L430.6 183.3Z"/>
<path id="C-HRV" d="M430.4 183.5L433.4 183.5L434.1 181.7L435.4 181.0L435.7 181.0L437.5 182.5L439.8 182.5L440.1 184.8L439.9 185.1L436.2 184.3L434.3 184.3L435.0 186.8L437.5 189.9L439.1 190.9L439.1 191.5L436.4 192.0L429.4 186.1Z"/>
<path id="C-BIH" d="M434.3 184.3L436.2 184.3L439.9 185.1L440.6 186.8L441.0 189.4L439.1 190.9L437.5 189.9L435.0 186.8Z"/>
<path id="C-SRB" d="M442.2 182.0L439.8 182.5L440.1 184.8L439.9 185.1L440.6 186.8L441.0 189.4L442.2 190.4L441.9 190.9L442.8 192.7L444.5 192.0L445.9 191.7L446.8 189.4L445.9 187.4L446.4 186.1L445.6 186.1L444.2 185.3L444.3 184.3L443.1 183.0Z"/>
<path id="C-MNE" d="M439.1 191.5L440.5 192.0L440.6 192.7L441.9 190.9L442.2 190.4L441.0 189.4L439.1 190.9Z"/>
<path id="C-ALB" d="M440.6 192.7L440.5 192.0L441.9 190.9L442.8 192.7L442.6 194.5L443.3 195.3L442.1 198.4L441.7 198.4L439.9 197.6L439.9 192.5Z"/>
<path id="C-MKD" d="M442.8 192.7L444.5 192.0L445.9 191.7L447.0 194.3L443.3 195.3L442.6 194.5Z"/>
<path id="C-GRC" d="M441.7 198.4L442.1 198.4L443.3 195.3L447.0 194.3L449.6 193.8L452.3 194.3L453.0 193.2L452.8 195.3L452.3 195.8L450.5 200.2L449.6 207.8L443.5 207.8L440.8 200.2Z"/>
<path id="C-BGR" d="M446.4 186.8L447.0 187.9L451.4 188.1L454.0 187.1L456.8 188.1L457.5 189.9L455.8 192.5L454.9 192.5L453.0 193.2L452.3 194.3L449.6 193.8L447.0 194.3L445.9 191.7L446.8 189.4L445.9 187.4L446.4 186.1Z"/>
<path id="C-ROU" d="M446.8 177.1L450.3 177.9L453.3 176.4L455.9 179.9L456.1 183.5L458.8 184.3L459.3 186.1L456.8 188.1L454.0 187.1L451.4 188.1L447.0 187.9L446.4 186.8L446.4 186.1L445.6 186.1L444.2 185.3L444.3 184.3L443.1 183.0L442.2 182.0L443.8 181.2Z"/>
<path id="C-TUR" d="M453.0 193.2L454.9 192.5L455.8 192.5L458.4 193.5L466.3 191.2L473.4 193.8L479.5 193.8L483.0 194.8L483.4 197.3L485.3 198.4L483.9 199.1L484.8 201.7L485.3 204.8L481.1 205.0L476.9 205.8L473.4 205.8L470.9 205.8L471.1 207.3L469.8 208.1L469.0 207.8L464.6 209.1L455.8 208.4L451.4 201.4L452.3 195.8L452.8 195.3Z"/>
<path id="C-GEO" d="M476.9 188.9L480.4 189.4L483.7 190.9L488.1 192.7L488.5 194.8L485.7 194.3L483.0 194.8L479.5 193.8L477.8 192.5Z"/>
<path id="C-ARM" d="M483.0 194.8L485.7 194.3L488.3 198.6L488.3 200.4L487.3 199.4L485.3 198.4L483.4 197.3Z"/>
<path id="C-AZE" d="M488.1 192.7L489.7 194.3L490.6 194.5L492.0 193.0L494.5 192.5L496.2 198.9L492.5 201.7L491.0 200.7L491.0 198.4L488.3 200.4L488.3 198.6L485.7 194.3L488.5 194.8Z"/>
<path id="C-SYR" d="M469.8 208.1L471.1 207.3L470.9 205.8L473.4 205.8L476.9 205.8L481.1 205.0L479.0 210.9L474.8 214.5L471.3 217.3L469.5 216.3L469.5 214.8L470.9 212.4L469.7 211.4L469.0 209.6Z"/>
<path id="C-LBN" d="M468.3 215.3L469.5 214.8L470.9 212.4L469.7 211.4L468.1 212.2Z"/>
<path id="C-ISR" d="M466.7 219.9L467.9 224.5L468.1 224.5L469.0 219.4L469.1 216.3L469.5 214.8L468.3 215.3L466.3 216.8Z"/>
<path id="C-JOR" d="M468.1 224.5L467.9 225.0L469.8 225.2L472.5 223.2L471.6 219.4L475.5 217.8L474.8 214.5L471.3 217.3L469.5 216.3L469.1 216.3L469.0 219.4Z"/>
<path id="C-IRQ" d="M474.8 214.5L475.5 217.8L477.6 218.3L480.4 220.4L485.1 225.2L488.3 225.5L489.2 223.5L490.8 223.2L492.0 223.2L491.0 221.9L490.4 220.6L490.6 217.1L487.6 215.5L486.4 213.0L487.3 209.1L486.4 207.8L485.3 204.8L481.1 205.0L479.0 210.9Z"/>
<path id="C-KWT" d="M488.3 225.5L489.2 223.5L490.8 223.2L492.0 224.5L491.7 227.0L490.4 227.0L490.1 225.8Z"/>
<path id="C-SAU" d="M467.9 225.0L469.8 225.2L472.5 223.2L471.6 219.4L475.5 217.8L477.6 218.3L480.4 220.4L485.1 225.2L488.3 225.5L490.1 225.8L490.4 227.0L491.7 227.0L493.6 227.0L496.2 233.4L495.9 236.8L496.8 237.3L497.3 238.0L497.3 241.1L499.0 241.4L503.4 242.1L503.6 241.9L504.5 243.7L503.3 248.8L498.0 251.4L492.7 252.4L491.3 253.4L489.2 256.5L484.6 255.5L482.9 255.2L481.8 258.0L478.6 259.0L464.6 228.3Z"/>
<path id="C-QAT" d="M495.9 236.8L496.8 237.3L498.0 236.0L497.1 232.2L495.3 233.4Z"/>
<path id="C-ARE" d="M497.3 238.0L497.3 241.1L499.0 241.4L503.4 242.1L503.6 241.9L504.7 238.0L505.0 236.3L505.7 236.3L506.1 231.9L501.5 233.4L497.1 236.5Z"/>
<path id="C-OMN" d="M503.6 241.9L504.5 243.7L503.3 248.8L498.0 251.4L499.9 257.5L501.5 260.3L513.8 243.7L507.7 236.0L505.7 236.3L505.0 236.3L504.7 238.0Z"/>
<path id="C-YEM" d="M481.8 258.0L482.9 255.2L484.6 255.5L489.2 256.5L491.3 253.4L492.7 252.4L498.0 251.4L499.9 257.5L499.7 261.6L485.7 270.6L480.4 266.7Z"/>
<path id="C-IRN" d="M485.3 198.4L485.7 199.1L488.3 200.4L491.0 198.4L491.0 200.7L492.5 201.7L493.6 205.3L498.0 207.1L501.5 205.8L501.3 204.5L502.9 204.3L505.0 202.5L507.1 202.2L510.8 204.0L514.2 206.3L514.2 208.9L513.1 212.2L512.9 213.7L513.6 219.4L515.2 219.6L513.6 223.7L515.2 226.8L517.0 227.8L517.0 230.4L517.9 231.9L514.9 235.5L514.7 237.3L505.0 234.7L499.7 234.0L492.7 224.5L492.0 223.2L491.0 221.9L490.4 220.6L490.6 217.1L487.6 215.5L486.4 213.0L487.3 209.1L486.4 207.8L485.3 204.8L484.8 201.7L483.9 199.1Z"/>
<path id="C-TKM" d="M498.7 193.0L501.5 191.7L504.0 194.3L505.0 194.3L506.8 194.3L509.6 190.7L512.1 192.0L512.2 194.0L515.6 197.6L519.4 200.4L523.5 204.3L520.5 205.0L520.0 207.1L517.5 208.4L516.1 209.6L514.2 208.9L514.2 206.3L510.8 204.0L507.1 202.2L505.0 202.5L502.9 204.3L501.3 204.5L498.9 202.7L498.0 195.0Z"/>
<path id="C-UZB" d="M505.0 194.3L505.0 184.8L509.6 183.3L513.8 186.6L515.6 188.6L520.9 188.1L522.8 189.9L522.6 192.5L523.5 192.7L526.1 195.0L527.9 194.0L530.5 192.2L531.4 191.7L530.5 193.8L532.8 193.8L534.9 195.6L532.6 197.3L530.5 196.8L528.4 195.8L525.6 198.6L526.8 202.2L525.8 204.8L523.5 204.3L519.4 200.4L515.6 197.6L512.2 194.0L512.1 192.0L509.6 190.7L506.8 194.3Z"/>
<path id="C-KAZ" d="M491.8 180.7L489.2 177.1L488.3 176.1L489.2 172.3L491.8 172.3L492.4 170.5L495.9 167.6L498.9 168.2L502.4 169.4L504.5 170.5L509.4 169.2L514.7 170.0L512.1 167.1L514.7 163.0L513.8 161.8L520.9 160.7L526.5 159.2L531.1 158.4L531.8 161.2L535.8 161.8L541.6 160.7L547.2 170.0L553.2 169.4L556.6 173.0L560.1 174.3L557.4 176.1L557.3 179.4L552.5 179.2L551.3 183.5L547.1 185.1L547.9 189.9L547.6 192.0L545.5 190.4L539.7 190.4L537.2 189.4L535.8 189.9L531.4 191.7L530.5 192.2L527.9 194.0L526.1 195.0L523.5 192.7L522.6 192.5L522.8 189.9L520.9 188.1L515.6 188.6L513.8 186.6L509.6 183.3L505.0 184.8L505.0 194.3L504.0 194.3L501.5 191.7L498.7 193.0L494.5 189.9L494.5 184.8Z"/>
<path id="C-KGZ" d="M531.4 191.7L535.8 189.9L537.2 189.4L539.7 190.4L545.5 190.4L547.6 192.0L543.7 194.8L541.8 195.0L539.9 196.6L536.3 198.1L536.0 199.1L532.8 199.1L528.8 198.6L529.6 197.1L532.6 197.3L534.9 195.6L532.8 193.8L530.5 193.8Z"/>
<path id="C-TJK" d="M525.8 204.8L526.8 202.2L525.6 198.6L528.4 195.8L530.5 196.8L529.6 197.1L528.8 198.6L532.8 199.1L536.0 199.1L538.3 201.4L538.3 204.8L535.8 204.3L532.5 205.3L531.9 202.0L530.5 202.2L530.0 203.7L528.4 205.0Z"/>
<path id="C-AFG" d="M513.6 223.7L515.2 219.6L513.6 219.4L512.9 213.7L513.1 212.2L514.2 208.9L516.1 209.6L517.5 208.4L520.0 207.1L520.5 205.0L523.5 204.3L525.8 204.8L528.4 205.0L530.0 203.7L530.5 202.2L531.9 202.0L532.5 205.3L535.8 204.3L538.3 204.8L536.7 205.8L534.0 207.1L531.8 207.6L532.5 210.4L531.4 211.7L529.6 213.0L529.5 215.3L528.4 218.1L523.8 220.1L523.1 223.5L519.1 224.5L516.5 224.7Z"/>
<path id="C-PAK" d="M514.9 235.5L517.9 231.9L517.0 230.4L517.0 227.8L515.2 226.8L513.6 223.7L516.5 224.7L519.1 224.5L523.1 223.5L523.8 220.1L528.4 218.1L529.5 215.3L529.6 213.0L531.4 211.7L532.5 210.4L531.8 207.6L534.0 207.1L536.7 205.8L538.3 204.8L538.4 205.3L540.2 207.3L543.4 209.1L540.2 210.4L536.3 211.9L537.2 215.5L539.1 217.3L537.7 218.1L537.6 220.4L536.5 223.2L534.9 225.2L533.0 228.3L530.4 228.3L528.8 230.9L530.2 232.2L529.8 234.2L531.4 237.5L527.5 237.8L526.5 239.3L522.6 239.8L514.7 237.3Z"/>
<path id="C-IND" d="M526.5 239.3L527.5 237.8L531.4 237.5L529.8 234.2L530.2 232.2L528.8 230.9L530.4 228.3L533.0 228.3L534.9 225.2L536.5 223.2L537.6 220.4L537.7 218.1L539.1 217.3L537.2 215.5L536.3 211.9L540.2 210.4L543.4 209.1L545.5 212.2L544.6 216.8L545.5 220.4L549.0 222.7L547.4 226.3L553.0 229.9L556.0 231.6L561.5 232.4L561.5 228.6L562.7 228.3L562.9 230.1L564.7 231.6L568.5 231.1L567.6 228.8L571.0 226.5L574.5 225.2L577.7 227.6L575.7 230.1L574.0 232.9L572.9 235.5L571.9 238.8L570.6 238.6L570.8 243.2L569.4 243.9L568.2 239.8L566.9 240.9L566.9 238.6L569.1 236.0L564.5 235.2L564.5 233.4L562.2 232.4L561.5 234.0L561.5 237.3L562.9 240.6L563.1 244.2L561.3 248.8L548.1 269.3L546.4 275.7L542.8 282.1L533.2 248.8L522.6 242.4Z"/>
<path id="C-NPL" d="M549.0 222.7L547.4 226.3L553.0 229.9L556.0 231.6L561.5 232.4L561.5 228.6L557.8 228.3L554.3 225.2L550.8 222.4Z"/>
<path id="C-BTN" d="M562.9 230.1L564.5 227.8L567.6 228.8L568.5 231.1L564.7 231.6Z"/>
<path id="C-BGD" d="M563.1 244.2L562.9 240.6L561.5 237.3L561.5 234.0L562.2 232.4L564.5 233.4L564.5 235.2L569.1 236.0L566.9 238.6L566.9 240.9L568.2 239.8L569.4 243.9L568.9 246.8L566.6 247.5L563.1 246.2Z"/>
<path id="C-MMR" d="M568.9 246.8L569.4 243.9L570.8 243.2L570.6 238.6L571.9 238.8L572.9 235.5L574.0 232.9L575.7 230.1L577.7 227.6L580.1 229.3L580.1 233.7L578.2 237.5L578.6 238.8L580.5 240.6L581.0 243.2L582.6 245.0L584.5 245.7L582.6 247.8L578.9 249.6L578.4 252.6L580.0 258.5L579.3 261.3L581.0 267.2L581.7 269.8L580.1 273.9L580.0 274.4L577.1 275.7L570.1 261.6L567.5 248.8Z"/>
<path id="C-THA" d="M582.6 247.8L583.3 250.1L584.5 250.1L584.4 255.2L586.1 253.4L588.2 252.9L590.7 255.5L592.3 260.1L592.1 263.1L591.6 263.4L587.7 263.6L586.6 265.2L587.5 270.0L586.8 271.8L584.2 269.3L585.1 279.5L586.8 282.6L586.1 284.1L584.4 285.4L582.6 283.6L581.5 284.6L578.0 279.5L580.0 274.4L580.1 273.9L581.7 269.8L581.0 267.2L579.3 261.3L580.0 258.5L578.4 252.6L578.9 249.6Z"/>
<path id="C-LAO" d="M582.6 247.8L584.5 245.7L585.6 245.7L586.1 242.7L587.7 246.2L590.3 247.8L589.5 250.3L591.6 252.4L594.0 257.5L595.6 261.1L595.8 262.4L593.0 264.4L592.1 263.1L592.3 260.1L590.7 255.5L588.2 252.9L586.1 253.4L584.4 255.2L584.5 250.1L583.3 250.1Z"/>
<path id="C-VNM" d="M586.1 242.7L589.3 242.4L591.7 240.4L594.2 241.6L594.2 243.7L596.5 245.0L598.3 248.8L600.9 264.2L598.3 277.0L589.5 279.5L590.2 273.4L591.2 272.1L593.0 271.8L593.0 270.0L595.8 268.5L595.8 262.4L595.6 261.1L594.0 257.5L591.6 252.4L589.5 250.3L590.3 247.8L587.7 246.2Z"/>
<path id="C-KHM" d="M587.5 270.0L586.6 265.2L587.7 263.6L591.6 263.4L592.1 263.1L593.0 264.4L595.8 262.4L595.8 268.5L593.0 270.0L593.0 271.8L591.2 272.1L590.2 273.4L588.6 274.4L586.8 271.8Z"/>
<path id="C-MYS" d="M582.6 283.6L584.4 285.4L586.1 284.1L587.7 283.4L591.2 294.9L590.0 296.9L587.7 297.4L582.4 292.3L581.5 284.6Z"/>
<path id="C-PRK" d="M625.3 197.6L628.2 195.0L629.7 193.0L631.7 192.5L634.7 191.5L636.2 191.5L636.4 191.7L636.9 193.8L632.6 200.9L632.4 201.2L629.4 203.2L626.4 204.0L624.6 198.9Z"/>
<path id="C-KOR" d="M629.4 203.2L632.4 201.2L635.2 202.7L635.2 211.7L628.2 213.5L627.3 205.3Z"/>
<path id="C-MNG" d="M561.0 174.0L564.3 172.3L568.9 170.0L572.4 170.7L577.7 172.5L579.4 167.6L582.2 166.9L586.3 168.7L586.5 170.5L593.0 171.2L597.4 173.8L601.2 174.0L605.3 173.0L608.8 171.5L611.8 172.5L609.7 176.9L615.0 177.4L617.4 180.4L613.0 181.2L606.3 185.6L603.4 188.1L601.8 189.2L598.8 191.5L591.2 193.5L583.8 190.7L576.1 190.7L574.3 186.6L571.0 184.8L566.4 184.3L565.9 178.9L561.3 175.6Z"/>
<path id="C-CHN" d="M560.1 174.3L561.0 174.0L561.3 175.6L565.9 178.9L566.4 184.3L571.0 184.8L574.3 186.6L576.1 190.7L583.8 190.7L591.2 193.5L598.8 191.5L601.8 189.2L603.4 188.1L606.3 185.6L613.0 181.2L617.4 180.4L615.0 177.4L609.7 176.9L611.8 172.5L613.7 173.3L616.2 171.0L617.6 165.3L619.2 163.6L623.8 163.0L628.2 165.3L630.8 172.5L636.4 174.8L639.6 177.9L644.0 176.1L643.5 176.4L640.6 184.5L637.5 185.1L637.3 188.6L636.2 191.5L634.7 191.5L631.7 192.5L629.7 193.0L628.2 195.0L625.3 197.6L622.9 202.7L626.4 223.2L617.6 243.7L600.0 256.5L596.5 245.0L594.2 243.7L594.2 241.6L591.7 240.4L589.3 242.4L586.1 242.7L585.6 245.7L584.5 245.7L582.6 245.0L581.0 243.2L580.5 240.6L578.6 238.8L578.2 237.5L580.1 233.7L580.1 229.3L577.7 227.6L574.5 225.2L571.0 226.5L567.6 228.8L564.5 227.8L562.9 230.1L562.7 228.3L561.5 228.6L557.8 228.3L554.3 225.2L550.8 222.4L549.0 222.7L545.5 220.4L544.6 216.8L545.5 212.2L543.4 209.1L540.2 207.3L538.4 205.3L538.3 204.8L538.3 201.4L536.0 199.1L536.3 198.1L539.9 196.6L541.8 195.0L543.7 194.8L547.6 192.0L547.9 189.9L547.1 185.1L551.3 183.5L552.5 179.2L557.3 179.4L557.4 176.1Z"/>
<path id="C-MYS2" d="M599.3 293.6L599.3 297.2L600.9 297.7L603.2 297.4L604.4 296.2L606.9 296.4L608.5 294.9L609.2 292.6L609.9 290.3L610.4 289.0L612.9 289.0L613.6 289.5L617.6 289.8L617.6 279.5L600.0 279.5L598.3 292.3Z"/>
<path id="C-BRN" d="M607.2 288.2L608.5 289.8L609.5 288.7L609.2 286.7L607.9 286.7Z"/>
<path id="C-PNG" d="M654.5 305.1L654.5 325.6L673.9 330.7L673.9 305.1Z"/>
<path id="C-HTI" d="M274.6 255.2L280.4 254.7L280.2 252.4L280.4 251.1L280.4 247.5L274.6 247.5Z"/>
<path id="C-TLS" d="M626.4 325.6L626.4 320.5L631.7 320.5L631.7 325.6Z"/>
<path id="C-NIR" d="M392.1 160.5L393.5 161.5L395.4 161.5L397.7 161.8L397.7 157.9L393.7 157.9L393.3 159.7Z"/>
<path id="DOTS" d="M126.2 290.3l0.8 -0.85l0.8 0.85l-0.8 0.85zM129.7 295.4l0.8 -0.85l0.8 0.85l-0.8 0.85zM104.8 307.9l0.8 -0.85l0.8 0.85l-0.8 0.85zM99.3 312.5l0.8 -0.85l0.8 0.85l-0.8 0.85zM102.1 312.3l0.8 -0.85l0.8 0.85l-0.8 0.85zM134.0 311.0l0.8 -0.85l0.8 0.85l-0.8 0.85zM133.1 314.8l0.8 -0.85l0.8 0.85l-0.8 0.85zM103.5 322.0l0.8 -0.85l0.8 0.85l-0.8 0.85zM104.9 323.8l0.8 -0.85l0.8 0.85l-0.8 0.85zM139.6 330.0l0.8 -0.85l0.8 0.85l-0.8 0.85zM102.6 335.1l0.8 -0.85l0.8 0.85l-0.8 0.85zM104.9 336.4l0.8 -0.85l0.8 0.85l-0.8 0.85zM91.7 344.0l0.8 -0.85l0.8 0.85l-0.8 0.85zM90.5 347.4l0.8 -0.85l0.8 0.85l-0.8 0.85zM91.9 350.2l0.8 -0.85l0.8 0.85l-0.8 0.85zM99.8 347.9l0.8 -0.85l0.8 0.85l-0.8 0.85zM107.4 349.2l0.8 -0.85l0.8 0.85l-0.8 0.85zM97.9 354.5l0.8 -0.85l0.8 0.85l-0.8 0.85zM125.0 354.8l0.8 -0.85l0.8 0.85l-0.8 0.85zM213.5 369.9l0.8 -0.85l0.8 0.85l-0.8 0.85zM95.6 413.2l0.8 -0.85l0.8 0.85l-0.8 0.85zM210.8 251.9l0.8 -0.85l0.8 0.85l-0.8 0.85zM267.3 386.5l0.8 -0.85l0.8 0.85l-0.8 0.85zM395.7 341.2l0.8 -0.85l0.8 0.85l-0.8 0.85zM417.3 299.2l0.8 -0.85l0.8 0.85l-0.8 0.85zM418.7 295.9l0.8 -0.85l0.8 0.85l-0.8 0.85zM482.2 330.2l0.8 -0.85l0.8 0.85l-0.8 0.85zM483.8 331.5l0.8 -0.85l0.8 0.85l-0.8 0.85zM503.3 312.0l0.8 -0.85l0.8 0.85l-0.8 0.85zM507.0 352.0l0.8 -0.85l0.8 0.85l-0.8 0.85zM503.5 354.3l0.8 -0.85l0.8 0.85l-0.8 0.85zM533.6 271.3l0.8 -0.85l0.8 0.85l-0.8 0.85zM534.1 278.8l0.8 -0.85l0.8 0.85l-0.8 0.85zM534.8 289.2l0.8 -0.85l0.8 0.85l-0.8 0.85zM534.5 299.2l0.8 -0.85l0.8 0.85l-0.8 0.85zM569.0 267.2l0.8 -0.85l0.8 0.85l-0.8 0.85zM568.8 270.3l0.8 -0.85l0.8 0.85l-0.8 0.85zM568.6 272.6l0.8 -0.85l0.8 0.85l-0.8 0.85zM570.4 279.5l0.8 -0.85l0.8 0.85l-0.8 0.85zM570.9 282.1l0.8 -0.85l0.8 0.85l-0.8 0.85zM697.4 158.7l0.8 -0.85l0.8 0.85l-0.8 0.85zM709.7 164.6l0.8 -0.85l0.8 0.85l-0.8 0.85zM717.9 166.9l0.8 -0.85l0.8 0.85l-0.8 0.85zM679.2 171.2l0.8 -0.85l0.8 0.85l-0.8 0.85zM674.8 175.8l0.8 -0.85l0.8 0.85l-0.8 0.85zM670.4 180.4l0.8 -0.85l0.8 0.85l-0.8 0.85zM666.1 184.0l0.8 -0.85l0.8 0.85l-0.8 0.85zM662.5 186.3l0.8 -0.85l0.8 0.85l-0.8 0.85zM634.6 222.7l0.8 -0.85l0.8 0.85l-0.8 0.85zM633.5 227.6l0.8 -0.85l0.8 0.85l-0.8 0.85zM630.9 231.9l0.8 -0.85l0.8 0.85l-0.8 0.85zM624.4 237.3l0.8 -0.85l0.8 0.85l-0.8 0.85zM626.3 236.5l0.8 -0.85l0.8 0.85l-0.8 0.85zM655.1 231.4l0.8 -0.85l0.8 0.85l-0.8 0.85zM655.8 229.6l0.8 -0.85l0.8 0.85l-0.8 0.85zM662.0 252.6l0.8 -0.85l0.8 0.85l-0.8 0.85zM662.2 257.8l0.8 -0.85l0.8 0.85l-0.8 0.85zM662.0 261.3l0.8 -0.85l0.8 0.85l-0.8 0.85zM660.4 265.4l0.8 -0.85l0.8 0.85l-0.8 0.85zM642.3 280.8l0.8 -0.85l0.8 0.85l-0.8 0.85zM648.6 275.7l0.8 -0.85l0.8 0.85l-0.8 0.85zM672.7 281.1l0.8 -0.85l0.8 0.85l-0.8 0.85zM684.0 282.3l0.8 -0.85l0.8 0.85l-0.8 0.85zM692.4 286.4l0.8 -0.85l0.8 0.85l-0.8 0.85zM698.4 271.3l0.8 -0.85l0.8 0.85l-0.8 0.85zM700.4 276.4l0.8 -0.85l0.8 0.85l-0.8 0.85zM703.3 282.6l0.8 -0.85l0.8 0.85l-0.8 0.85zM706.9 281.8l0.8 -0.85l0.8 0.85l-0.8 0.85zM709.9 294.1l0.8 -0.85l0.8 0.85l-0.8 0.85zM710.0 296.4l0.8 -0.85l0.8 0.85l-0.8 0.85zM699.3 301.3l0.8 -0.85l0.8 0.85l-0.8 0.85zM712.5 302.0l0.8 -0.85l0.8 0.85l-0.8 0.85zM716.2 332.3l0.8 -0.85l0.8 0.85l-0.8 0.85zM720.6 321.8l0.8 -0.85l0.8 0.85l-0.8 0.85zM720.1 319.2l0.8 -0.85l0.8 0.85l-0.8 0.85zM697.5 429.8l0.8 -0.85l0.8 0.85l-0.8 0.85zM703.2 434.7l0.8 -0.85l0.8 0.85l-0.8 0.85zM685.0 439.8l0.8 -0.85l0.8 0.85l-0.8 0.85zM361.4 256.7l0.8 -0.85l0.8 0.85l-0.8 0.85zM364.0 261.1l0.8 -0.85l0.8 0.85l-0.8 0.85zM363.2 261.9l0.8 -0.85l0.8 0.85l-0.8 0.85zM378.3 228.3l0.8 -0.85l0.8 0.85l-0.8 0.85zM376.5 227.6l0.8 -0.85l0.8 0.85l-0.8 0.85zM381.4 226.3l0.8 -0.85l0.8 0.85l-0.8 0.85zM374.2 226.5l0.8 -0.85l0.8 0.85l-0.8 0.85zM375.8 216.3l0.8 -0.85l0.8 0.85l-0.8 0.85zM360.9 203.2l0.8 -0.85l0.8 0.85l-0.8 0.85zM356.1 201.4l0.8 -0.85l0.8 0.85l-0.8 0.85zM357.9 200.9l0.8 -0.85l0.8 0.85l-0.8 0.85zM291.7 217.3l0.8 -0.85l0.8 0.85l-0.8 0.85zM297.7 260.6l0.8 -0.85l0.8 0.85l-0.8 0.85zM298.4 262.6l0.8 -0.85l0.8 0.85l-0.8 0.85zM298.1 266.2l0.8 -0.85l0.8 0.85l-0.8 0.85zM300.9 266.2l0.8 -0.85l0.8 0.85l-0.8 0.85zM297.2 269.0l0.8 -0.85l0.8 0.85l-0.8 0.85zM297.5 258.5l0.8 -0.85l0.8 0.85l-0.8 0.85zM295.4 255.7l0.8 -0.85l0.8 0.85l-0.8 0.85zM297.0 256.2l0.8 -0.85l0.8 0.85l-0.8 0.85zM294.9 253.7l0.8 -0.85l0.8 0.85l-0.8 0.85zM291.9 253.2l0.8 -0.85l0.8 0.85l-0.8 0.85zM284.3 268.8l0.8 -0.85l0.8 0.85l-0.8 0.85zM285.6 268.8l0.8 -0.85l0.8 0.85l-0.8 0.85zM282.6 268.0l0.8 -0.85l0.8 0.85l-0.8 0.85zM269.6 236.0l0.8 -0.85l0.8 0.85l-0.8 0.85zM271.7 237.8l0.8 -0.85l0.8 0.85l-0.8 0.85zM272.9 239.6l0.8 -0.85l0.8 0.85l-0.8 0.85zM274.0 241.1l0.8 -0.85l0.8 0.85l-0.8 0.85zM275.9 242.4l0.8 -0.85l0.8 0.85l-0.8 0.85zM277.3 245.5l0.8 -0.85l0.8 0.85l-0.8 0.85zM279.4 244.4l0.8 -0.85l0.8 0.85l-0.8 0.85zM268.7 237.3l0.8 -0.85l0.8 0.85l-0.8 0.85zM271.0 235.2l0.8 -0.85l0.8 0.85l-0.8 0.85zM262.7 250.6l0.8 -0.85l0.8 0.85l-0.8 0.85zM265.4 249.6l0.8 -0.85l0.8 0.85l-0.8 0.85zM340.6 439.0l0.8 -0.85l0.8 0.85l-0.8 0.85zM341.5 439.3l0.8 -0.85l0.8 0.85l-0.8 0.85zM528.0 426.2l0.8 -0.85l0.8 0.85l-0.8 0.85zM542.0 397.3l0.8 -0.85l0.8 0.85l-0.8 0.85zM384.1 395.0l0.8 -0.85l0.8 0.85l-0.8 0.85zM380.4 320.2l0.8 -0.85l0.8 0.85l-0.8 0.85zM354.2 352.5l0.8 -0.85l0.8 0.85l-0.8 0.85zM348.7 309.7l0.8 -0.85l0.8 0.85l-0.8 0.85zM431.2 208.1l0.8 -0.85l0.8 0.85l-0.8 0.85zM408.2 200.2l0.8 -0.85l0.8 0.85l-0.8 0.85zM411.0 198.6l0.8 -0.85l0.8 0.85l-0.8 0.85zM410.8 198.1l0.8 -0.85l0.8 0.85l-0.8 0.85zM412.8 197.6l0.8 -0.85l0.8 0.85l-0.8 0.85zM440.5 145.9l0.8 -0.85l0.8 0.85l-0.8 0.85zM393.6 141.3l0.8 -0.85l0.8 0.85l-0.8 0.85zM393.4 142.3l0.8 -0.85l0.8 0.85l-0.8 0.85zM403.4 145.6l0.8 -0.85l0.8 0.85l-0.8 0.85zM400.4 149.0l0.8 -0.85l0.8 0.85l-0.8 0.85zM394.3 151.5l0.8 -0.85l0.8 0.85l-0.8 0.85zM392.9 153.3l0.8 -0.85l0.8 0.85l-0.8 0.85zM394.8 153.3l0.8 -0.85l0.8 0.85l-0.8 0.85zM395.2 155.4l0.8 -0.85l0.8 0.85l-0.8 0.85zM394.8 157.2l0.8 -0.85l0.8 0.85l-0.8 0.85zM397.8 161.2l0.8 -0.85l0.8 0.85l-0.8 0.85zM445.6 149.2l0.8 -0.85l0.8 0.85l-0.8 0.85zM432.1 158.9l0.8 -0.85l0.8 0.85l-0.8 0.85zM435.1 154.3l0.8 -0.85l0.8 0.85l-0.8 0.85zM449.0 203.0l0.8 -0.85l0.8 0.85l-0.8 0.85zM450.4 205.3l0.8 -0.85l0.8 0.85l-0.8 0.85zM450.0 206.0l0.8 -0.85l0.8 0.85l-0.8 0.85zM451.5 201.7l0.8 -0.85l0.8 0.85l-0.8 0.85zM452.0 199.6l0.8 -0.85l0.8 0.85l-0.8 0.85zM450.0 197.9l0.8 -0.85l0.8 0.85l-0.8 0.85zM453.2 203.5l0.8 -0.85l0.8 0.85l-0.8 0.85zM455.0 207.1l0.8 -0.85l0.8 0.85l-0.8 0.85zM453.6 205.8l0.8 -0.85l0.8 0.85l-0.8 0.85zM449.5 204.3l0.8 -0.85l0.8 0.85l-0.8 0.85zM446.9 201.4l0.8 -0.85l0.8 0.85l-0.8 0.85zM442.0 202.2l0.8 -0.85l0.8 0.85l-0.8 0.85zM440.7 198.6l0.8 -0.85l0.8 0.85l-0.8 0.85zM442.1 203.2l0.8 -0.85l0.8 0.85l-0.8 0.85zM448.8 200.4l0.8 -0.85l0.8 0.85l-0.8 0.85zM452.9 205.0l0.8 -0.85l0.8 0.85l-0.8 0.85zM453.4 209.1l0.8 -0.85l0.8 0.85l-0.8 0.85z"/>
</defs>
<g id="mapA"><text transform="translate(496.2,19.2) scale(1.115,1)" font-size="18" font-weight="bold" text-anchor="middle" fill="#000" >EAPC for the Incidence rate</text>
<text transform="translate(59.4,59.0) scale(1.100,1)" font-size="11.4" font-weight="normal" text-anchor="start" fill="#000" >EAPC for the Incidence rate</text>
<clipPath id="F-a"><rect x="59.2" y="67" width="713.4" height="395.1"/></clipPath>
<defs><g id="world-a" stroke="#000" stroke-linejoin="round">
<use href="#L-namerica" fill="#0b3652" stroke="none"/>
<g clip-path="url(#K-namerica)">
<use href="#C-USA" fill="#26c6da"/>
<use href="#C-ALASKA" fill="#26c6da"/>
<use href="#C-MEX" fill="#0b3652"/>
<use href="#C-GTM" fill="#0b3652"/>
<use href="#C-BLZ" fill="#e65100"/>
<use href="#C-SLV" fill="#80deea"/>
<use href="#C-HND" fill="#e65100"/>
<use href="#C-NIC" fill="#0d9bb0"/>
<use href="#C-CRI" fill="#0b3652"/>
<use href="#C-PAN" fill="#0b3652"/>
<use href="#C-COLtip" fill="#0b3652"/>
</g>
<use href="#L-samerica" fill="#b2ebf2" stroke="none"/>
<g clip-path="url(#K-samerica)">
<use href="#C-COL" fill="#0b3652"/>
<use href="#C-VEN" fill="#0d9bb0"/>
<use href="#C-GUY" fill="#f8bbd0"/>
<use href="#C-SUR" fill="#e0f7fa"/>
<use href="#C-GUF" fill="#fff"/>
<use href="#C-ECU" fill="#4dd0e1"/>
<use href="#C-PER" fill="#1779ba"/>
<use href="#C-BOL" fill="#4dd0e1"/>
<use href="#C-PRY" fill="#e65100"/>
<use href="#C-URY" fill="#4dd0e1"/>
<use href="#C-ARG" fill="#26c6da"/>
<use href="#C-CHL" fill="#4dd0e1"/>
</g>
<use href="#L-africa" fill="#b2ebf2" stroke="none"/>
<g clip-path="url(#K-africa)">
<use href="#C-MAR" fill="#ff9800"/>
<use href="#C-ESH" fill="#ff9800"/>
<use href="#C-MRT" fill="#ff9800"/>
<use href="#C-DZA" fill="#80deea"/>
<use href="#C-TUN" fill="#e0f7fa"/>
<use href="#C-LBY" fill="#e65100"/>
<use href="#C-EGY" fill="#e65100"/>
<use href="#C-MLI" fill="#f8bbd0"/>
<use href="#C-NER" fill="#ff9800"/>
<use href="#C-TCD" fill="#e65100"/>
<use href="#C-SDN" fill="#80deea"/>
<use href="#C-SSD" fill="#0d9bb0"/>
<use href="#C-ETH" fill="#1779ba"/>
<use href="#C-ERI" fill="#0d9bb0"/>
<use href="#C-DJI" fill="#80deea"/>
<use href="#C-SOM" fill="#80deea"/>
<use href="#C-KEN" fill="#ff9800"/>
<use href="#C-UGA" fill="#4dd0e1"/>
<use href="#C-RWA" fill="#4dd0e1"/>
<use href="#C-BDI" fill="#4dd0e1"/>
<use href="#C-TZA" fill="#26c6da"/>
<use href="#C-MOZ" fill="#ff9800"/>
<use href="#C-MWI" fill="#b2ebf2"/>
<use href="#C-ZMB" fill="#b2ebf2"/>
<use href="#C-ZWE" fill="#b2ebf2"/>
<use href="#C-AGO" fill="#4dd0e1"/>
<use href="#C-CABINDA" fill="#4dd0e1"/>
<use href="#C-NAM" fill="#e0f7fa"/>
<use href="#C-BWA" fill="#4dd0e1"/>
<use href="#C-ZAF" fill="#b2ebf2"/>
<use href="#C-LSO" fill="#b2ebf2"/>
<use href="#C-SWZ" fill="#b2ebf2"/>
<use href="#C-COG" fill="#0d9bb0"/>
<use href="#C-GAB" fill="#80deea"/>
<use href="#C-GNQ" fill="#80deea"/>
<use href="#C-CMR" fill="#e65100"/>
<use href="#C-CAF" fill="#4dd0e1"/>
<use href="#C-NGA" fill="#4dd0e1"/>
<use href="#C-BEN" fill="#ff9800"/>
<use href="#C-TGO" fill="#e65100"/>
<use href="#C-GHA" fill="#e65100"/>
<use href="#C-BFA" fill="#e65100"/>
<use href="#C-CIV" fill="#e0f7fa"/>
<use href="#C-LBR" fill="#ffd600"/>
<use href="#C-SLE" fill="#e65100"/>
<use href="#C-GIN" fill="#e65100"/>
<use href="#C-GNB" fill="#e65100"/>
<use href="#C-SEN" fill="#e65100"/>
<use href="#C-GMB" fill="#e65100"/>
</g>
<use href="#L-eurasia" fill="#1779ba" stroke="none"/>
<g clip-path="url(#K-eurasia)">
<use href="#C-NOR" fill="#0d9bb0"/>
<use href="#C-SWE" fill="#b2ebf2"/>
<use href="#C-FIN" fill="#80deea"/>
<use href="#C-EST" fill="#80deea"/>
<use href="#C-LVA" fill="#4dd0e1"/>
<use href="#C-LTU" fill="#4dd0e1"/>
<use href="#C-BLR" fill="#26c6da"/>
<use href="#C-UKR" fill="#1779ba"/>
<use href="#C-MDA" fill="#e0f7fa"/>
<use href="#C-POL" fill="#80deea"/>
<use href="#C-DEU" fill="#80deea"/>
<use href="#C-DNK" fill="#4dd0e1"/>
<use href="#C-NLD" fill="#0d9bb0"/>
<use href="#C-BEL" fill="#1779ba"/>
<use href="#C-FRA" fill="#0d9bb0"/>
<use href="#C-CHE" fill="#80deea"/>
<use href="#C-AUT" fill="#0d9bb0"/>
<use href="#C-CZE" fill="#80deea"/>
<use href="#C-SVK" fill="#4dd0e1"/>
<use href="#C-HUN" fill="#b2ebf2"/>
<use href="#C-ESP" fill="#1779ba"/>
<use href="#C-PRT" fill="#1779ba"/>
<use href="#C-ITA" fill="#1779ba"/>
<use href="#C-SVN" fill="#4dd0e1"/>
<use href="#C-HRV" fill="#26c6da"/>
<use href="#C-BIH" fill="#b2ebf2"/>
<use href="#C-SRB" fill="#e0f7fa"/>
<use href="#C-MNE" fill="#ff9800"/>
<use href="#C-ALB" fill="#e0f7fa"/>
<use href="#C-MKD" fill="#fff"/>
<use href="#C-GRC" fill="#4dd0e1"/>
<use href="#C-BGR" fill="#e65100"/>
<use href="#C-ROU" fill="#e65100"/>
<use href="#C-TUR" fill="#4dd0e1"/>
<use href="#C-GEO" fill="#4dd0e1"/>
<use href="#C-ARM" fill="#4dd0e1"/>
<use href="#C-AZE" fill="#80deea"/>
<use href="#C-SYR" fill="#e0f7fa"/>
<use href="#C-LBN" fill="#ff9800"/>
<use href="#C-ISR" fill="#26c6da"/>
<use href="#C-JOR" fill="#1779ba"/>
<use href="#C-IRQ" fill="#f8bbd0"/>
<use href="#C-KWT" fill="#0b3652"/>
<use href="#C-SAU" fill="#b2ebf2"/>
<use href="#C-QAT" fill="#4dd0e1"/>
<use href="#C-ARE" fill="#26c6da"/>
<use href="#C-OMN" fill="#4dd0e1"/>
<use href="#C-YEM" fill="#b2ebf2"/>
<use href="#C-IRN" fill="#f8bbd0"/>
<use href="#C-TKM" fill="#0b3652"/>
<use href="#C-UZB" fill="#0b3652"/>
<use href="#C-KAZ" fill="#0b3652"/>
<use href="#C-KGZ" fill="#0b3652"/>
<use href="#C-TJK" fill="#0b3652"/>
<use href="#C-AFG" fill="#b2ebf2"/>
<use href="#C-PAK" fill="#80deea"/>
<use href="#C-IND" fill="#80deea"/>
<use href="#C-NPL" fill="#80deea"/>
<use href="#C-BTN" fill="#4dd0e1"/>
<use href="#C-BGD" fill="#4dd0e1"/>
<use href="#C-MMR" fill="#1779ba"/>
<use href="#C-THA" fill="#80deea"/>
<use href="#C-LAO" fill="#e65100"/>
<use href="#C-VNM" fill="#e65100"/>
<use href="#C-KHM" fill="#b2ebf2"/>
<use href="#C-MYS" fill="#b2ebf2"/>
<use href="#C-PRK" fill="#ff9800"/>
<use href="#C-KOR" fill="#0b3652"/>
<use href="#C-MNG" fill="#1779ba"/>
<use href="#C-CHN" fill="#ff9800"/>
</g>
<use href="#L-ireland" fill="#26c6da" stroke="none"/>
<g clip-path="url(#K-ireland)">
<use href="#C-NIR" fill="#4dd0e1"/>
</g>
<use href="#L-borneo" fill="#ff9800" stroke="none"/>
<g clip-path="url(#K-borneo)">
<use href="#C-MYS2" fill="#b2ebf2"/>
<use href="#C-BRN" fill="#b2ebf2"/>
</g>
<use href="#L-newguinea" fill="#ff9800" stroke="none"/>
<g clip-path="url(#K-newguinea)">
<use href="#C-PNG" fill="#b2ebf2"/>
</g>
<use href="#L-timor" fill="#ff9800" stroke="none"/>
<g clip-path="url(#K-timor)">
<use href="#C-TLS" fill="#ff9800"/>
</g>
<use href="#L-hispaniola" fill="#ff9800" stroke="none"/>
<g clip-path="url(#K-hispaniola)">
<use href="#C-HTI" fill="#b2ebf2"/>
</g>
<g fill="none" style="stroke-width:calc(var(--sw)*1.2)"><use href="#L-namerica"/><use href="#L-aleutians" fill="#26c6da"/><use href="#L-kodiak" fill="#26c6da"/><use href="#L-vancouver" fill="#0b3652"/><use href="#L-haida" fill="#0b3652"/><use href="#L-newfoundland" fill="#0b3652"/><use href="#L-anticosti" fill="#0b3652"/><use href="#L-baffin" fill="#0b3652"/><use href="#L-victoria" fill="#0b3652"/><use href="#L-banks" fill="#0b3652"/><use href="#L-ellesmere" fill="#0b3652"/><use href="#L-devon" fill="#0b3652"/><use href="#L-axel" fill="#0b3652"/><use href="#L-melville" fill="#0b3652"/><use href="#L-pow" fill="#0b3652"/><use href="#L-somerset" fill="#0b3652"/><use href="#L-southampton" fill="#0b3652"/><use href="#L-ppatrick" fill="#0b3652"/><use href="#L-bathurst" fill="#0b3652"/><use href="#L-ringnes" fill="#0b3652"/><use href="#L-kingwilliam" fill="#0b3652"/><use href="#L-coats" fill="#0b3652"/><use href="#L-greenland" fill="#0d9bb0"/><use href="#L-iceland" fill="#1779ba"/><use href="#L-samerica"/><use href="#L-trinidad" fill="#4dd0e1"/><use href="#L-africa"/><use href="#L-madagascar" fill="#4dd0e1"/><use href="#L-eurasia"/><use href="#L-gb" fill="#4dd0e1"/><use href="#L-ireland"/><use href="#L-hokkaido" fill="#26c6da"/><use href="#L-honshu" fill="#26c6da"/><use href="#L-kyushu" fill="#26c6da"/><use href="#L-shikoku" fill="#26c6da"/><use href="#L-sakhalin" fill="#1779ba"/><use href="#L-taiwan" fill="#80deea"/><use href="#L-hainan" fill="#ff9800"/><use href="#L-srilanka" fill="#e65100"/><use href="#L-luzon" fill="#fff"/><use href="#L-mindanao" fill="#fff"/><use href="#L-samar" fill="#fff"/><use href="#L-panay" fill="#fff"/><use href="#L-palawan" fill="#fff"/><use href="#L-mindoro" fill="#fff"/><use href="#L-sumatra" fill="#ff9800"/><use href="#L-java" fill="#ff9800"/><use href="#L-borneo"/><use href="#L-sulawesi" fill="#ff9800"/><use href="#L-newguinea"/><use href="#L-nusa1" fill="#ff9800"/><use href="#L-flores" fill="#ff9800"/><use href="#L-sumba" fill="#ff9800"/><use href="#L-timor"/><use href="#L-halmahera" fill="#ff9800"/><use href="#L-seram" fill="#ff9800"/><use href="#L-buru" fill="#ff9800"/><use href="#L-newbritain" fill="#b2ebf2"/><use href="#L-newireland" fill="#b2ebf2"/><use href="#L-bougainville" fill="#b2ebf2"/><use href="#L-solomons" fill="#fff"/><use href="#L-newcaledonia" fill="#fff"/><use href="#L-vanuatu" fill="#fff"/><use href="#L-fiji" fill="#fff"/><use href="#L-australia" fill="#1779ba"/><use href="#L-tasmania" fill="#1779ba"/><use href="#L-nz_n" fill="#1779ba"/><use href="#L-nz_s" fill="#1779ba"/><use href="#L-svalbard" fill="#0d9bb0"/><use href="#L-novaya" fill="#1779ba"/><use href="#L-sevzem" fill="#1779ba"/><use href="#L-fjl" fill="#1779ba"/><use href="#L-newsib" fill="#1779ba"/><use href="#L-wrangel" fill="#1779ba"/><use href="#L-kolguyev" fill="#1779ba"/><use href="#L-cuba" fill="#e65100"/><use href="#L-hispaniola"/><use href="#L-jamaica" fill="#ff9800"/><use href="#L-puertorico" fill="#1779ba"/><use href="#L-bahamas1" fill="#26c6da"/><use href="#L-bahamas2" fill="#26c6da"/><use href="#L-sicily" fill="#1779ba"/><use href="#L-sardinia" fill="#1779ba"/><use href="#L-corsica" fill="#0d9bb0"/><use href="#L-crete" fill="#4dd0e1"/><use href="#L-cyprus" fill="#fff"/><use href="#L-zealand" fill="#4dd0e1"/><use href="#L-funen" fill="#4dd0e1"/><use href="#L-gotland" fill="#b2ebf2"/><use href="#L-saaremaa" fill="#80deea"/><use href="#L-socotra" fill="#b2ebf2"/><use href="#L-hawaii" fill="#26c6da"/><use href="#L-hawaii2" fill="#26c6da"/><use href="#L-galapagos" fill="#4dd0e1"/><use href="#L-kerguelen" fill="#fff"/><use href="#L-cornwallis" fill="#0b3652"/><use href="#L-borden" fill="#0b3652"/><use href="#L-amund" fill="#0b3652"/><use href="#L-bylot" fill="#0b3652"/><use href="#L-princecharles" fill="#0b3652"/><use href="#L-mansel" fill="#0b3652"/><use href="#L-akimiski" fill="#0b3652"/><use href="#L-eglinton" fill="#0b3652"/><use href="#L-mackenzieking" fill="#0b3652"/><use href="#L-belcher" fill="#0b3652"/></g>
<use href="#W-caspian" fill="#fff"/>
<use href="#W-blacksea" fill="#fff"/>
<use href="#DOTS" fill="#000" stroke="none"/>
</g></defs>
<g clip-path="url(#F-a)"><use href="#world-a" style="--sw:1.15px;stroke-width:1.15px" /></g>
<rect x="59.2" y="67" width="713.4" height="395.1" fill="none" stroke="#3a3a3a" stroke-width="1.4"/>
<text transform="translate(794.0,159.8) scale(1.100,1)" font-size="11.4" font-weight="normal" text-anchor="start" fill="#000" >EAPC</text>
<rect x="794.6" y="168.3" width="19.5" height="17.9" fill="#0b3652" stroke="#1a1a1a" stroke-width="1.3"/>
<text transform="translate(822.6,182.0) scale(1.100,1)" font-size="13.6" font-weight="normal" text-anchor="start" fill="#000" >-3.3700~ -2.067</text>
<rect x="794.6" y="187.4" width="19.5" height="17.9" fill="#1779ba" stroke="#1a1a1a" stroke-width="1.3"/>
<text transform="translate(822.6,201.1) scale(1.100,1)" font-size="13.6" font-weight="normal" text-anchor="start" fill="#000" >-2.067~ -1.650</text>
<rect x="794.6" y="206.5" width="19.5" height="17.9" fill="#26c6da" stroke="#1a1a1a" stroke-width="1.3"/>
<text transform="translate(822.6,220.2) scale(1.100,1)" font-size="13.6" font-weight="normal" text-anchor="start" fill="#000" >-1.650~ -1.293</text>
<rect x="794.6" y="225.7" width="19.5" height="17.9" fill="#0d9bb0" stroke="#1a1a1a" stroke-width="1.3"/>
<text transform="translate(822.6,239.4) scale(1.100,1)" font-size="13.6" font-weight="normal" text-anchor="start" fill="#000" >-1.293~ -0.960</text>
<rect x="794.6" y="244.8" width="19.5" height="17.9" fill="#4dd0e1" stroke="#1a1a1a" stroke-width="1.3"/>
<text transform="translate(822.6,258.5) scale(1.100,1)" font-size="13.6" font-weight="normal" text-anchor="start" fill="#000" >-0.960~ -0.640</text>
<rect x="794.6" y="263.9" width="19.5" height="17.9" fill="#80deea" stroke="#1a1a1a" stroke-width="1.3"/>
<text transform="translate(822.6,277.6) scale(1.100,1)" font-size="13.6" font-weight="normal" text-anchor="start" fill="#000" >-0.640~ -0.372</text>
<rect x="794.6" y="283.0" width="19.5" height="17.9" fill="#b2ebf2" stroke="#1a1a1a" stroke-width="1.3"/>
<text transform="translate(822.6,296.7) scale(1.100,1)" font-size="13.6" font-weight="normal" text-anchor="start" fill="#000" >-0.372~ -0.129</text>
<rect x="794.6" y="302.1" width="19.5" height="17.9" fill="#e0f7fa" stroke="#1a1a1a" stroke-width="1.3"/>
<text transform="translate(822.6,315.8) scale(1.100,1)" font-size="13.6" font-weight="normal" text-anchor="start" fill="#000" >-0.129~ 0</text>
<rect x="794.6" y="321.3" width="19.5" height="17.9" fill="#f8bbd0" stroke="#1a1a1a" stroke-width="1.3"/>
<text transform="translate(822.6,335.0) scale(1.100,1)" font-size="13.6" font-weight="normal" text-anchor="start" fill="#000" >0~ 0.174</text>
<rect x="794.6" y="340.4" width="19.5" height="17.9" fill="#ff9800" stroke="#1a1a1a" stroke-width="1.3"/>
<text transform="translate(822.6,354.1) scale(1.100,1)" font-size="13.6" font-weight="normal" text-anchor="start" fill="#000" >0.174~ 0.695</text>
<rect x="794.6" y="359.5" width="19.5" height="17.9" fill="#e65100" stroke="#1a1a1a" stroke-width="1.3"/>
<text transform="translate(822.6,373.2) scale(1.100,1)" font-size="13.6" font-weight="normal" text-anchor="start" fill="#000" >0.695~ 2.490</text>
<text transform="translate(59.5,486.1) scale(1.100,1)" font-size="11.4" font-weight="normal" text-anchor="start" fill="#000" >Caribbean and Central America</text>
<clipPath id="I-a-0"><rect x="59.3" y="494.6" width="166.4" height="131.1"/></clipPath>
<g clip-path="url(#I-a-0)"><g transform="translate(59.30,494.60) scale(2.7661,2.2074) translate(-245.40,-225.43)">
<use href="#world-a" style="--sw:1.6px;stroke-width:1.6px"/>
</g></g>
<rect x="59.3" y="494.6" width="166.4" height="131.1" fill="none" stroke="#333" stroke-width="1.3"/>
<text transform="translate(243.8,486.1) scale(1.100,1)" font-size="11.4" font-weight="normal" text-anchor="start" fill="#000" >Persian Gulf</text>
<clipPath id="I-a-1"><rect x="243.6" y="494.4" width="110.1" height="130.7"/></clipPath>
<g clip-path="url(#I-a-1)"><g transform="translate(243.60,494.40) scale(5.6238,3.9639) translate(-484.73,-219.44)">
<use href="#world-a" style="--sw:1.6px;stroke-width:1.6px"/>
</g></g>
<rect x="243.6" y="494.4" width="110.1" height="130.7" fill="none" stroke="#333" stroke-width="1.3"/>
<text transform="translate(371.9,486.1) scale(1.100,1)" font-size="11.4" font-weight="normal" text-anchor="start" fill="#000" >Balkan Peninsula</text>
<clipPath id="I-a-2"><rect x="371.7" y="494.4" width="121.9" height="131.3"/></clipPath>
<g clip-path="url(#I-a-2)"><g transform="translate(371.70,494.40) scale(3.1717,2.6062) translate(-426.31,-162.27)">
<use href="#world-a" style="--sw:1.6px;stroke-width:1.6px"/>
</g></g>
<rect x="371.7" y="494.4" width="121.9" height="131.3" fill="none" stroke="#333" stroke-width="1.3"/>
<text transform="translate(511.4,486.1) scale(1.100,1)" font-size="11.4" font-weight="normal" text-anchor="start" fill="#000" >Southeast Asia</text>
<clipPath id="I-a-3"><rect x="511.2" y="494.2" width="132.7" height="131.4"/></clipPath>
<g clip-path="url(#I-a-3)"><g transform="translate(511.20,494.20) scale(2.9366,2.5297) translate(-574.40,-274.40)">
<use href="#world-a" style="--sw:1.6px;stroke-width:1.6px"/>
</g></g>
<rect x="511.2" y="494.2" width="132.7" height="131.4" fill="none" stroke="#333" stroke-width="1.3"/>
<text transform="translate(662.1,486.1) scale(1.100,1)" font-size="11.4" font-weight="normal" text-anchor="start" fill="#000" >West Africa</text>
<clipPath id="I-a-4"><rect x="661.9" y="494.5" width="46.4" height="49.7"/></clipPath>
<g clip-path="url(#I-a-4)"><g transform="translate(661.90,494.50) scale(2.4134,1.3672) translate(-375.39,-248.65)">
<use href="#world-a" style="--sw:1.6px;stroke-width:1.6px"/>
</g></g>
<rect x="661.9" y="494.5" width="46.4" height="49.7" fill="none" stroke="#333" stroke-width="1.3"/>
<text transform="translate(726.5,486.1) scale(1.100,1)" font-size="11.4" font-weight="normal" text-anchor="start" fill="#000" >Eastern Mediterranean</text>
<clipPath id="I-a-5"><rect x="726.3" y="494.5" width="46.4" height="49.7"/></clipPath>
<g clip-path="url(#I-a-5)"><g transform="translate(726.30,494.50) scale(5.5301,3.1162) translate(-462.81,-209.81)">
<use href="#world-a" style="--sw:1.6px;stroke-width:1.6px"/>
</g></g>
<rect x="726.3" y="494.5" width="46.4" height="49.7" fill="none" stroke="#333" stroke-width="1.3"/>
<text transform="translate(662.1,567.4) scale(1.100,1)" font-size="11.4" font-weight="normal" text-anchor="start" fill="#000" >Northern Europe</text>
<clipPath id="I-a-6"><rect x="661.9" y="576.4" width="110.8" height="49.2"/></clipPath>
<g clip-path="url(#I-a-6)"><g transform="translate(661.90,576.40) scale(2.9001,1.5375) translate(-413.80,-145.89)">
<use href="#world-a" style="--sw:1.6px;stroke-width:1.6px"/>
</g></g>
<rect x="661.9" y="576.4" width="110.8" height="49.2" fill="none" stroke="#333" stroke-width="1.3"/></g>
<g id="mapB" transform="translate(60,656.5) scale(1.0112,1) translate(-60,0)"><text transform="translate(491.4,19.2) scale(1.103,1)" font-size="18" font-weight="bold" text-anchor="middle" fill="#000" >EAPC for the Deaths rate</text>
<text transform="translate(59.4,59.0) scale(1.088,1)" font-size="11.4" font-weight="normal" text-anchor="start" fill="#000" >EAPC for the Deaths rate</text>
<clipPath id="F-b"><rect x="59.2" y="67" width="713.4" height="395.1"/></clipPath>
<defs><g id="world-b" stroke="#000" stroke-linejoin="round">
<use href="#L-namerica" fill="#1779ba" stroke="none"/>
<g clip-path="url(#K-namerica)">
<use href="#C-USA" fill="#72aedb"/>
<use href="#C-ALASKA" fill="#72aedb"/>
<use href="#C-MEX" fill="#0b3652"/>
<use href="#C-GTM" fill="#0b3652"/>
<use href="#C-BLZ" fill="#e65100"/>
<use href="#C-SLV" fill="#4dd0e1"/>
<use href="#C-HND" fill="#e65100"/>
<use href="#C-NIC" fill="#0d9bb0"/>
<use href="#C-CRI" fill="#1779ba"/>
<use href="#C-PAN" fill="#1779ba"/>
<use href="#C-COLtip" fill="#0b3652"/>
</g>
<use href="#L-samerica" fill="#80deea" stroke="none"/>
<g clip-path="url(#K-samerica)">
<use href="#C-COL" fill="#0b3652"/>
<use href="#C-VEN" fill="#26c6da"/>
<use href="#C-GUY" fill="#e0f7fa"/>
<use href="#C-SUR" fill="#fff"/>
<use href="#C-GUF" fill="#fff"/>
<use href="#C-ECU" fill="#26c6da"/>
<use href="#C-PER" fill="#72aedb"/>
<use href="#C-BOL" fill="#26c6da"/>
<use href="#C-PRY" fill="#e65100"/>
<use href="#C-URY" fill="#4dd0e1"/>
<use href="#C-ARG" fill="#26c6da"/>
<use href="#C-CHL" fill="#1779ba"/>
</g>
<use href="#L-africa" fill="#b2ebf2" stroke="none"/>
<g clip-path="url(#K-africa)">
<use href="#C-MAR" fill="#b2ebf2"/>
<use href="#C-ESH" fill="#fff"/>
<use href="#C-MRT" fill="#e65100"/>
<use href="#C-DZA" fill="#0d9bb0"/>
<use href="#C-TUN" fill="#fff"/>
<use href="#C-LBY" fill="#e0f7fa"/>
<use href="#C-EGY" fill="#ff9800"/>
<use href="#C-MLI" fill="#ff9800"/>
<use href="#C-NER" fill="#e65100"/>
<use href="#C-TCD" fill="#e65100"/>
<use href="#C-SDN" fill="#4dd0e1"/>
<use href="#C-SSD" fill="#0d9bb0"/>
<use href="#C-ETH" fill="#72aedb"/>
<use href="#C-ERI" fill="#4dd0e1"/>
<use href="#C-DJI" fill="#80deea"/>
<use href="#C-SOM" fill="#80deea"/>
<use href="#C-KEN" fill="#e65100"/>
<use href="#C-UGA" fill="#26c6da"/>
<use href="#C-RWA" fill="#26c6da"/>
<use href="#C-BDI" fill="#26c6da"/>
<use href="#C-TZA" fill="#26c6da"/>
<use href="#C-MOZ" fill="#ff9800"/>
<use href="#C-MWI" fill="#b2ebf2"/>
<use href="#C-ZMB" fill="#b2ebf2"/>
<use href="#C-ZWE" fill="#e0f7fa"/>
<use href="#C-AGO" fill="#80deea"/>
<use href="#C-CABINDA" fill="#80deea"/>
<use href="#C-NAM" fill="#b2ebf2"/>
<use href="#C-BWA" fill="#26c6da"/>
<use href="#C-ZAF" fill="#80deea"/>
<use href="#C-LSO" fill="#80deea"/>
<use href="#C-SWZ" fill="#80deea"/>
<use href="#C-COG" fill="#4dd0e1"/>
<use href="#C-GAB" fill="#80deea"/>
<use href="#C-GNQ" fill="#80deea"/>
<use href="#C-CMR" fill="#e65100"/>
<use href="#C-CAF" fill="#4dd0e1"/>
<use href="#C-NGA" fill="#80deea"/>
<use href="#C-BEN" fill="#ff9800"/>
<use href="#C-TGO" fill="#e65100"/>
<use href="#C-GHA" fill="#e65100"/>
<use href="#C-BFA" fill="#e65100"/>
<use href="#C-CIV" fill="#fff"/>
<use href="#C-LBR" fill="#ffd600"/>
<use href="#C-SLE" fill="#e65100"/>
<use href="#C-GIN" fill="#e65100"/>
<use href="#C-GNB" fill="#e65100"/>
<use href="#C-SEN" fill="#e65100"/>
<use href="#C-GMB" fill="#e65100"/>
</g>
<use href="#L-eurasia" fill="#1779ba" stroke="none"/>
<g clip-path="url(#K-eurasia)">
<use href="#C-NOR" fill="#72aedb"/>
<use href="#C-SWE" fill="#0d9bb0"/>
<use href="#C-FIN" fill="#26c6da"/>
<use href="#C-EST" fill="#4dd0e1"/>
<use href="#C-LVA" fill="#1779ba"/>
<use href="#C-LTU" fill="#0d9bb0"/>
<use href="#C-BLR" fill="#72aedb"/>
<use href="#C-UKR" fill="#72aedb"/>
<use href="#C-MDA" fill="#80deea"/>
<use href="#C-POL" fill="#0d9bb0"/>
<use href="#C-DEU" fill="#0d9bb0"/>
<use href="#C-DNK" fill="#1779ba"/>
<use href="#C-NLD" fill="#1779ba"/>
<use href="#C-BEL" fill="#0b3652"/>
<use href="#C-FRA" fill="#0b3652"/>
<use href="#C-CHE" fill="#4dd0e1"/>
<use href="#C-AUT" fill="#26c6da"/>
<use href="#C-CZE" fill="#26c6da"/>
<use href="#C-SVK" fill="#26c6da"/>
<use href="#C-HUN" fill="#4dd0e1"/>
<use href="#C-ESP" fill="#1779ba"/>
<use href="#C-PRT" fill="#1779ba"/>
<use href="#C-ITA" fill="#1779ba"/>
<use href="#C-SVN" fill="#4dd0e1"/>
<use href="#C-HRV" fill="#4dd0e1"/>
<use href="#C-BIH" fill="#80deea"/>
<use href="#C-SRB" fill="#80deea"/>
<use href="#C-MNE" fill="#fff"/>
<use href="#C-ALB" fill="#b2ebf2"/>
<use href="#C-MKD" fill="#b2ebf2"/>
<use href="#C-GRC" fill="#80deea"/>
<use href="#C-BGR" fill="#e65100"/>
<use href="#C-ROU" fill="#ff9800"/>
<use href="#C-TUR" fill="#72aedb"/>
<use href="#C-GEO" fill="#4dd0e1"/>
<use href="#C-ARM" fill="#4dd0e1"/>
<use href="#C-AZE" fill="#4dd0e1"/>
<use href="#C-SYR" fill="#0d9bb0"/>
<use href="#C-LBN" fill="#e0f7fa"/>
<use href="#C-ISR" fill="#72aedb"/>
<use href="#C-JOR" fill="#0b3652"/>
<use href="#C-IRQ" fill="#4dd0e1"/>
<use href="#C-KWT" fill="#0b3652"/>
<use href="#C-SAU" fill="#72aedb"/>
<use href="#C-QAT" fill="#0b3652"/>
<use href="#C-ARE" fill="#1779ba"/>
<use href="#C-OMN" fill="#72aedb"/>
<use href="#C-YEM" fill="#e0f7fa"/>
<use href="#C-IRN" fill="#4dd0e1"/>
<use href="#C-TKM" fill="#0b3652"/>
<use href="#C-UZB" fill="#0b3652"/>
<use href="#C-KAZ" fill="#0b3652"/>
<use href="#C-KGZ" fill="#0b3652"/>
<use href="#C-TJK" fill="#0b3652"/>
<use href="#C-AFG" fill="#b2ebf2"/>
<use href="#C-PAK" fill="#80deea"/>
<use href="#C-IND" fill="#80deea"/>
<use href="#C-NPL" fill="#80deea"/>
<use href="#C-BTN" fill="#4dd0e1"/>
<use href="#C-BGD" fill="#4dd0e1"/>
<use href="#C-MMR" fill="#72aedb"/>
<use href="#C-THA" fill="#4dd0e1"/>
<use href="#C-LAO" fill="#4dd0e1"/>
<use href="#C-VNM" fill="#b2ebf2"/>
<use href="#C-KHM" fill="#b2ebf2"/>
<use href="#C-MYS" fill="#4dd0e1"/>
<use href="#C-PRK" fill="#fff"/>
<use href="#C-KOR" fill="#0b3652"/>
<use href="#C-MNG" fill="#1779ba"/>
<use href="#C-CHN" fill="#0d9bb0"/>
</g>
<use href="#L-ireland" fill="#0b3652" stroke="none"/>
<g clip-path="url(#K-ireland)">
<use href="#C-NIR" fill="#4dd0e1"/>
</g>
<use href="#L-borneo" fill="#b2ebf2" stroke="none"/>
<g clip-path="url(#K-borneo)">
<use href="#C-MYS2" fill="#4dd0e1"/>
<use href="#C-BRN" fill="#4dd0e1"/>
</g>
<use href="#L-newguinea" fill="#b2ebf2" stroke="none"/>
<g clip-path="url(#K-newguinea)">
<use href="#C-PNG" fill="#b2ebf2"/>
</g>
<use href="#L-timor" fill="#b2ebf2" stroke="none"/>
<g clip-path="url(#K-timor)">
<use href="#C-TLS" fill="#b2ebf2"/>
</g>
<use href="#L-hispaniola" fill="#ff9800" stroke="none"/>
<g clip-path="url(#K-hispaniola)">
<use href="#C-HTI" fill="#80deea"/>
</g>
<g fill="none" style="stroke-width:calc(var(--sw)*1.2)"><use href="#L-namerica"/><use href="#L-aleutians" fill="#72aedb"/><use href="#L-kodiak" fill="#72aedb"/><use href="#L-vancouver" fill="#1779ba"/><use href="#L-haida" fill="#1779ba"/><use href="#L-newfoundland" fill="#1779ba"/><use href="#L-anticosti" fill="#1779ba"/><use href="#L-baffin" fill="#1779ba"/><use href="#L-victoria" fill="#1779ba"/><use href="#L-banks" fill="#1779ba"/><use href="#L-ellesmere" fill="#1779ba"/><use href="#L-devon" fill="#1779ba"/><use href="#L-axel" fill="#1779ba"/><use href="#L-melville" fill="#1779ba"/><use href="#L-pow" fill="#1779ba"/><use href="#L-somerset" fill="#1779ba"/><use href="#L-southampton" fill="#1779ba"/><use href="#L-ppatrick" fill="#1779ba"/><use href="#L-bathurst" fill="#1779ba"/><use href="#L-ringnes" fill="#1779ba"/><use href="#L-kingwilliam" fill="#1779ba"/><use href="#L-coats" fill="#1779ba"/><use href="#L-greenland" fill="#26c6da"/><use href="#L-iceland" fill="#1779ba"/><use href="#L-samerica"/><use href="#L-trinidad" fill="#26c6da"/><use href="#L-africa"/><use href="#L-madagascar" fill="#0d9bb0"/><use href="#L-eurasia"/><use href="#L-gb" fill="#4dd0e1"/><use href="#L-ireland"/><use href="#L-hokkaido" fill="#26c6da"/><use href="#L-honshu" fill="#26c6da"/><use href="#L-kyushu" fill="#26c6da"/><use href="#L-shikoku" fill="#26c6da"/><use href="#L-sakhalin" fill="#1779ba"/><use href="#L-taiwan" fill="#1779ba"/><use href="#L-hainan" fill="#0d9bb0"/><use href="#L-srilanka" fill="#e65100"/><use href="#L-luzon" fill="#fff"/><use href="#L-mindanao" fill="#fff"/><use href="#L-samar" fill="#fff"/><use href="#L-panay" fill="#fff"/><use href="#L-palawan" fill="#fff"/><use href="#L-mindoro" fill="#fff"/><use href="#L-sumatra" fill="#b2ebf2"/><use href="#L-java" fill="#b2ebf2"/><use href="#L-borneo"/><use href="#L-sulawesi" fill="#b2ebf2"/><use href="#L-newguinea"/><use href="#L-nusa1" fill="#b2ebf2"/><use href="#L-flores" fill="#b2ebf2"/><use href="#L-sumba" fill="#b2ebf2"/><use href="#L-timor"/><use href="#L-halmahera" fill="#b2ebf2"/><use href="#L-seram" fill="#b2ebf2"/><use href="#L-buru" fill="#b2ebf2"/><use href="#L-newbritain" fill="#b2ebf2"/><use href="#L-newireland" fill="#b2ebf2"/><use href="#L-bougainville" fill="#b2ebf2"/><use href="#L-solomons" fill="#fff"/><use href="#L-newcaledonia" fill="#fff"/><use href="#L-vanuatu" fill="#fff"/><use href="#L-fiji" fill="#fff"/><use href="#L-australia" fill="#1779ba"/><use href="#L-tasmania" fill="#1779ba"/><use href="#L-nz_n" fill="#1779ba"/><use href="#L-nz_s" fill="#1779ba"/><use href="#L-svalbard" fill="#72aedb"/><use href="#L-novaya" fill="#1779ba"/><use href="#L-sevzem" fill="#1779ba"/><use href="#L-fjl" fill="#1779ba"/><use href="#L-newsib" fill="#1779ba"/><use href="#L-wrangel" fill="#1779ba"/><use href="#L-kolguyev" fill="#1779ba"/><use href="#L-cuba" fill="#e65100"/><use href="#L-hispaniola"/><use href="#L-jamaica" fill="#ff9800"/><use href="#L-puertorico" fill="#0b3652"/><use href="#L-bahamas1" fill="#72aedb"/><use href="#L-bahamas2" fill="#72aedb"/><use href="#L-sicily" fill="#1779ba"/><use href="#L-sardinia" fill="#1779ba"/><use href="#L-corsica" fill="#0b3652"/><use href="#L-crete" fill="#80deea"/><use href="#L-cyprus" fill="#b2ebf2"/><use href="#L-zealand" fill="#1779ba"/><use href="#L-funen" fill="#1779ba"/><use href="#L-gotland" fill="#0d9bb0"/><use href="#L-saaremaa" fill="#4dd0e1"/><use href="#L-socotra" fill="#e0f7fa"/><use href="#L-hawaii" fill="#72aedb"/><use href="#L-hawaii2" fill="#72aedb"/><use href="#L-galapagos" fill="#26c6da"/><use href="#L-kerguelen" fill="#fff"/><use href="#L-cornwallis" fill="#1779ba"/><use href="#L-borden" fill="#1779ba"/><use href="#L-amund" fill="#1779ba"/><use href="#L-bylot" fill="#1779ba"/><use href="#L-princecharles" fill="#1779ba"/><use href="#L-mansel" fill="#1779ba"/><use href="#L-akimiski" fill="#1779ba"/><use href="#L-eglinton" fill="#1779ba"/><use href="#L-mackenzieking" fill="#1779ba"/><use href="#L-belcher" fill="#1779ba"/></g>
<use href="#W-caspian" fill="#fff"/>
<use href="#W-blacksea" fill="#fff"/>
<use href="#DOTS" fill="#000" stroke="none"/>
</g></defs>
<g clip-path="url(#F-b)"><use href="#world-b" style="--sw:1.15px;stroke-width:1.15px" transform="translate(0,-1.55) scale(1,1.0148)"/></g>
<rect x="59.2" y="67" width="713.4" height="395.1" fill="none" stroke="#3a3a3a" stroke-width="1.4"/>
<text transform="translate(794.0,159.8) scale(1.088,1)" font-size="11.4" font-weight="normal" text-anchor="start" fill="#000" >EAPC</text>
<rect x="794.6" y="168.3" width="19.5" height="17.9" fill="#0b3652" stroke="#1a1a1a" stroke-width="1.3"/>
<text transform="translate(822.6,182.0) scale(1.088,1)" font-size="13.6" font-weight="normal" text-anchor="start" fill="#000" >-5.180~ -2.860</text>
<rect x="794.6" y="187.4" width="19.5" height="17.9" fill="#1779ba" stroke="#1a1a1a" stroke-width="1.3"/>
<text transform="translate(822.6,201.1) scale(1.088,1)" font-size="13.6" font-weight="normal" text-anchor="start" fill="#000" >-2.860~ -2.496</text>
<rect x="794.6" y="206.5" width="19.5" height="17.9" fill="#72aedb" stroke="#1a1a1a" stroke-width="1.3"/>
<text transform="translate(822.6,220.2) scale(1.088,1)" font-size="13.6" font-weight="normal" text-anchor="start" fill="#000" >-2.496~ -2.003</text>
<rect x="794.6" y="225.7" width="19.5" height="17.9" fill="#26c6da" stroke="#1a1a1a" stroke-width="1.3"/>
<text transform="translate(822.6,239.4) scale(1.088,1)" font-size="13.6" font-weight="normal" text-anchor="start" fill="#000" >-2.003~ -1.606</text>
<rect x="794.6" y="244.8" width="19.5" height="17.9" fill="#0d9bb0" stroke="#1a1a1a" stroke-width="1.3"/>
<text transform="translate(822.6,258.5) scale(1.088,1)" font-size="13.6" font-weight="normal" text-anchor="start" fill="#000" >-1.606~ -1.240</text>
<rect x="794.6" y="263.9" width="19.5" height="17.9" fill="#4dd0e1" stroke="#1a1a1a" stroke-width="1.3"/>
<text transform="translate(822.6,277.6) scale(1.088,1)" font-size="13.6" font-weight="normal" text-anchor="start" fill="#000" >-1.240~ -0.854</text>
<rect x="794.6" y="283.0" width="19.5" height="17.9" fill="#80deea" stroke="#1a1a1a" stroke-width="1.3"/>
<text transform="translate(822.6,296.7) scale(1.088,1)" font-size="13.6" font-weight="normal" text-anchor="start" fill="#000" >-0.854~ -0.600</text>
<rect x="794.6" y="302.1" width="19.5" height="17.9" fill="#b2ebf2" stroke="#1a1a1a" stroke-width="1.3"/>
<text transform="translate(822.6,315.8) scale(1.088,1)" font-size="13.6" font-weight="normal" text-anchor="start" fill="#000" >-0.600~ -0.186</text>
<rect x="794.6" y="321.3" width="19.5" height="17.9" fill="#e0f7fa" stroke="#1a1a1a" stroke-width="1.3"/>
<text transform="translate(822.6,335.0) scale(1.088,1)" font-size="13.6" font-weight="normal" text-anchor="start" fill="#000" >-0.186~ 0</text>
<rect x="794.6" y="340.4" width="19.5" height="17.9" fill="#ff9800" stroke="#1a1a1a" stroke-width="1.3"/>
<text transform="translate(822.6,354.1) scale(1.088,1)" font-size="13.6" font-weight="normal" text-anchor="start" fill="#000" >0~ 0.330</text>
<rect x="794.6" y="359.5" width="19.5" height="17.9" fill="#e65100" stroke="#1a1a1a" stroke-width="1.3"/>
<text transform="translate(822.6,373.2) scale(1.088,1)" font-size="13.6" font-weight="normal" text-anchor="start" fill="#000" >0.330~ 1.840</text>
<text transform="translate(59.5,486.1) scale(1.088,1)" font-size="11.4" font-weight="normal" text-anchor="start" fill="#000" >Caribbean and Central America</text>
<clipPath id="I-b-0"><rect x="59.3" y="494.6" width="166.4" height="131.1"/></clipPath>
<g clip-path="url(#I-b-0)"><g transform="translate(59.30,494.60) scale(2.7661,2.2074) translate(-245.40,-225.43)">
<use href="#world-b" style="--sw:1.6px;stroke-width:1.6px"/>
</g></g>
<rect x="59.3" y="494.6" width="166.4" height="131.1" fill="none" stroke="#333" stroke-width="1.3"/>
<text transform="translate(243.8,486.1) scale(1.088,1)" font-size="11.4" font-weight="normal" text-anchor="start" fill="#000" >Persian Gulf</text>
<clipPath id="I-b-1"><rect x="243.6" y="494.4" width="110.1" height="130.7"/></clipPath>
<g clip-path="url(#I-b-1)"><g transform="translate(243.60,494.40) scale(5.6238,3.9639) translate(-484.73,-219.44)">
<use href="#world-b" style="--sw:1.6px;stroke-width:1.6px"/>
</g></g>
<rect x="243.6" y="494.4" width="110.1" height="130.7" fill="none" stroke="#333" stroke-width="1.3"/>
<text transform="translate(371.9,486.1) scale(1.088,1)" font-size="11.4" font-weight="normal" text-anchor="start" fill="#000" >Balkan Peninsula</text>
<clipPath id="I-b-2"><rect x="371.7" y="494.4" width="121.9" height="131.3"/></clipPath>
<g clip-path="url(#I-b-2)"><g transform="translate(371.70,494.40) scale(3.1717,2.6062) translate(-426.31,-162.27)">
<use href="#world-b" style="--sw:1.6px;stroke-width:1.6px"/>
</g></g>
<rect x="371.7" y="494.4" width="121.9" height="131.3" fill="none" stroke="#333" stroke-width="1.3"/>
<text transform="translate(511.4,486.1) scale(1.088,1)" font-size="11.4" font-weight="normal" text-anchor="start" fill="#000" >Southeast Asia</text>
<clipPath id="I-b-3"><rect x="511.2" y="494.2" width="132.7" height="131.4"/></clipPath>
<g clip-path="url(#I-b-3)"><g transform="translate(511.20,494.20) scale(2.9366,2.5297) translate(-574.40,-274.40)">
<use href="#world-b" style="--sw:1.6px;stroke-width:1.6px"/>
</g></g>
<rect x="511.2" y="494.2" width="132.7" height="131.4" fill="none" stroke="#333" stroke-width="1.3"/>
<text transform="translate(662.1,486.1) scale(1.088,1)" font-size="11.4" font-weight="normal" text-anchor="start" fill="#000" >West Africa</text>
<clipPath id="I-b-4"><rect x="661.9" y="494.5" width="46.4" height="49.7"/></clipPath>
<g clip-path="url(#I-b-4)"><g transform="translate(661.90,494.50) scale(2.4134,1.3672) translate(-375.39,-248.65)">
<use href="#world-b" style="--sw:1.6px;stroke-width:1.6px"/>
</g></g>
<rect x="661.9" y="494.5" width="46.4" height="49.7" fill="none" stroke="#333" stroke-width="1.3"/>
<text transform="translate(726.5,486.1) scale(1.088,1)" font-size="11.4" font-weight="normal" text-anchor="start" fill="#000" >Eastern Mediterranean</text>
<clipPath id="I-b-5"><rect x="726.3" y="494.5" width="46.4" height="49.7"/></clipPath>
<g clip-path="url(#I-b-5)"><g transform="translate(726.30,494.50) scale(5.5301,3.1162) translate(-462.81,-209.81)">
<use href="#world-b" style="--sw:1.6px;stroke-width:1.6px"/>
</g></g>
<rect x="726.3" y="494.5" width="46.4" height="49.7" fill="none" stroke="#333" stroke-width="1.3"/>
<text transform="translate(662.1,567.4) scale(1.088,1)" font-size="11.4" font-weight="normal" text-anchor="start" fill="#000" >Northern Europe</text>
<clipPath id="I-b-6"><rect x="661.9" y="576.4" width="110.8" height="49.2"/></clipPath>
<g clip-path="url(#I-b-6)"><g transform="translate(661.90,576.40) scale(2.9001,1.5375) translate(-413.80,-145.89)">
<use href="#world-b" style="--sw:1.6px;stroke-width:1.6px"/>
</g></g>
<rect x="661.9" y="576.4" width="110.8" height="49.2" fill="none" stroke="#333" stroke-width="1.3"/></g>
<g id="mapC" transform="translate(0,1313)"><text transform="translate(496.2,19.2) scale(1.115,1)" font-size="18" font-weight="bold" text-anchor="middle" fill="#000" >EAPC for the DALYs rate</text>
<text transform="translate(59.4,59.0) scale(1.100,1)" font-size="11.4" font-weight="normal" text-anchor="start" fill="#000" >EAPC for the DALYs rate</text>
<clipPath id="F-c"><rect x="59.2" y="67" width="713.4" height="395.1"/></clipPath>
<defs><g id="world-c" stroke="#000" stroke-linejoin="round">
<use href="#L-namerica" fill="#0b3652" stroke="none"/>
<g clip-path="url(#K-namerica)">
<use href="#C-USA" fill="#26c6da"/>
<use href="#C-ALASKA" fill="#26c6da"/>
<use href="#C-MEX" fill="#0b3652"/>
<use href="#C-GTM" fill="#0b3652"/>
<use href="#C-BLZ" fill="#e65100"/>
<use href="#C-SLV" fill="#26c6da"/>
<use href="#C-HND" fill="#e65100"/>
<use href="#C-NIC" fill="#0d9bb0"/>
<use href="#C-CRI" fill="#1779ba"/>
<use href="#C-PAN" fill="#1779ba"/>
<use href="#C-COLtip" fill="#0b3652"/>
</g>
<use href="#L-samerica" fill="#80deea" stroke="none"/>
<g clip-path="url(#K-samerica)">
<use href="#C-COL" fill="#0b3652"/>
<use href="#C-VEN" fill="#0d9bb0"/>
<use href="#C-GUY" fill="#ff9800"/>
<use href="#C-SUR" fill="#fff"/>
<use href="#C-GUF" fill="#fff"/>
<use href="#C-ECU" fill="#26c6da"/>
<use href="#C-PER" fill="#1779ba"/>
<use href="#C-BOL" fill="#0d9bb0"/>
<use href="#C-PRY" fill="#e65100"/>
<use href="#C-URY" fill="#b2ebf2"/>
<use href="#C-ARG" fill="#72aedb"/>
<use href="#C-CHL" fill="#1779ba"/>
</g>
<use href="#L-africa" fill="#b2ebf2" stroke="none"/>
<g clip-path="url(#K-africa)">
<use href="#C-MAR" fill="#e0f7fa"/>
<use href="#C-ESH" fill="#fff"/>
<use href="#C-MRT" fill="#ff9800"/>
<use href="#C-DZA" fill="#0d9bb0"/>
<use href="#C-TUN" fill="#fff"/>
<use href="#C-LBY" fill="#e0f7fa"/>
<use href="#C-EGY" fill="#ff9800"/>
<use href="#C-MLI" fill="#e0f7fa"/>
<use href="#C-NER" fill="#e65100"/>
<use href="#C-TCD" fill="#e65100"/>
<use href="#C-SDN" fill="#4dd0e1"/>
<use href="#C-SSD" fill="#4dd0e1"/>
<use href="#C-ETH" fill="#72aedb"/>
<use href="#C-ERI" fill="#4dd0e1"/>
<use href="#C-DJI" fill="#80deea"/>
<use href="#C-SOM" fill="#80deea"/>
<use href="#C-KEN" fill="#e65100"/>
<use href="#C-UGA" fill="#0d9bb0"/>
<use href="#C-RWA" fill="#26c6da"/>
<use href="#C-BDI" fill="#26c6da"/>
<use href="#C-TZA" fill="#26c6da"/>
<use href="#C-MOZ" fill="#ff9800"/>
<use href="#C-MWI" fill="#b2ebf2"/>
<use href="#C-ZMB" fill="#b2ebf2"/>
<use href="#C-ZWE" fill="#ff9800"/>
<use href="#C-AGO" fill="#80deea"/>
<use href="#C-CABINDA" fill="#80deea"/>
<use href="#C-NAM" fill="#e0f7fa"/>
<use href="#C-BWA" fill="#0d9bb0"/>
<use href="#C-ZAF" fill="#b2ebf2"/>
<use href="#C-LSO" fill="#b2ebf2"/>
<use href="#C-SWZ" fill="#b2ebf2"/>
<use href="#C-COG" fill="#4dd0e1"/>
<use href="#C-GAB" fill="#80deea"/>
<use href="#C-GNQ" fill="#80deea"/>
<use href="#C-CMR" fill="#e65100"/>
<use href="#C-CAF" fill="#80deea"/>
<use href="#C-NGA" fill="#4dd0e1"/>
<use href="#C-BEN" fill="#e65100"/>
<use href="#C-TGO" fill="#e65100"/>
<use href="#C-GHA" fill="#e65100"/>
<use href="#C-BFA" fill="#e65100"/>
<use href="#C-CIV" fill="#e0f7fa"/>
<use href="#C-LBR" fill="#e65100"/>
<use href="#C-SLE" fill="#e65100"/>
<use href="#C-GIN" fill="#e65100"/>
<use href="#C-GNB" fill="#e65100"/>
<use href="#C-SEN" fill="#e65100"/>
<use href="#C-GMB" fill="#e65100"/>
</g>
<use href="#L-eurasia" fill="#1779ba" stroke="none"/>
<g clip-path="url(#K-eurasia)">
<use href="#C-NOR" fill="#72aedb"/>
<use href="#C-SWE" fill="#0d9bb0"/>
<use href="#C-FIN" fill="#4dd0e1"/>
<use href="#C-EST" fill="#4dd0e1"/>
<use href="#C-LVA" fill="#26c6da"/>
<use href="#C-LTU" fill="#26c6da"/>
<use href="#C-BLR" fill="#72aedb"/>
<use href="#C-UKR" fill="#72aedb"/>
<use href="#C-MDA" fill="#b2ebf2"/>
<use href="#C-POL" fill="#0d9bb0"/>
<use href="#C-DEU" fill="#26c6da"/>
<use href="#C-DNK" fill="#1779ba"/>
<use href="#C-NLD" fill="#1779ba"/>
<use href="#C-BEL" fill="#26c6da"/>
<use href="#C-FRA" fill="#1779ba"/>
<use href="#C-CHE" fill="#4dd0e1"/>
<use href="#C-AUT" fill="#72aedb"/>
<use href="#C-CZE" fill="#4dd0e1"/>
<use href="#C-SVK" fill="#4dd0e1"/>
<use href="#C-HUN" fill="#4dd0e1"/>
<use href="#C-ESP" fill="#0b3652"/>
<use href="#C-PRT" fill="#1779ba"/>
<use href="#C-ITA" fill="#0b3652"/>
<use href="#C-SVN" fill="#1779ba"/>
<use href="#C-HRV" fill="#72aedb"/>
<use href="#C-BIH" fill="#4dd0e1"/>
<use href="#C-SRB" fill="#0d9bb0"/>
<use href="#C-MNE" fill="#fff"/>
<use href="#C-ALB" fill="#b2ebf2"/>
<use href="#C-MKD" fill="#b2ebf2"/>
<use href="#C-GRC" fill="#80deea"/>
<use href="#C-BGR" fill="#e65100"/>
<use href="#C-ROU" fill="#e0f7fa"/>
<use href="#C-TUR" fill="#1779ba"/>
<use href="#C-GEO" fill="#4dd0e1"/>
<use href="#C-ARM" fill="#4dd0e1"/>
<use href="#C-AZE" fill="#4dd0e1"/>
<use href="#C-SYR" fill="#4dd0e1"/>
<use href="#C-LBN" fill="#4dd0e1"/>
<use href="#C-ISR" fill="#72aedb"/>
<use href="#C-JOR" fill="#0b3652"/>
<use href="#C-IRQ" fill="#26c6da"/>
<use href="#C-KWT" fill="#0b3652"/>
<use href="#C-SAU" fill="#26c6da"/>
<use href="#C-QAT" fill="#1779ba"/>
<use href="#C-ARE" fill="#72aedb"/>
<use href="#C-OMN" fill="#26c6da"/>
<use href="#C-YEM" fill="#26c6da"/>
<use href="#C-IRN" fill="#4dd0e1"/>
<use href="#C-TKM" fill="#0b3652"/>
<use href="#C-UZB" fill="#0b3652"/>
<use href="#C-KAZ" fill="#0b3652"/>
<use href="#C-KGZ" fill="#1779ba"/>
<use href="#C-TJK" fill="#0b3652"/>
<use href="#C-AFG" fill="#80deea"/>
<use href="#C-PAK" fill="#80deea"/>
<use href="#C-IND" fill="#80deea"/>
<use href="#C-NPL" fill="#80deea"/>
<use href="#C-BTN" fill="#4dd0e1"/>
<use href="#C-BGD" fill="#4dd0e1"/>
<use href="#C-MMR" fill="#72aedb"/>
<use href="#C-THA" fill="#4dd0e1"/>
<use href="#C-LAO" fill="#ff9800"/>
<use href="#C-VNM" fill="#ff9800"/>
<use href="#C-KHM" fill="#b2ebf2"/>
<use href="#C-MYS" fill="#4dd0e1"/>
<use href="#C-PRK" fill="#b2ebf2"/>
<use href="#C-KOR" fill="#0b3652"/>
<use href="#C-MNG" fill="#72aedb"/>
<use href="#C-CHN" fill="#26c6da"/>
</g>
<use href="#L-ireland" fill="#1779ba" stroke="none"/>
<g clip-path="url(#K-ireland)">
<use href="#C-NIR" fill="#4dd0e1"/>
</g>
<use href="#L-borneo" fill="#b2ebf2" stroke="none"/>
<g clip-path="url(#K-borneo)">
<use href="#C-MYS2" fill="#4dd0e1"/>
<use href="#C-BRN" fill="#4dd0e1"/>
</g>
<use href="#L-newguinea" fill="#b2ebf2" stroke="none"/>
<g clip-path="url(#K-newguinea)">
<use href="#C-PNG" fill="#b2ebf2"/>
</g>
<use href="#L-timor" fill="#b2ebf2" stroke="none"/>
<g clip-path="url(#K-timor)">
<use href="#C-TLS" fill="#b2ebf2"/>
</g>
<use href="#L-hispaniola" fill="#ff9800" stroke="none"/>
<g clip-path="url(#K-hispaniola)">
<use href="#C-HTI" fill="#80deea"/>
</g>
<g fill="none" style="stroke-width:calc(var(--sw)*1.2)"><use href="#L-namerica"/><use href="#L-aleutians" fill="#26c6da"/><use href="#L-kodiak" fill="#26c6da"/><use href="#L-vancouver" fill="#0b3652"/><use href="#L-haida" fill="#0b3652"/><use href="#L-newfoundland" fill="#0b3652"/><use href="#L-anticosti" fill="#0b3652"/><use href="#L-baffin" fill="#0b3652"/><use href="#L-victoria" fill="#0b3652"/><use href="#L-banks" fill="#0b3652"/><use href="#L-ellesmere" fill="#0b3652"/><use href="#L-devon" fill="#0b3652"/><use href="#L-axel" fill="#0b3652"/><use href="#L-melville" fill="#0b3652"/><use href="#L-pow" fill="#0b3652"/><use href="#L-somerset" fill="#0b3652"/><use href="#L-southampton" fill="#0b3652"/><use href="#L-ppatrick" fill="#0b3652"/><use href="#L-bathurst" fill="#0b3652"/><use href="#L-ringnes" fill="#0b3652"/><use href="#L-kingwilliam" fill="#0b3652"/><use href="#L-coats" fill="#0b3652"/><use href="#L-greenland" fill="#26c6da"/><use href="#L-iceland" fill="#1779ba"/><use href="#L-samerica"/><use href="#L-trinidad" fill="#26c6da"/><use href="#L-africa"/><use href="#L-madagascar" fill="#0d9bb0"/><use href="#L-eurasia"/><use href="#L-gb" fill="#4dd0e1"/><use href="#L-ireland"/><use href="#L-hokkaido" fill="#b2ebf2"/><use href="#L-honshu" fill="#b2ebf2"/><use href="#L-kyushu" fill="#b2ebf2"/><use href="#L-shikoku" fill="#b2ebf2"/><use href="#L-sakhalin" fill="#1779ba"/><use href="#L-taiwan" fill="#1779ba"/><use href="#L-hainan" fill="#26c6da"/><use href="#L-srilanka" fill="#e65100"/><use href="#L-luzon" fill="#fff"/><use href="#L-mindanao" fill="#fff"/><use href="#L-samar" fill="#fff"/><use href="#L-panay" fill="#fff"/><use href="#L-palawan" fill="#fff"/><use href="#L-mindoro" fill="#fff"/><use href="#L-sumatra" fill="#b2ebf2"/><use href="#L-java" fill="#b2ebf2"/><use href="#L-borneo"/><use href="#L-sulawesi" fill="#b2ebf2"/><use href="#L-newguinea"/><use href="#L-nusa1" fill="#b2ebf2"/><use href="#L-flores" fill="#b2ebf2"/><use href="#L-sumba" fill="#b2ebf2"/><use href="#L-timor"/><use href="#L-halmahera" fill="#b2ebf2"/><use href="#L-seram" fill="#b2ebf2"/><use href="#L-buru" fill="#b2ebf2"/><use href="#L-newbritain" fill="#b2ebf2"/><use href="#L-newireland" fill="#b2ebf2"/><use href="#L-bougainville" fill="#b2ebf2"/><use href="#L-solomons" fill="#fff"/><use href="#L-newcaledonia" fill="#fff"/><use href="#L-vanuatu" fill="#fff"/><use href="#L-fiji" fill="#fff"/><use href="#L-australia" fill="#0b3652"/><use href="#L-tasmania" fill="#0b3652"/><use href="#L-nz_n" fill="#0b3652"/><use href="#L-nz_s" fill="#0b3652"/><use href="#L-svalbard" fill="#72aedb"/><use href="#L-novaya" fill="#1779ba"/><use href="#L-sevzem" fill="#1779ba"/><use href="#L-fjl" fill="#1779ba"/><use href="#L-newsib" fill="#1779ba"/><use href="#L-wrangel" fill="#1779ba"/><use href="#L-kolguyev" fill="#1779ba"/><use href="#L-cuba" fill="#e65100"/><use href="#L-hispaniola"/><use href="#L-jamaica" fill="#ff9800"/><use href="#L-puertorico" fill="#26c6da"/><use href="#L-bahamas1" fill="#72aedb"/><use href="#L-bahamas2" fill="#72aedb"/><use href="#L-sicily" fill="#0b3652"/><use href="#L-sardinia" fill="#0b3652"/><use href="#L-corsica" fill="#1779ba"/><use href="#L-crete" fill="#80deea"/><use href="#L-cyprus" fill="#b2ebf2"/><use href="#L-zealand" fill="#1779ba"/><use href="#L-funen" fill="#1779ba"/><use href="#L-gotland" fill="#0d9bb0"/><use href="#L-saaremaa" fill="#4dd0e1"/><use href="#L-socotra" fill="#26c6da"/><use href="#L-hawaii" fill="#26c6da"/><use href="#L-hawaii2" fill="#26c6da"/><use href="#L-galapagos" fill="#26c6da"/><use href="#L-kerguelen" fill="#fff"/><use href="#L-cornwallis" fill="#0b3652"/><use href="#L-borden" fill="#0b3652"/><use href="#L-amund" fill="#0b3652"/><use href="#L-bylot" fill="#0b3652"/><use href="#L-princecharles" fill="#0b3652"/><use href="#L-mansel" fill="#0b3652"/><use href="#L-akimiski" fill="#0b3652"/><use href="#L-eglinton" fill="#0b3652"/><use href="#L-mackenzieking" fill="#0b3652"/><use href="#L-belcher" fill="#0b3652"/></g>
<use href="#W-caspian" fill="#fff"/>
<use href="#W-blacksea" fill="#fff"/>
<use href="#DOTS" fill="#000" stroke="none"/>
</g></defs>
<g clip-path="url(#F-c)"><use href="#world-c" style="--sw:1.15px;stroke-width:1.15px" /></g>
<rect x="59.2" y="67" width="713.4" height="395.1" fill="none" stroke="#3a3a3a" stroke-width="1.4"/>
<text transform="translate(794.0,159.8) scale(1.100,1)" font-size="11.4" font-weight="normal" text-anchor="start" fill="#000" >EAPC</text>
<rect x="794.6" y="168.3" width="19.5" height="17.9" fill="#0b3652" stroke="#1a1a1a" stroke-width="1.3"/>
<text transform="translate(822.6,182.0) scale(1.100,1)" font-size="13.6" font-weight="normal" text-anchor="start" fill="#000" >-5.7100~ -3.050</text>
<rect x="794.6" y="187.4" width="19.5" height="17.9" fill="#1779ba" stroke="#1a1a1a" stroke-width="1.3"/>
<text transform="translate(822.6,201.1) scale(1.100,1)" font-size="13.6" font-weight="normal" text-anchor="start" fill="#000" >-3.050~ -2.630</text>
<rect x="794.6" y="206.5" width="19.5" height="17.9" fill="#72aedb" stroke="#1a1a1a" stroke-width="1.3"/>
<text transform="translate(822.6,220.2) scale(1.100,1)" font-size="13.6" font-weight="normal" text-anchor="start" fill="#000" >-2.630~ -2.071</text>
<rect x="794.6" y="225.7" width="19.5" height="17.9" fill="#26c6da" stroke="#1a1a1a" stroke-width="1.3"/>
<text transform="translate(822.6,239.4) scale(1.100,1)" font-size="13.6" font-weight="normal" text-anchor="start" fill="#000" >-2.071~ -1.708</text>
<rect x="794.6" y="244.8" width="19.5" height="17.9" fill="#0d9bb0" stroke="#1a1a1a" stroke-width="1.3"/>
<text transform="translate(822.6,258.5) scale(1.100,1)" font-size="13.6" font-weight="normal" text-anchor="start" fill="#000" >-1.708~ -1.385</text>
<rect x="794.6" y="263.9" width="19.5" height="17.9" fill="#4dd0e1" stroke="#1a1a1a" stroke-width="1.3"/>
<text transform="translate(822.6,277.6) scale(1.100,1)" font-size="13.6" font-weight="normal" text-anchor="start" fill="#000" >-1.385~ -0.938</text>
<rect x="794.6" y="283.0" width="19.5" height="17.9" fill="#80deea" stroke="#1a1a1a" stroke-width="1.3"/>
<text transform="translate(822.6,296.7) scale(1.100,1)" font-size="13.6" font-weight="normal" text-anchor="start" fill="#000" >-0.938~ -0.614</text>
<rect x="794.6" y="302.1" width="19.5" height="17.9" fill="#b2ebf2" stroke="#1a1a1a" stroke-width="1.3"/>
<text transform="translate(822.6,315.8) scale(1.100,1)" font-size="13.6" font-weight="normal" text-anchor="start" fill="#000" >-0.614~ -0.212</text>
<rect x="794.6" y="321.3" width="19.5" height="17.9" fill="#e0f7fa" stroke="#1a1a1a" stroke-width="1.3"/>
<text transform="translate(822.6,335.0) scale(1.100,1)" font-size="13.6" font-weight="normal" text-anchor="start" fill="#000" >-0.212~ 0</text>
<rect x="794.6" y="340.4" width="19.5" height="17.9" fill="#ff9800" stroke="#1a1a1a" stroke-width="1.3"/>
<text transform="translate(822.6,354.1) scale(1.100,1)" font-size="13.6" font-weight="normal" text-anchor="start" fill="#000" >0~ 0.388</text>
<rect x="794.6" y="359.5" width="19.5" height="17.9" fill="#e65100" stroke="#1a1a1a" stroke-width="1.3"/>
<text transform="translate(822.6,373.2) scale(1.100,1)" font-size="13.6" font-weight="normal" text-anchor="start" fill="#000" >0.388~ 2.040</text>
<text transform="translate(59.5,486.1) scale(1.100,1)" font-size="11.4" font-weight="normal" text-anchor="start" fill="#000" >Caribbean and Central America</text>
<clipPath id="I-c-0"><rect x="59.3" y="494.6" width="166.4" height="131.1"/></clipPath>
<g clip-path="url(#I-c-0)"><g transform="translate(59.30,494.60) scale(2.7661,2.2074) translate(-245.40,-225.43)">
<use href="#world-c" style="--sw:1.6px;stroke-width:1.6px"/>
</g></g>
<rect x="59.3" y="494.6" width="166.4" height="131.1" fill="none" stroke="#333" stroke-width="1.3"/>
<text transform="translate(243.8,486.1) scale(1.100,1)" font-size="11.4" font-weight="normal" text-anchor="start" fill="#000" >Persian Gulf</text>
<clipPath id="I-c-1"><rect x="243.6" y="494.4" width="110.1" height="130.7"/></clipPath>
<g clip-path="url(#I-c-1)"><g transform="translate(243.60,494.40) scale(5.6238,3.9639) translate(-484.73,-219.44)">
<use href="#world-c" style="--sw:1.6px;stroke-width:1.6px"/>
</g></g>
<rect x="243.6" y="494.4" width="110.1" height="130.7" fill="none" stroke="#333" stroke-width="1.3"/>
<text transform="translate(371.9,486.1) scale(1.100,1)" font-size="11.4" font-weight="normal" text-anchor="start" fill="#000" >Balkan Peninsula</text>
<clipPath id="I-c-2"><rect x="371.7" y="494.4" width="121.9" height="131.3"/></clipPath>
<g clip-path="url(#I-c-2)"><g transform="translate(371.70,494.40) scale(3.1717,2.6062) translate(-426.31,-162.27)">
<use href="#world-c" style="--sw:1.6px;stroke-width:1.6px"/>
</g></g>
<rect x="371.7" y="494.4" width="121.9" height="131.3" fill="none" stroke="#333" stroke-width="1.3"/>
<text transform="translate(511.4,486.1) scale(1.100,1)" font-size="11.4" font-weight="normal" text-anchor="start" fill="#000" >Southeast Asia</text>
<clipPath id="I-c-3"><rect x="511.2" y="494.2" width="132.7" height="131.4"/></clipPath>
<g clip-path="url(#I-c-3)"><g transform="translate(511.20,494.20) scale(2.9366,2.5297) translate(-574.40,-274.40)">
<use href="#world-c" style="--sw:1.6px;stroke-width:1.6px"/>
</g></g>
<rect x="511.2" y="494.2" width="132.7" height="131.4" fill="none" stroke="#333" stroke-width="1.3"/>
<text transform="translate(662.1,486.1) scale(1.100,1)" font-size="11.4" font-weight="normal" text-anchor="start" fill="#000" >West Africa</text>
<clipPath id="I-c-4"><rect x="661.9" y="494.5" width="46.4" height="49.7"/></clipPath>
<g clip-path="url(#I-c-4)"><g transform="translate(661.90,494.50) scale(2.4134,1.3672) translate(-375.39,-248.65)">
<use href="#world-c" style="--sw:1.6px;stroke-width:1.6px"/>
</g></g>
<rect x="661.9" y="494.5" width="46.4" height="49.7" fill="none" stroke="#333" stroke-width="1.3"/>
<text transform="translate(726.5,486.1) scale(1.100,1)" font-size="11.4" font-weight="normal" text-anchor="start" fill="#000" >Eastern Mediterranean</text>
<clipPath id="I-c-5"><rect x="726.3" y="494.5" width="46.4" height="49.7"/></clipPath>
<g clip-path="url(#I-c-5)"><g transform="translate(726.30,494.50) scale(5.5301,3.1162) translate(-462.81,-209.81)">
<use href="#world-c" style="--sw:1.6px;stroke-width:1.6px"/>
</g></g>
<rect x="726.3" y="494.5" width="46.4" height="49.7" fill="none" stroke="#333" stroke-width="1.3"/>
<text transform="translate(662.1,567.4) scale(1.100,1)" font-size="11.4" font-weight="normal" text-anchor="start" fill="#000" >Northern Europe</text>
<clipPath id="I-c-6"><rect x="661.9" y="576.4" width="110.8" height="49.2"/></clipPath>
<g clip-path="url(#I-c-6)"><g transform="translate(661.90,576.40) scale(2.9001,1.5375) translate(-413.80,-145.89)">
<use href="#world-c" style="--sw:1.6px;stroke-width:1.6px"/>
</g></g>
<rect x="661.9" y="576.4" width="110.8" height="49.2" fill="none" stroke="#333" stroke-width="1.3"/></g>
</svg>
</body></html>
